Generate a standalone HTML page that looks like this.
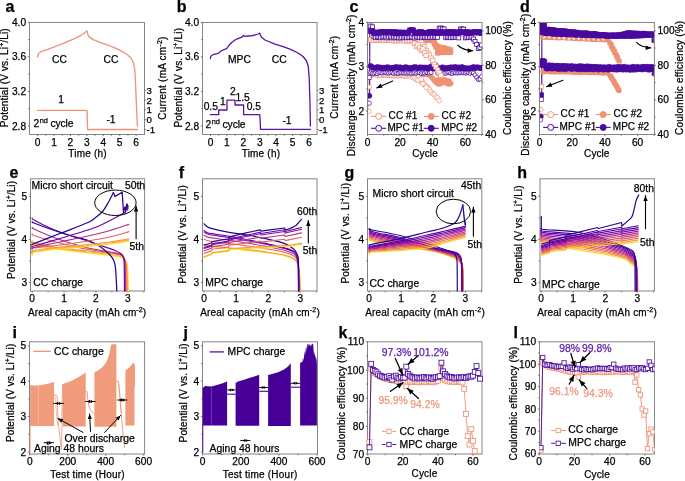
<!DOCTYPE html>
<html><head><meta charset="utf-8"><style>
html,body{margin:0;padding:0;background:#fff;width:685px;height:481px;overflow:hidden}
svg{display:block;will-change:transform}
text{font-family:"Liberation Sans", sans-serif;stroke:currentColor;stroke-width:0.25px;paint-order:stroke}
</style></head><body>
<svg width="685" height="481" viewBox="0 0 685 481">
<rect x="29.5" y="22.5" width="115" height="112" fill="none" stroke="#848484" stroke-width="1"/>
<line x1="27.9" y1="22.3" x2="29.5" y2="22.3" stroke="#555" stroke-width="0.8"/>
<text x="26.1" y="25.8" font-size="10.2" text-anchor="end" font-weight="normal" fill="#000" color="#000">4.0</text>
<line x1="27.9" y1="56.8" x2="29.5" y2="56.8" stroke="#555" stroke-width="0.8"/>
<text x="26.1" y="60.3" font-size="10.2" text-anchor="end" font-weight="normal" fill="#000" color="#000">3.6</text>
<line x1="27.9" y1="91.4" x2="29.5" y2="91.4" stroke="#555" stroke-width="0.8"/>
<text x="26.1" y="94.9" font-size="10.2" text-anchor="end" font-weight="normal" fill="#000" color="#000">3.2</text>
<line x1="27.9" y1="126" x2="29.5" y2="126" stroke="#555" stroke-width="0.8"/>
<text x="26.1" y="129.5" font-size="10.2" text-anchor="end" font-weight="normal" fill="#000" color="#000">2.8</text>
<line x1="28.22" y1="39.55" x2="29.5" y2="39.55" stroke="#555" stroke-width="0.8"/>
<line x1="28.22" y1="74.1" x2="29.5" y2="74.1" stroke="#555" stroke-width="0.8"/>
<line x1="28.22" y1="108.7" x2="29.5" y2="108.7" stroke="#555" stroke-width="0.8"/>
<line x1="37.6" y1="134.5" x2="37.6" y2="136.1" stroke="#555" stroke-width="0.8"/>
<text x="37.6" y="145.6" font-size="10.2" text-anchor="middle" font-weight="normal" fill="#000" color="#000">0</text>
<line x1="54.02" y1="134.5" x2="54.02" y2="136.1" stroke="#555" stroke-width="0.8"/>
<text x="54.02" y="145.6" font-size="10.2" text-anchor="middle" font-weight="normal" fill="#000" color="#000">1</text>
<line x1="70.44" y1="134.5" x2="70.44" y2="136.1" stroke="#555" stroke-width="0.8"/>
<text x="70.44" y="145.6" font-size="10.2" text-anchor="middle" font-weight="normal" fill="#000" color="#000">2</text>
<line x1="86.86" y1="134.5" x2="86.86" y2="136.1" stroke="#555" stroke-width="0.8"/>
<text x="86.86" y="145.6" font-size="10.2" text-anchor="middle" font-weight="normal" fill="#000" color="#000">3</text>
<line x1="103.28" y1="134.5" x2="103.28" y2="136.1" stroke="#555" stroke-width="0.8"/>
<text x="103.28" y="145.6" font-size="10.2" text-anchor="middle" font-weight="normal" fill="#000" color="#000">4</text>
<line x1="119.7" y1="134.5" x2="119.7" y2="136.1" stroke="#555" stroke-width="0.8"/>
<text x="119.7" y="145.6" font-size="10.2" text-anchor="middle" font-weight="normal" fill="#000" color="#000">5</text>
<line x1="136.12" y1="134.5" x2="136.12" y2="136.1" stroke="#555" stroke-width="0.8"/>
<text x="136.12" y="145.6" font-size="10.2" text-anchor="middle" font-weight="normal" fill="#000" color="#000">6</text>
<line x1="45.81" y1="134.5" x2="45.81" y2="135.78" stroke="#555" stroke-width="0.8"/>
<line x1="62.23" y1="134.5" x2="62.23" y2="135.78" stroke="#555" stroke-width="0.8"/>
<line x1="78.65" y1="134.5" x2="78.65" y2="135.78" stroke="#555" stroke-width="0.8"/>
<line x1="95.07" y1="134.5" x2="95.07" y2="135.78" stroke="#555" stroke-width="0.8"/>
<line x1="111.49" y1="134.5" x2="111.49" y2="135.78" stroke="#555" stroke-width="0.8"/>
<line x1="127.91" y1="134.5" x2="127.91" y2="135.78" stroke="#555" stroke-width="0.8"/>
<line x1="144.5" y1="90.3" x2="146.1" y2="90.3" stroke="#555" stroke-width="0.8"/>
<text x="146.6" y="93.8" font-size="9.7" text-anchor="start" font-weight="normal" fill="#000" color="#000">3</text>
<line x1="144.5" y1="100.1" x2="146.1" y2="100.1" stroke="#555" stroke-width="0.8"/>
<text x="146.6" y="103.6" font-size="9.7" text-anchor="start" font-weight="normal" fill="#000" color="#000">2</text>
<line x1="144.5" y1="109.9" x2="146.1" y2="109.9" stroke="#555" stroke-width="0.8"/>
<text x="146.6" y="113.4" font-size="9.7" text-anchor="start" font-weight="normal" fill="#000" color="#000">1</text>
<line x1="144.5" y1="119.7" x2="146.1" y2="119.7" stroke="#555" stroke-width="0.8"/>
<text x="146.6" y="123.2" font-size="9.7" text-anchor="start" font-weight="normal" fill="#000" color="#000">0</text>
<line x1="144.5" y1="129.5" x2="146.1" y2="129.5" stroke="#555" stroke-width="0.8"/>
<text x="146.6" y="133" font-size="9.7" text-anchor="start" font-weight="normal" fill="#000" color="#000">-1</text>
<text x="87.45" y="156.6" font-size="10" text-anchor="middle" font-weight="normal" fill="#000" color="#000" textLength="38.3" lengthAdjust="spacing">Time (h)</text>
<rect x="202.5" y="22.5" width="114.5" height="112" fill="none" stroke="#848484" stroke-width="1"/>
<line x1="200.9" y1="22.3" x2="202.5" y2="22.3" stroke="#555" stroke-width="0.8"/>
<text x="199.1" y="25.8" font-size="10.2" text-anchor="end" font-weight="normal" fill="#000" color="#000">4.0</text>
<line x1="200.9" y1="56.8" x2="202.5" y2="56.8" stroke="#555" stroke-width="0.8"/>
<text x="199.1" y="60.3" font-size="10.2" text-anchor="end" font-weight="normal" fill="#000" color="#000">3.6</text>
<line x1="200.9" y1="91.4" x2="202.5" y2="91.4" stroke="#555" stroke-width="0.8"/>
<text x="199.1" y="94.9" font-size="10.2" text-anchor="end" font-weight="normal" fill="#000" color="#000">3.2</text>
<line x1="200.9" y1="126" x2="202.5" y2="126" stroke="#555" stroke-width="0.8"/>
<text x="199.1" y="129.5" font-size="10.2" text-anchor="end" font-weight="normal" fill="#000" color="#000">2.8</text>
<line x1="201.22" y1="39.55" x2="202.5" y2="39.55" stroke="#555" stroke-width="0.8"/>
<line x1="201.22" y1="74.1" x2="202.5" y2="74.1" stroke="#555" stroke-width="0.8"/>
<line x1="201.22" y1="108.7" x2="202.5" y2="108.7" stroke="#555" stroke-width="0.8"/>
<line x1="210.5" y1="134.5" x2="210.5" y2="136.1" stroke="#555" stroke-width="0.8"/>
<text x="210.5" y="145.6" font-size="10.2" text-anchor="middle" font-weight="normal" fill="#000" color="#000">0</text>
<line x1="226.92" y1="134.5" x2="226.92" y2="136.1" stroke="#555" stroke-width="0.8"/>
<text x="226.92" y="145.6" font-size="10.2" text-anchor="middle" font-weight="normal" fill="#000" color="#000">1</text>
<line x1="243.34" y1="134.5" x2="243.34" y2="136.1" stroke="#555" stroke-width="0.8"/>
<text x="243.34" y="145.6" font-size="10.2" text-anchor="middle" font-weight="normal" fill="#000" color="#000">2</text>
<line x1="259.76" y1="134.5" x2="259.76" y2="136.1" stroke="#555" stroke-width="0.8"/>
<text x="259.76" y="145.6" font-size="10.2" text-anchor="middle" font-weight="normal" fill="#000" color="#000">3</text>
<line x1="276.18" y1="134.5" x2="276.18" y2="136.1" stroke="#555" stroke-width="0.8"/>
<text x="276.18" y="145.6" font-size="10.2" text-anchor="middle" font-weight="normal" fill="#000" color="#000">4</text>
<line x1="292.6" y1="134.5" x2="292.6" y2="136.1" stroke="#555" stroke-width="0.8"/>
<text x="292.6" y="145.6" font-size="10.2" text-anchor="middle" font-weight="normal" fill="#000" color="#000">5</text>
<line x1="309.02" y1="134.5" x2="309.02" y2="136.1" stroke="#555" stroke-width="0.8"/>
<text x="309.02" y="145.6" font-size="10.2" text-anchor="middle" font-weight="normal" fill="#000" color="#000">6</text>
<line x1="218.71" y1="134.5" x2="218.71" y2="135.78" stroke="#555" stroke-width="0.8"/>
<line x1="235.13" y1="134.5" x2="235.13" y2="135.78" stroke="#555" stroke-width="0.8"/>
<line x1="251.55" y1="134.5" x2="251.55" y2="135.78" stroke="#555" stroke-width="0.8"/>
<line x1="267.97" y1="134.5" x2="267.97" y2="135.78" stroke="#555" stroke-width="0.8"/>
<line x1="284.39" y1="134.5" x2="284.39" y2="135.78" stroke="#555" stroke-width="0.8"/>
<line x1="300.81" y1="134.5" x2="300.81" y2="135.78" stroke="#555" stroke-width="0.8"/>
<line x1="317" y1="90.3" x2="318.6" y2="90.3" stroke="#555" stroke-width="0.8"/>
<text x="319.1" y="93.8" font-size="9.7" text-anchor="start" font-weight="normal" fill="#000" color="#000">3</text>
<line x1="317" y1="100.1" x2="318.6" y2="100.1" stroke="#555" stroke-width="0.8"/>
<text x="319.1" y="103.6" font-size="9.7" text-anchor="start" font-weight="normal" fill="#000" color="#000">2</text>
<line x1="317" y1="109.9" x2="318.6" y2="109.9" stroke="#555" stroke-width="0.8"/>
<text x="319.1" y="113.4" font-size="9.7" text-anchor="start" font-weight="normal" fill="#000" color="#000">1</text>
<line x1="317" y1="119.7" x2="318.6" y2="119.7" stroke="#555" stroke-width="0.8"/>
<text x="319.1" y="123.2" font-size="9.7" text-anchor="start" font-weight="normal" fill="#000" color="#000">0</text>
<line x1="317" y1="129.5" x2="318.6" y2="129.5" stroke="#555" stroke-width="0.8"/>
<text x="319.1" y="133" font-size="9.7" text-anchor="start" font-weight="normal" fill="#000" color="#000">-1</text>
<text x="260.85" y="156.6" font-size="10" text-anchor="middle" font-weight="normal" fill="#000" color="#000" textLength="38.3" lengthAdjust="spacing">Time (h)</text>
<text x="8.4" y="77.8" font-size="10" text-anchor="middle" font-weight="normal" fill="#000" color="#000" transform="rotate(-90 8.4 77.8)" textLength="99" lengthAdjust="spacing">Potential (V vs. Li<tspan font-size="7" dy="-4">+</tspan><tspan dy="4">/Li)</tspan></text>
<text x="165.6" y="78.2" font-size="10" text-anchor="middle" font-weight="normal" fill="#000" color="#000" transform="rotate(-90 165.6 78.2)" textLength="83.2" lengthAdjust="spacing">Current (mA cm<tspan font-size="7" dy="-4">-2</tspan><tspan dy="4">)</tspan></text>
<text x="182.3" y="77.8" font-size="10" text-anchor="middle" font-weight="normal" fill="#000" color="#000" transform="rotate(-90 182.3 77.8)" textLength="99.6" lengthAdjust="spacing">Potential (V vs. Li<tspan font-size="7" dy="-4">+</tspan><tspan dy="4">/Li)</tspan></text>
<text x="338" y="77.25" font-size="10" text-anchor="middle" font-weight="normal" fill="#000" color="#000" transform="rotate(-90 338 77.25)" textLength="82.9" lengthAdjust="spacing">Current (mA cm<tspan font-size="7" dy="-4">-2</tspan><tspan dy="4">)</tspan></text>
<text x="5.4" y="11.6" font-size="16" text-anchor="start" font-weight="bold" fill="#000" color="#000">a</text>
<text x="176.8" y="11.6" font-size="16" text-anchor="start" font-weight="bold" fill="#000" color="#000">b</text>
<rect x="367.5" y="22.5" width="114.5" height="112" fill="none" stroke="#848484" stroke-width="1"/>
<line x1="365.9" y1="22.3" x2="367.5" y2="22.3" stroke="#555" stroke-width="0.8"/>
<text x="364.1" y="25.8" font-size="10.2" text-anchor="end" font-weight="normal" fill="#000" color="#000">4</text>
<line x1="365.9" y1="66.6" x2="367.5" y2="66.6" stroke="#555" stroke-width="0.8"/>
<text x="364.1" y="70.1" font-size="10.2" text-anchor="end" font-weight="normal" fill="#000" color="#000">3</text>
<line x1="365.9" y1="111" x2="367.5" y2="111" stroke="#555" stroke-width="0.8"/>
<text x="364.1" y="114.5" font-size="10.2" text-anchor="end" font-weight="normal" fill="#000" color="#000">2</text>
<line x1="366.22" y1="44.45" x2="367.5" y2="44.45" stroke="#555" stroke-width="0.8"/>
<line x1="366.22" y1="88.8" x2="367.5" y2="88.8" stroke="#555" stroke-width="0.8"/>
<line x1="482" y1="30.8" x2="483.6" y2="30.8" stroke="#555" stroke-width="0.8"/>
<text x="485.2" y="34.3" font-size="10.2" text-anchor="start" font-weight="normal" fill="#000" color="#000">100</text>
<line x1="482" y1="65.3" x2="483.6" y2="65.3" stroke="#555" stroke-width="0.8"/>
<text x="485.2" y="68.8" font-size="10.2" text-anchor="start" font-weight="normal" fill="#000" color="#000">80</text>
<line x1="482" y1="99.8" x2="483.6" y2="99.8" stroke="#555" stroke-width="0.8"/>
<text x="485.2" y="103.3" font-size="10.2" text-anchor="start" font-weight="normal" fill="#000" color="#000">60</text>
<line x1="482" y1="134.3" x2="483.6" y2="134.3" stroke="#555" stroke-width="0.8"/>
<text x="485.2" y="137.8" font-size="10.2" text-anchor="start" font-weight="normal" fill="#000" color="#000">40</text>
<line x1="482" y1="48.05" x2="483.28" y2="48.05" stroke="#555" stroke-width="0.8"/>
<line x1="482" y1="82.55" x2="483.28" y2="82.55" stroke="#555" stroke-width="0.8"/>
<line x1="482" y1="117.05" x2="483.28" y2="117.05" stroke="#555" stroke-width="0.8"/>
<line x1="367.5" y1="134.5" x2="367.5" y2="136.1" stroke="#555" stroke-width="0.8"/>
<text x="367.5" y="145.6" font-size="10.2" text-anchor="middle" font-weight="normal" fill="#000" color="#000">0</text>
<line x1="400.1" y1="134.5" x2="400.1" y2="136.1" stroke="#555" stroke-width="0.8"/>
<text x="400.1" y="145.6" font-size="10.2" text-anchor="middle" font-weight="normal" fill="#000" color="#000">20</text>
<line x1="432.7" y1="134.5" x2="432.7" y2="136.1" stroke="#555" stroke-width="0.8"/>
<text x="432.7" y="145.6" font-size="10.2" text-anchor="middle" font-weight="normal" fill="#000" color="#000">40</text>
<line x1="465.3" y1="134.5" x2="465.3" y2="136.1" stroke="#555" stroke-width="0.8"/>
<text x="465.3" y="145.6" font-size="10.2" text-anchor="middle" font-weight="normal" fill="#000" color="#000">60</text>
<line x1="383.8" y1="134.5" x2="383.8" y2="135.78" stroke="#555" stroke-width="0.8"/>
<line x1="416.4" y1="134.5" x2="416.4" y2="135.78" stroke="#555" stroke-width="0.8"/>
<line x1="449" y1="134.5" x2="449" y2="135.78" stroke="#555" stroke-width="0.8"/>
<line x1="481.6" y1="134.5" x2="481.6" y2="135.78" stroke="#555" stroke-width="0.8"/>
<rect x="539.5" y="22.5" width="114.9" height="112" fill="none" stroke="#848484" stroke-width="1"/>
<line x1="537.9" y1="22.3" x2="539.5" y2="22.3" stroke="#555" stroke-width="0.8"/>
<text x="536.1" y="25.8" font-size="10.2" text-anchor="end" font-weight="normal" fill="#000" color="#000">4</text>
<line x1="537.9" y1="66.6" x2="539.5" y2="66.6" stroke="#555" stroke-width="0.8"/>
<text x="536.1" y="70.1" font-size="10.2" text-anchor="end" font-weight="normal" fill="#000" color="#000">3</text>
<line x1="537.9" y1="111" x2="539.5" y2="111" stroke="#555" stroke-width="0.8"/>
<text x="536.1" y="114.5" font-size="10.2" text-anchor="end" font-weight="normal" fill="#000" color="#000">2</text>
<line x1="538.22" y1="44.45" x2="539.5" y2="44.45" stroke="#555" stroke-width="0.8"/>
<line x1="538.22" y1="88.8" x2="539.5" y2="88.8" stroke="#555" stroke-width="0.8"/>
<line x1="654.4" y1="30.8" x2="656" y2="30.8" stroke="#555" stroke-width="0.8"/>
<text x="657.6" y="34.3" font-size="10.2" text-anchor="start" font-weight="normal" fill="#000" color="#000">100</text>
<line x1="654.4" y1="65.3" x2="656" y2="65.3" stroke="#555" stroke-width="0.8"/>
<text x="657.6" y="68.8" font-size="10.2" text-anchor="start" font-weight="normal" fill="#000" color="#000">80</text>
<line x1="654.4" y1="99.8" x2="656" y2="99.8" stroke="#555" stroke-width="0.8"/>
<text x="657.6" y="103.3" font-size="10.2" text-anchor="start" font-weight="normal" fill="#000" color="#000">60</text>
<line x1="654.4" y1="134.3" x2="656" y2="134.3" stroke="#555" stroke-width="0.8"/>
<text x="657.6" y="137.8" font-size="10.2" text-anchor="start" font-weight="normal" fill="#000" color="#000">40</text>
<line x1="654.4" y1="48.05" x2="655.68" y2="48.05" stroke="#555" stroke-width="0.8"/>
<line x1="654.4" y1="82.55" x2="655.68" y2="82.55" stroke="#555" stroke-width="0.8"/>
<line x1="654.4" y1="117.05" x2="655.68" y2="117.05" stroke="#555" stroke-width="0.8"/>
<line x1="539.5" y1="134.5" x2="539.5" y2="136.1" stroke="#555" stroke-width="0.8"/>
<text x="539.5" y="145.6" font-size="10.2" text-anchor="middle" font-weight="normal" fill="#000" color="#000">0</text>
<line x1="572.2" y1="134.5" x2="572.2" y2="136.1" stroke="#555" stroke-width="0.8"/>
<text x="572.2" y="145.6" font-size="10.2" text-anchor="middle" font-weight="normal" fill="#000" color="#000">20</text>
<line x1="604.9" y1="134.5" x2="604.9" y2="136.1" stroke="#555" stroke-width="0.8"/>
<text x="604.9" y="145.6" font-size="10.2" text-anchor="middle" font-weight="normal" fill="#000" color="#000">40</text>
<line x1="637.6" y1="134.5" x2="637.6" y2="136.1" stroke="#555" stroke-width="0.8"/>
<text x="637.6" y="145.6" font-size="10.2" text-anchor="middle" font-weight="normal" fill="#000" color="#000">60</text>
<line x1="555.85" y1="134.5" x2="555.85" y2="135.78" stroke="#555" stroke-width="0.8"/>
<line x1="588.55" y1="134.5" x2="588.55" y2="135.78" stroke="#555" stroke-width="0.8"/>
<line x1="621.25" y1="134.5" x2="621.25" y2="135.78" stroke="#555" stroke-width="0.8"/>
<line x1="653.95" y1="134.5" x2="653.95" y2="135.78" stroke="#555" stroke-width="0.8"/>
<text x="425" y="157.4" font-size="10" text-anchor="middle" font-weight="normal" fill="#000" color="#000" textLength="25.6" lengthAdjust="spacing">Cycle</text>
<text x="596.7" y="157.4" font-size="10" text-anchor="middle" font-weight="normal" fill="#000" color="#000" textLength="25.2" lengthAdjust="spacing">Cycle</text>
<text x="355.3" y="85.4" font-size="10" text-anchor="middle" font-weight="normal" fill="#000" color="#000" transform="rotate(-90 355.3 85.4)" textLength="141.6" lengthAdjust="spacing">Discharge capacity (mAh cm<tspan font-size="7" dy="-4">-2</tspan><tspan dy="4">)</tspan></text>
<text x="511.1" y="78.05" font-size="10" text-anchor="middle" font-weight="normal" fill="#000" color="#000" transform="rotate(-90 511.1 78.05)" textLength="113.7" lengthAdjust="spacing">Coulombic efficiency (%)</text>
<text x="528.6" y="84.7" font-size="10" text-anchor="middle" font-weight="normal" fill="#000" color="#000" transform="rotate(-90 528.6 84.7)" textLength="142" lengthAdjust="spacing">Discharge capacity (mAh cm<tspan font-size="7" dy="-4">-2</tspan><tspan dy="4">)</tspan></text>
<text x="682.8" y="77.85" font-size="10" text-anchor="middle" font-weight="normal" fill="#000" color="#000" transform="rotate(-90 682.8 77.85)" textLength="114.1" lengthAdjust="spacing">Coulombic efficiency (%)</text>
<text x="349.5" y="11.6" font-size="16" text-anchor="start" font-weight="bold" fill="#000" color="#000">c</text>
<text x="520" y="11.6" font-size="16" text-anchor="start" font-weight="bold" fill="#000" color="#000">d</text>
<rect x="30.5" y="178.8" width="114.1" height="112.2" fill="none" stroke="#848484" stroke-width="1"/>
<line x1="28.9" y1="196.3" x2="30.5" y2="196.3" stroke="#555" stroke-width="0.8"/>
<text x="27.1" y="199.8" font-size="10.2" text-anchor="end" font-weight="normal" fill="#000" color="#000">5</text>
<line x1="28.9" y1="239.4" x2="30.5" y2="239.4" stroke="#555" stroke-width="0.8"/>
<text x="27.1" y="242.9" font-size="10.2" text-anchor="end" font-weight="normal" fill="#000" color="#000">4</text>
<line x1="28.9" y1="282.4" x2="30.5" y2="282.4" stroke="#555" stroke-width="0.8"/>
<text x="27.1" y="285.9" font-size="10.2" text-anchor="end" font-weight="normal" fill="#000" color="#000">3</text>
<line x1="29.22" y1="217.85" x2="30.5" y2="217.85" stroke="#555" stroke-width="0.8"/>
<line x1="29.22" y1="260.9" x2="30.5" y2="260.9" stroke="#555" stroke-width="0.8"/>
<line x1="32.2" y1="291" x2="32.2" y2="292.6" stroke="#555" stroke-width="0.8"/>
<text x="32.2" y="302.3" font-size="10.2" text-anchor="middle" font-weight="normal" fill="#000" color="#000">0</text>
<line x1="64.05" y1="291" x2="64.05" y2="292.6" stroke="#555" stroke-width="0.8"/>
<text x="64.05" y="302.3" font-size="10.2" text-anchor="middle" font-weight="normal" fill="#000" color="#000">1</text>
<line x1="95.9" y1="291" x2="95.9" y2="292.6" stroke="#555" stroke-width="0.8"/>
<text x="95.9" y="302.3" font-size="10.2" text-anchor="middle" font-weight="normal" fill="#000" color="#000">2</text>
<line x1="127.75" y1="291" x2="127.75" y2="292.6" stroke="#555" stroke-width="0.8"/>
<text x="127.75" y="302.3" font-size="10.2" text-anchor="middle" font-weight="normal" fill="#000" color="#000">3</text>
<line x1="48.12" y1="291" x2="48.12" y2="292.28" stroke="#555" stroke-width="0.8"/>
<line x1="79.98" y1="291" x2="79.98" y2="292.28" stroke="#555" stroke-width="0.8"/>
<line x1="111.83" y1="291" x2="111.83" y2="292.28" stroke="#555" stroke-width="0.8"/>
<line x1="143.68" y1="291" x2="143.68" y2="292.28" stroke="#555" stroke-width="0.8"/>
<rect x="202.5" y="178.8" width="114.5" height="112.2" fill="none" stroke="#848484" stroke-width="1"/>
<line x1="200.9" y1="196.3" x2="202.5" y2="196.3" stroke="#555" stroke-width="0.8"/>
<text x="199.1" y="199.8" font-size="10.2" text-anchor="end" font-weight="normal" fill="#000" color="#000">5</text>
<line x1="200.9" y1="239.4" x2="202.5" y2="239.4" stroke="#555" stroke-width="0.8"/>
<text x="199.1" y="242.9" font-size="10.2" text-anchor="end" font-weight="normal" fill="#000" color="#000">4</text>
<line x1="200.9" y1="282.4" x2="202.5" y2="282.4" stroke="#555" stroke-width="0.8"/>
<text x="199.1" y="285.9" font-size="10.2" text-anchor="end" font-weight="normal" fill="#000" color="#000">3</text>
<line x1="201.22" y1="217.85" x2="202.5" y2="217.85" stroke="#555" stroke-width="0.8"/>
<line x1="201.22" y1="260.9" x2="202.5" y2="260.9" stroke="#555" stroke-width="0.8"/>
<line x1="204" y1="291" x2="204" y2="292.6" stroke="#555" stroke-width="0.8"/>
<text x="204" y="302.3" font-size="10.2" text-anchor="middle" font-weight="normal" fill="#000" color="#000">0</text>
<line x1="236.15" y1="291" x2="236.15" y2="292.6" stroke="#555" stroke-width="0.8"/>
<text x="236.15" y="302.3" font-size="10.2" text-anchor="middle" font-weight="normal" fill="#000" color="#000">1</text>
<line x1="268.3" y1="291" x2="268.3" y2="292.6" stroke="#555" stroke-width="0.8"/>
<text x="268.3" y="302.3" font-size="10.2" text-anchor="middle" font-weight="normal" fill="#000" color="#000">2</text>
<line x1="300.45" y1="291" x2="300.45" y2="292.6" stroke="#555" stroke-width="0.8"/>
<text x="300.45" y="302.3" font-size="10.2" text-anchor="middle" font-weight="normal" fill="#000" color="#000">3</text>
<line x1="220.07" y1="291" x2="220.07" y2="292.28" stroke="#555" stroke-width="0.8"/>
<line x1="252.22" y1="291" x2="252.22" y2="292.28" stroke="#555" stroke-width="0.8"/>
<line x1="284.38" y1="291" x2="284.38" y2="292.28" stroke="#555" stroke-width="0.8"/>
<line x1="316.52" y1="291" x2="316.52" y2="292.28" stroke="#555" stroke-width="0.8"/>
<rect x="367.5" y="178.8" width="114.3" height="112.2" fill="none" stroke="#848484" stroke-width="1"/>
<line x1="365.9" y1="196.3" x2="367.5" y2="196.3" stroke="#555" stroke-width="0.8"/>
<text x="364.1" y="199.8" font-size="10.2" text-anchor="end" font-weight="normal" fill="#000" color="#000">5</text>
<line x1="365.9" y1="239.4" x2="367.5" y2="239.4" stroke="#555" stroke-width="0.8"/>
<text x="364.1" y="242.9" font-size="10.2" text-anchor="end" font-weight="normal" fill="#000" color="#000">4</text>
<line x1="365.9" y1="282.4" x2="367.5" y2="282.4" stroke="#555" stroke-width="0.8"/>
<text x="364.1" y="285.9" font-size="10.2" text-anchor="end" font-weight="normal" fill="#000" color="#000">3</text>
<line x1="366.22" y1="217.85" x2="367.5" y2="217.85" stroke="#555" stroke-width="0.8"/>
<line x1="366.22" y1="260.9" x2="367.5" y2="260.9" stroke="#555" stroke-width="0.8"/>
<line x1="369" y1="291" x2="369" y2="292.6" stroke="#555" stroke-width="0.8"/>
<text x="369" y="302.3" font-size="10.2" text-anchor="middle" font-weight="normal" fill="#000" color="#000">0</text>
<line x1="401.15" y1="291" x2="401.15" y2="292.6" stroke="#555" stroke-width="0.8"/>
<text x="401.15" y="302.3" font-size="10.2" text-anchor="middle" font-weight="normal" fill="#000" color="#000">1</text>
<line x1="433.3" y1="291" x2="433.3" y2="292.6" stroke="#555" stroke-width="0.8"/>
<text x="433.3" y="302.3" font-size="10.2" text-anchor="middle" font-weight="normal" fill="#000" color="#000">2</text>
<line x1="465.45" y1="291" x2="465.45" y2="292.6" stroke="#555" stroke-width="0.8"/>
<text x="465.45" y="302.3" font-size="10.2" text-anchor="middle" font-weight="normal" fill="#000" color="#000">3</text>
<line x1="385.07" y1="291" x2="385.07" y2="292.28" stroke="#555" stroke-width="0.8"/>
<line x1="417.23" y1="291" x2="417.23" y2="292.28" stroke="#555" stroke-width="0.8"/>
<line x1="449.38" y1="291" x2="449.38" y2="292.28" stroke="#555" stroke-width="0.8"/>
<line x1="481.52" y1="291" x2="481.52" y2="292.28" stroke="#555" stroke-width="0.8"/>
<rect x="540" y="178.8" width="114.4" height="112.2" fill="none" stroke="#848484" stroke-width="1"/>
<line x1="538.4" y1="196.3" x2="540" y2="196.3" stroke="#555" stroke-width="0.8"/>
<text x="536.6" y="199.8" font-size="10.2" text-anchor="end" font-weight="normal" fill="#000" color="#000">5</text>
<line x1="538.4" y1="239.4" x2="540" y2="239.4" stroke="#555" stroke-width="0.8"/>
<text x="536.6" y="242.9" font-size="10.2" text-anchor="end" font-weight="normal" fill="#000" color="#000">4</text>
<line x1="538.4" y1="282.4" x2="540" y2="282.4" stroke="#555" stroke-width="0.8"/>
<text x="536.6" y="285.9" font-size="10.2" text-anchor="end" font-weight="normal" fill="#000" color="#000">3</text>
<line x1="538.72" y1="217.85" x2="540" y2="217.85" stroke="#555" stroke-width="0.8"/>
<line x1="538.72" y1="260.9" x2="540" y2="260.9" stroke="#555" stroke-width="0.8"/>
<line x1="541" y1="291" x2="541" y2="292.6" stroke="#555" stroke-width="0.8"/>
<text x="541" y="302.3" font-size="10.2" text-anchor="middle" font-weight="normal" fill="#000" color="#000">0</text>
<line x1="573.15" y1="291" x2="573.15" y2="292.6" stroke="#555" stroke-width="0.8"/>
<text x="573.15" y="302.3" font-size="10.2" text-anchor="middle" font-weight="normal" fill="#000" color="#000">1</text>
<line x1="605.3" y1="291" x2="605.3" y2="292.6" stroke="#555" stroke-width="0.8"/>
<text x="605.3" y="302.3" font-size="10.2" text-anchor="middle" font-weight="normal" fill="#000" color="#000">2</text>
<line x1="637.45" y1="291" x2="637.45" y2="292.6" stroke="#555" stroke-width="0.8"/>
<text x="637.45" y="302.3" font-size="10.2" text-anchor="middle" font-weight="normal" fill="#000" color="#000">3</text>
<line x1="557.08" y1="291" x2="557.08" y2="292.28" stroke="#555" stroke-width="0.8"/>
<line x1="589.23" y1="291" x2="589.23" y2="292.28" stroke="#555" stroke-width="0.8"/>
<line x1="621.38" y1="291" x2="621.38" y2="292.28" stroke="#555" stroke-width="0.8"/>
<line x1="653.52" y1="291" x2="653.52" y2="292.28" stroke="#555" stroke-width="0.8"/>
<text x="87.1" y="316.3" font-size="10" text-anchor="middle" font-weight="normal" fill="#000" color="#000" textLength="118.2" lengthAdjust="spacing">Areal capacity (mAh cm<tspan font-size="7" dy="-4">-2</tspan><tspan dy="4">)</tspan></text>
<text x="260" y="315.6" font-size="10" text-anchor="middle" font-weight="normal" fill="#000" color="#000" textLength="119.6" lengthAdjust="spacing">Areal capacity (mAh cm<tspan font-size="7" dy="-4">-2</tspan><tspan dy="4">)</tspan></text>
<text x="425" y="315.6" font-size="10" text-anchor="middle" font-weight="normal" fill="#000" color="#000" textLength="119.6" lengthAdjust="spacing">Areal capacity (mAh cm<tspan font-size="7" dy="-4">-2</tspan><tspan dy="4">)</tspan></text>
<text x="597" y="316.3" font-size="10" text-anchor="middle" font-weight="normal" fill="#000" color="#000" textLength="119.6" lengthAdjust="spacing">Areal capacity (mAh cm<tspan font-size="7" dy="-4">-2</tspan><tspan dy="4">)</tspan></text>
<text x="15" y="229.95" font-size="10" text-anchor="middle" font-weight="normal" fill="#000" color="#000" transform="rotate(-90 15 229.95)" textLength="97.9" lengthAdjust="spacing">Potential (V vs. Li<tspan font-size="7" dy="-4">+</tspan><tspan dy="4">/Li)</tspan></text>
<text x="186" y="234.4" font-size="10" text-anchor="middle" font-weight="normal" fill="#000" color="#000" transform="rotate(-90 186 234.4)" textLength="98.4" lengthAdjust="spacing">Potential (V vs. Li<tspan font-size="7" dy="-4">+</tspan><tspan dy="4">/Li)</tspan></text>
<text x="348.6" y="233.25" font-size="10" text-anchor="middle" font-weight="normal" fill="#000" color="#000" transform="rotate(-90 348.6 233.25)" textLength="100.7" lengthAdjust="spacing">Potential (V vs. Li<tspan font-size="7" dy="-4">+</tspan><tspan dy="4">/Li)</tspan></text>
<text x="521.6" y="234.65" font-size="10" text-anchor="middle" font-weight="normal" fill="#000" color="#000" transform="rotate(-90 521.6 234.65)" textLength="98.3" lengthAdjust="spacing">Potential (V vs. Li<tspan font-size="7" dy="-4">+</tspan><tspan dy="4">/Li)</tspan></text>
<text x="9.5" y="177.8" font-size="16" text-anchor="start" font-weight="bold" fill="#000" color="#000">e</text>
<text x="178.8" y="177.8" font-size="16" text-anchor="start" font-weight="bold" fill="#000" color="#000">f</text>
<text x="344.4" y="177.8" font-size="16" text-anchor="start" font-weight="bold" fill="#000" color="#000">g</text>
<text x="517.3" y="177.6" font-size="16" text-anchor="start" font-weight="bold" fill="#000" color="#000">h</text>
<rect x="29.5" y="341.8" width="115.1" height="112.2" fill="none" stroke="#848484" stroke-width="1"/>
<line x1="27.9" y1="345.8" x2="29.5" y2="345.8" stroke="#555" stroke-width="0.8"/>
<text x="26.1" y="349.3" font-size="10.2" text-anchor="end" font-weight="normal" fill="#000" color="#000">5</text>
<line x1="27.9" y1="381.2" x2="29.5" y2="381.2" stroke="#555" stroke-width="0.8"/>
<text x="26.1" y="384.7" font-size="10.2" text-anchor="end" font-weight="normal" fill="#000" color="#000">4</text>
<line x1="27.9" y1="416.6" x2="29.5" y2="416.6" stroke="#555" stroke-width="0.8"/>
<text x="26.1" y="420.1" font-size="10.2" text-anchor="end" font-weight="normal" fill="#000" color="#000">3</text>
<line x1="27.9" y1="452" x2="29.5" y2="452" stroke="#555" stroke-width="0.8"/>
<text x="26.1" y="455.5" font-size="10.2" text-anchor="end" font-weight="normal" fill="#000" color="#000">2</text>
<line x1="28.22" y1="363.5" x2="29.5" y2="363.5" stroke="#555" stroke-width="0.8"/>
<line x1="28.22" y1="398.9" x2="29.5" y2="398.9" stroke="#555" stroke-width="0.8"/>
<line x1="28.22" y1="434.3" x2="29.5" y2="434.3" stroke="#555" stroke-width="0.8"/>
<line x1="29.8" y1="454" x2="29.8" y2="455.6" stroke="#555" stroke-width="0.8"/>
<text x="29.8" y="465.3" font-size="10.2" text-anchor="middle" font-weight="normal" fill="#000" color="#000">0</text>
<line x1="67.74" y1="454" x2="67.74" y2="455.6" stroke="#555" stroke-width="0.8"/>
<text x="67.74" y="465.3" font-size="10.2" text-anchor="middle" font-weight="normal" fill="#000" color="#000">200</text>
<line x1="105.68" y1="454" x2="105.68" y2="455.6" stroke="#555" stroke-width="0.8"/>
<text x="105.68" y="465.3" font-size="10.2" text-anchor="middle" font-weight="normal" fill="#000" color="#000">400</text>
<line x1="143.62" y1="454" x2="143.62" y2="455.6" stroke="#555" stroke-width="0.8"/>
<text x="143.62" y="465.3" font-size="10.2" text-anchor="middle" font-weight="normal" fill="#000" color="#000">600</text>
<line x1="48.77" y1="454" x2="48.77" y2="455.28" stroke="#555" stroke-width="0.8"/>
<line x1="86.71" y1="454" x2="86.71" y2="455.28" stroke="#555" stroke-width="0.8"/>
<line x1="124.65" y1="454" x2="124.65" y2="455.28" stroke="#555" stroke-width="0.8"/>
<rect x="202.5" y="341.8" width="115" height="112.2" fill="none" stroke="#848484" stroke-width="1"/>
<line x1="200.9" y1="345.8" x2="202.5" y2="345.8" stroke="#555" stroke-width="0.8"/>
<text x="199.1" y="349.3" font-size="10.2" text-anchor="end" font-weight="normal" fill="#000" color="#000">5</text>
<line x1="200.9" y1="381.2" x2="202.5" y2="381.2" stroke="#555" stroke-width="0.8"/>
<text x="199.1" y="384.7" font-size="10.2" text-anchor="end" font-weight="normal" fill="#000" color="#000">4</text>
<line x1="200.9" y1="416.6" x2="202.5" y2="416.6" stroke="#555" stroke-width="0.8"/>
<text x="199.1" y="420.1" font-size="10.2" text-anchor="end" font-weight="normal" fill="#000" color="#000">3</text>
<line x1="200.9" y1="452" x2="202.5" y2="452" stroke="#555" stroke-width="0.8"/>
<text x="199.1" y="455.5" font-size="10.2" text-anchor="end" font-weight="normal" fill="#000" color="#000">2</text>
<line x1="201.22" y1="363.5" x2="202.5" y2="363.5" stroke="#555" stroke-width="0.8"/>
<line x1="201.22" y1="398.9" x2="202.5" y2="398.9" stroke="#555" stroke-width="0.8"/>
<line x1="201.22" y1="434.3" x2="202.5" y2="434.3" stroke="#555" stroke-width="0.8"/>
<line x1="202.7" y1="454" x2="202.7" y2="455.6" stroke="#555" stroke-width="0.8"/>
<text x="202.7" y="465.3" font-size="10.2" text-anchor="middle" font-weight="normal" fill="#000" color="#000">0</text>
<line x1="240.8" y1="454" x2="240.8" y2="455.6" stroke="#555" stroke-width="0.8"/>
<text x="240.8" y="465.3" font-size="10.2" text-anchor="middle" font-weight="normal" fill="#000" color="#000">200</text>
<line x1="278.9" y1="454" x2="278.9" y2="455.6" stroke="#555" stroke-width="0.8"/>
<text x="278.9" y="465.3" font-size="10.2" text-anchor="middle" font-weight="normal" fill="#000" color="#000">400</text>
<line x1="317" y1="454" x2="317" y2="455.6" stroke="#555" stroke-width="0.8"/>
<text x="317" y="465.3" font-size="10.2" text-anchor="middle" font-weight="normal" fill="#000" color="#000">600</text>
<line x1="221.75" y1="454" x2="221.75" y2="455.28" stroke="#555" stroke-width="0.8"/>
<line x1="259.85" y1="454" x2="259.85" y2="455.28" stroke="#555" stroke-width="0.8"/>
<line x1="297.95" y1="454" x2="297.95" y2="455.28" stroke="#555" stroke-width="0.8"/>
<text x="87.4" y="477.6" font-size="10" text-anchor="middle" font-weight="normal" fill="#000" color="#000" textLength="74.4" lengthAdjust="spacing">Test time (Hour)</text>
<text x="260" y="477.9" font-size="10" text-anchor="middle" font-weight="normal" fill="#000" color="#000" textLength="74.6" lengthAdjust="spacing">Test time (Hour)</text>
<text x="14" y="392.85" font-size="10" text-anchor="middle" font-weight="normal" fill="#000" color="#000" transform="rotate(-90 14 392.85)" textLength="98.3" lengthAdjust="spacing">Potential (V vs. Li<tspan font-size="7" dy="-4">+</tspan><tspan dy="4">/Li)</tspan></text>
<text x="187" y="392.85" font-size="10" text-anchor="middle" font-weight="normal" fill="#000" color="#000" transform="rotate(-90 187 392.85)" textLength="99.1" lengthAdjust="spacing">Potential (V vs. Li<tspan font-size="7" dy="-4">+</tspan><tspan dy="4">/Li)</tspan></text>
<text x="12.5" y="337.5" font-size="16" text-anchor="start" font-weight="bold" fill="#000" color="#000">i</text>
<text x="183.5" y="337.5" font-size="16" text-anchor="start" font-weight="bold" fill="#000" color="#000">j</text>
<rect x="367.5" y="341.8" width="114.5" height="112.2" fill="none" stroke="#848484" stroke-width="1"/>
<line x1="365.9" y1="341.8" x2="367.5" y2="341.8" stroke="#555" stroke-width="0.8"/>
<text x="364.1" y="345.3" font-size="10.2" text-anchor="end" font-weight="normal" fill="#000" color="#000">110</text>
<line x1="365.9" y1="370" x2="367.5" y2="370" stroke="#555" stroke-width="0.8"/>
<text x="364.1" y="373.5" font-size="10.2" text-anchor="end" font-weight="normal" fill="#000" color="#000">100</text>
<line x1="365.9" y1="398.1" x2="367.5" y2="398.1" stroke="#555" stroke-width="0.8"/>
<text x="364.1" y="401.6" font-size="10.2" text-anchor="end" font-weight="normal" fill="#000" color="#000">90</text>
<line x1="365.9" y1="426.2" x2="367.5" y2="426.2" stroke="#555" stroke-width="0.8"/>
<text x="364.1" y="429.7" font-size="10.2" text-anchor="end" font-weight="normal" fill="#000" color="#000">80</text>
<line x1="365.9" y1="454" x2="367.5" y2="454" stroke="#555" stroke-width="0.8"/>
<text x="364.1" y="457.5" font-size="10.2" text-anchor="end" font-weight="normal" fill="#000" color="#000">70</text>
<line x1="366.22" y1="355.9" x2="367.5" y2="355.9" stroke="#555" stroke-width="0.8"/>
<line x1="366.22" y1="384.05" x2="367.5" y2="384.05" stroke="#555" stroke-width="0.8"/>
<line x1="366.22" y1="412.15" x2="367.5" y2="412.15" stroke="#555" stroke-width="0.8"/>
<line x1="366.22" y1="440.1" x2="367.5" y2="440.1" stroke="#555" stroke-width="0.8"/>
<line x1="367.7" y1="454" x2="367.7" y2="455.6" stroke="#555" stroke-width="0.8"/>
<text x="367.7" y="465.3" font-size="10.2" text-anchor="middle" font-weight="normal" fill="#000" color="#000">0</text>
<line x1="402.8" y1="454" x2="402.8" y2="455.6" stroke="#555" stroke-width="0.8"/>
<text x="402.8" y="465.3" font-size="10.2" text-anchor="middle" font-weight="normal" fill="#000" color="#000">20</text>
<line x1="437.9" y1="454" x2="437.9" y2="455.6" stroke="#555" stroke-width="0.8"/>
<text x="437.9" y="465.3" font-size="10.2" text-anchor="middle" font-weight="normal" fill="#000" color="#000">40</text>
<line x1="473" y1="454" x2="473" y2="455.6" stroke="#555" stroke-width="0.8"/>
<text x="473" y="465.3" font-size="10.2" text-anchor="middle" font-weight="normal" fill="#000" color="#000">60</text>
<line x1="385.25" y1="454" x2="385.25" y2="455.28" stroke="#555" stroke-width="0.8"/>
<line x1="420.35" y1="454" x2="420.35" y2="455.28" stroke="#555" stroke-width="0.8"/>
<line x1="455.45" y1="454" x2="455.45" y2="455.28" stroke="#555" stroke-width="0.8"/>
<rect x="539.5" y="341.8" width="115" height="112.2" fill="none" stroke="#848484" stroke-width="1"/>
<line x1="537.9" y1="341.8" x2="539.5" y2="341.8" stroke="#555" stroke-width="0.8"/>
<text x="536.1" y="345.3" font-size="10.2" text-anchor="end" font-weight="normal" fill="#000" color="#000">110</text>
<line x1="537.9" y1="364.2" x2="539.5" y2="364.2" stroke="#555" stroke-width="0.8"/>
<text x="536.1" y="367.7" font-size="10.2" text-anchor="end" font-weight="normal" fill="#000" color="#000">100</text>
<line x1="537.9" y1="386.6" x2="539.5" y2="386.6" stroke="#555" stroke-width="0.8"/>
<text x="536.1" y="390.1" font-size="10.2" text-anchor="end" font-weight="normal" fill="#000" color="#000">90</text>
<line x1="537.9" y1="409" x2="539.5" y2="409" stroke="#555" stroke-width="0.8"/>
<text x="536.1" y="412.5" font-size="10.2" text-anchor="end" font-weight="normal" fill="#000" color="#000">80</text>
<line x1="537.9" y1="431.3" x2="539.5" y2="431.3" stroke="#555" stroke-width="0.8"/>
<text x="536.1" y="434.8" font-size="10.2" text-anchor="end" font-weight="normal" fill="#000" color="#000">70</text>
<line x1="537.9" y1="453.6" x2="539.5" y2="453.6" stroke="#555" stroke-width="0.8"/>
<text x="536.1" y="457.1" font-size="10.2" text-anchor="end" font-weight="normal" fill="#000" color="#000">60</text>
<line x1="538.22" y1="353" x2="539.5" y2="353" stroke="#555" stroke-width="0.8"/>
<line x1="538.22" y1="375.4" x2="539.5" y2="375.4" stroke="#555" stroke-width="0.8"/>
<line x1="538.22" y1="397.8" x2="539.5" y2="397.8" stroke="#555" stroke-width="0.8"/>
<line x1="538.22" y1="420.15" x2="539.5" y2="420.15" stroke="#555" stroke-width="0.8"/>
<line x1="538.22" y1="442.45" x2="539.5" y2="442.45" stroke="#555" stroke-width="0.8"/>
<line x1="539.2" y1="454" x2="539.2" y2="455.6" stroke="#555" stroke-width="0.8"/>
<text x="539.2" y="465.3" font-size="10.2" text-anchor="middle" font-weight="normal" fill="#000" color="#000">0</text>
<line x1="574.44" y1="454" x2="574.44" y2="455.6" stroke="#555" stroke-width="0.8"/>
<text x="574.44" y="465.3" font-size="10.2" text-anchor="middle" font-weight="normal" fill="#000" color="#000">20</text>
<line x1="609.68" y1="454" x2="609.68" y2="455.6" stroke="#555" stroke-width="0.8"/>
<text x="609.68" y="465.3" font-size="10.2" text-anchor="middle" font-weight="normal" fill="#000" color="#000">40</text>
<line x1="644.92" y1="454" x2="644.92" y2="455.6" stroke="#555" stroke-width="0.8"/>
<text x="644.92" y="465.3" font-size="10.2" text-anchor="middle" font-weight="normal" fill="#000" color="#000">60</text>
<line x1="556.82" y1="454" x2="556.82" y2="455.28" stroke="#555" stroke-width="0.8"/>
<line x1="592.06" y1="454" x2="592.06" y2="455.28" stroke="#555" stroke-width="0.8"/>
<line x1="627.3" y1="454" x2="627.3" y2="455.28" stroke="#555" stroke-width="0.8"/>
<text x="424.4" y="476.6" font-size="10" text-anchor="middle" font-weight="normal" fill="#000" color="#000" textLength="25.8" lengthAdjust="spacing">Cycle</text>
<text x="596.95" y="477.9" font-size="10" text-anchor="middle" font-weight="normal" fill="#000" color="#000" textLength="25.5" lengthAdjust="spacing">Cycle</text>
<text x="344.5" y="403.75" font-size="10" text-anchor="middle" font-weight="normal" fill="#000" color="#000" transform="rotate(-90 344.5 403.75)" textLength="113.5" lengthAdjust="spacing">Coulombic efficiency (%)</text>
<text x="517.4" y="403.55" font-size="10" text-anchor="middle" font-weight="normal" fill="#000" color="#000" transform="rotate(-90 517.4 403.55)" textLength="113.9" lengthAdjust="spacing">Coulombic efficiency (%)</text>
<text x="338.5" y="337.5" font-size="16" text-anchor="start" font-weight="bold" fill="#000" color="#000">k</text>
<text x="513.5" y="337.5" font-size="16" text-anchor="start" font-weight="bold" fill="#000" color="#000">l</text>
<polyline points="37.5,56.9 38,54.8 38.9,53 40.5,51.8 43,50.9 47,49.6 55,46.6 65,42.6 75,38.3 81,35.3 84.5,33 86.6,30.9 87.4,32 87.8,34.5 89,36.6 93.3,39.6 100,42.4 108,45.2 116.7,48.6 123,51.8 127.5,54.8 131.2,58.5 133.6,63.5 134.8,70 135.4,80 136.2,100 137,118 137.4,126" fill="none" stroke="#ee9274" stroke-width="1.3" stroke-linejoin="round" stroke-linecap="round"/>
<polyline points="37.5,110.3 87,110.3 87.3,121 87.6,129.5 137.6,129.5" fill="none" stroke="#ee9274" stroke-width="1.3" stroke-linejoin="round" stroke-linecap="round"/>
<text x="59.5" y="63" font-size="10.3" text-anchor="middle" font-weight="normal" fill="#000" color="#000">CC</text>
<text x="111" y="63" font-size="10.3" text-anchor="middle" font-weight="normal" fill="#000" color="#000">CC</text>
<text x="61" y="103" font-size="10.3" text-anchor="middle" font-weight="normal" fill="#000" color="#000">1</text>
<text x="111" y="123" font-size="10.3" text-anchor="middle" font-weight="normal" fill="#000" color="#000">-1</text>
<text x="33.5" y="127.2" font-size="10.3" text-anchor="start" font-weight="normal" fill="#000" color="#000" textLength="40" lengthAdjust="spacing">2<tspan font-size="7.4" dx="0.6" dy="-4.3">nd</tspan><tspan dy="4.3"> cycle</tspan></text>
<polyline points="210.3,58.6 210.8,56.4 212.2,55 215,54.2 218.3,53.3 219.5,52.3 221,51 224,49.6 226.7,48.6 227.8,47.2 229,45.3 232,42.3 235,40 238,38.6 241.7,37.2 243.4,35.5 244.6,36.3 248,36 251.7,35.8 255,35 258,34 259.8,33.2 260.5,35 261.5,37.3 265,40 275,44.2 283,46.6 290,49.2 298,53 303,56.5 306.3,60.5 308.2,66 309.2,78 309.9,100 310.4,126" fill="none" stroke="#5a12a8" stroke-width="1.3" stroke-linejoin="round" stroke-linecap="round"/>
<polyline points="210.3,114.7 218.7,114.7 218.7,110 227,110 227,100.2 235,100.2 235,105 243.6,105 243.6,114.7 259.8,114.7 260.2,121 260.5,129.3 310.5,129.3" fill="none" stroke="#5a12a8" stroke-width="1.3" stroke-linejoin="round" stroke-linecap="round"/>
<text x="239.4" y="63" font-size="10.3" text-anchor="middle" font-weight="normal" fill="#000" color="#000">MPC</text>
<text x="279.2" y="63" font-size="10.3" text-anchor="middle" font-weight="normal" fill="#000" color="#000">CC</text>
<text x="232.9" y="95.3" font-size="10.3" text-anchor="middle" font-weight="normal" fill="#000" color="#000">2</text>
<text x="242.7" y="100.8" font-size="10.3" text-anchor="middle" font-weight="normal" fill="#000" color="#000">1.5</text>
<text x="222.8" y="105" font-size="10.3" text-anchor="middle" font-weight="normal" fill="#000" color="#000">1</text>
<text x="210.8" y="110.3" font-size="10.3" text-anchor="middle" font-weight="normal" fill="#000" color="#000">0.5</text>
<text x="253.8" y="110.3" font-size="10.3" text-anchor="middle" font-weight="normal" fill="#000" color="#000">0.5</text>
<text x="287" y="124.2" font-size="10.3" text-anchor="middle" font-weight="normal" fill="#000" color="#000">-1</text>
<text x="205.6" y="128.3" font-size="10.3" text-anchor="start" font-weight="normal" fill="#000" color="#000" textLength="40" lengthAdjust="spacing">2<tspan font-size="7.4" dx="0.6" dy="-4.3">nd</tspan><tspan dy="4.3"> cycle</tspan></text>
<clipPath id="cc"><rect x="368" y="23" width="113.9" height="111"/></clipPath><g clip-path="url(#cc)">
<line x1="368.4" y1="62" x2="368.3" y2="112" stroke="#ee9273" stroke-width="0.6"/>
<line x1="369.8" y1="30" x2="369.6" y2="96" stroke="#4a0a9e" stroke-width="1.1"/>
<circle cx="370.76" cy="74.04" r="2.3" fill="#ee9273" stroke="#ee9273" stroke-width="0.7"/>
<circle cx="372.39" cy="74.34" r="2.3" fill="#ee9273" stroke="#ee9273" stroke-width="0.7"/>
<circle cx="374.02" cy="74.17" r="2.3" fill="#ee9273" stroke="#ee9273" stroke-width="0.7"/>
<circle cx="375.65" cy="74.4" r="2.3" fill="#ee9273" stroke="#ee9273" stroke-width="0.7"/>
<circle cx="377.28" cy="74.43" r="2.3" fill="#ee9273" stroke="#ee9273" stroke-width="0.7"/>
<circle cx="378.91" cy="73.87" r="2.3" fill="#ee9273" stroke="#ee9273" stroke-width="0.7"/>
<circle cx="380.54" cy="73.81" r="2.3" fill="#ee9273" stroke="#ee9273" stroke-width="0.7"/>
<circle cx="382.17" cy="74.64" r="2.3" fill="#ee9273" stroke="#ee9273" stroke-width="0.7"/>
<circle cx="383.8" cy="74.06" r="2.3" fill="#ee9273" stroke="#ee9273" stroke-width="0.7"/>
<circle cx="385.43" cy="74.03" r="2.3" fill="#ee9273" stroke="#ee9273" stroke-width="0.7"/>
<circle cx="387.06" cy="74.8" r="2.3" fill="#ee9273" stroke="#ee9273" stroke-width="0.7"/>
<circle cx="388.69" cy="74.27" r="2.3" fill="#ee9273" stroke="#ee9273" stroke-width="0.7"/>
<circle cx="390.32" cy="74.64" r="2.3" fill="#ee9273" stroke="#ee9273" stroke-width="0.7"/>
<circle cx="391.95" cy="74.28" r="2.3" fill="#ee9273" stroke="#ee9273" stroke-width="0.7"/>
<circle cx="393.58" cy="74.44" r="2.3" fill="#ee9273" stroke="#ee9273" stroke-width="0.7"/>
<circle cx="395.21" cy="73.95" r="2.3" fill="#ee9273" stroke="#ee9273" stroke-width="0.7"/>
<circle cx="396.84" cy="74.43" r="2.3" fill="#ee9273" stroke="#ee9273" stroke-width="0.7"/>
<circle cx="398.47" cy="74.67" r="2.3" fill="#ee9273" stroke="#ee9273" stroke-width="0.7"/>
<circle cx="400.1" cy="74.32" r="2.3" fill="#ee9273" stroke="#ee9273" stroke-width="0.7"/>
<circle cx="401.73" cy="74.54" r="2.3" fill="#ee9273" stroke="#ee9273" stroke-width="0.7"/>
<circle cx="403.36" cy="74.47" r="2.3" fill="#ee9273" stroke="#ee9273" stroke-width="0.7"/>
<circle cx="404.99" cy="73.86" r="2.3" fill="#ee9273" stroke="#ee9273" stroke-width="0.7"/>
<circle cx="406.62" cy="74.56" r="2.3" fill="#ee9273" stroke="#ee9273" stroke-width="0.7"/>
<circle cx="408.25" cy="74.39" r="2.3" fill="#ee9273" stroke="#ee9273" stroke-width="0.7"/>
<circle cx="409.88" cy="74.1" r="2.3" fill="#ee9273" stroke="#ee9273" stroke-width="0.7"/>
<circle cx="411.51" cy="73.83" r="2.3" fill="#ee9273" stroke="#ee9273" stroke-width="0.7"/>
<circle cx="413.14" cy="74.67" r="2.3" fill="#ee9273" stroke="#ee9273" stroke-width="0.7"/>
<circle cx="414.77" cy="74.27" r="2.3" fill="#ee9273" stroke="#ee9273" stroke-width="0.7"/>
<circle cx="416.4" cy="74.52" r="2.3" fill="#ee9273" stroke="#ee9273" stroke-width="0.7"/>
<circle cx="418.03" cy="74.68" r="2.3" fill="#ee9273" stroke="#ee9273" stroke-width="0.7"/>
<circle cx="419.66" cy="74.51" r="2.3" fill="#ee9273" stroke="#ee9273" stroke-width="0.7"/>
<circle cx="421.29" cy="74.72" r="2.3" fill="#ee9273" stroke="#ee9273" stroke-width="0.7"/>
<circle cx="422.92" cy="74.19" r="2.3" fill="#ee9273" stroke="#ee9273" stroke-width="0.7"/>
<circle cx="424.55" cy="74.6" r="2.3" fill="#ee9273" stroke="#ee9273" stroke-width="0.7"/>
<circle cx="426.18" cy="74.24" r="2.3" fill="#ee9273" stroke="#ee9273" stroke-width="0.7"/>
<circle cx="427.81" cy="74.74" r="2.3" fill="#ee9273" stroke="#ee9273" stroke-width="0.7"/>
<circle cx="429.44" cy="75" r="2.5" fill="#ee9273" stroke="#ee9273" stroke-width="0.7"/>
<circle cx="431.07" cy="76.5" r="2.5" fill="#ee9273" stroke="#ee9273" stroke-width="0.7"/>
<circle cx="432.7" cy="78.5" r="2.5" fill="#ee9273" stroke="#ee9273" stroke-width="0.7"/>
<circle cx="434.33" cy="80.5" r="2.5" fill="#ee9273" stroke="#ee9273" stroke-width="0.7"/>
<circle cx="435.96" cy="82" r="2.5" fill="#ee9273" stroke="#ee9273" stroke-width="0.7"/>
<circle cx="437.59" cy="83.5" r="2.5" fill="#ee9273" stroke="#ee9273" stroke-width="0.7"/>
<circle cx="437.59" cy="80" r="2.5" fill="#ee9273" stroke="#ee9273" stroke-width="0.7"/>
<circle cx="439.22" cy="84" r="2.5" fill="#ee9273" stroke="#ee9273" stroke-width="0.7"/>
<circle cx="439.22" cy="80.5" r="2.5" fill="#ee9273" stroke="#ee9273" stroke-width="0.7"/>
<circle cx="440.85" cy="83.5" r="2.5" fill="#ee9273" stroke="#ee9273" stroke-width="0.7"/>
<circle cx="440.85" cy="80" r="2.5" fill="#ee9273" stroke="#ee9273" stroke-width="0.7"/>
<circle cx="442.48" cy="82.5" r="2.5" fill="#ee9273" stroke="#ee9273" stroke-width="0.7"/>
<circle cx="442.48" cy="79.5" r="2.5" fill="#ee9273" stroke="#ee9273" stroke-width="0.7"/>
<circle cx="444.11" cy="82" r="2.5" fill="#ee9273" stroke="#ee9273" stroke-width="0.7"/>
<circle cx="444.11" cy="80" r="2.5" fill="#ee9273" stroke="#ee9273" stroke-width="0.7"/>
<circle cx="445.74" cy="82.5" r="2.5" fill="#ee9273" stroke="#ee9273" stroke-width="0.7"/>
<circle cx="445.74" cy="80.5" r="2.5" fill="#ee9273" stroke="#ee9273" stroke-width="0.7"/>
<circle cx="447.37" cy="83.5" r="2.5" fill="#ee9273" stroke="#ee9273" stroke-width="0.7"/>
<circle cx="447.37" cy="81" r="2.5" fill="#ee9273" stroke="#ee9273" stroke-width="0.7"/>
<circle cx="449" cy="84" r="2.5" fill="#ee9273" stroke="#ee9273" stroke-width="0.7"/>
<circle cx="450.63" cy="83.5" r="2.5" fill="#ee9273" stroke="#ee9273" stroke-width="0.7"/>
<circle cx="449" cy="81" r="2.5" fill="#ee9273" stroke="#ee9273" stroke-width="0.7"/>
<circle cx="370.76" cy="75.24" r="2.4" fill="#fff" stroke="#ee9273" stroke-width="0.7"/>
<circle cx="372.39" cy="74.49" r="2.4" fill="#fff" stroke="#ee9273" stroke-width="0.7"/>
<circle cx="374.02" cy="74.56" r="2.4" fill="#fff" stroke="#ee9273" stroke-width="0.7"/>
<circle cx="375.65" cy="74.67" r="2.4" fill="#fff" stroke="#ee9273" stroke-width="0.7"/>
<circle cx="377.28" cy="75.45" r="2.4" fill="#fff" stroke="#ee9273" stroke-width="0.7"/>
<circle cx="378.91" cy="74.95" r="2.4" fill="#fff" stroke="#ee9273" stroke-width="0.7"/>
<circle cx="380.54" cy="75.17" r="2.4" fill="#fff" stroke="#ee9273" stroke-width="0.7"/>
<circle cx="382.17" cy="74.87" r="2.4" fill="#fff" stroke="#ee9273" stroke-width="0.7"/>
<circle cx="383.8" cy="75.11" r="2.4" fill="#fff" stroke="#ee9273" stroke-width="0.7"/>
<circle cx="385.43" cy="75.02" r="2.4" fill="#fff" stroke="#ee9273" stroke-width="0.7"/>
<circle cx="387.06" cy="75.01" r="2.4" fill="#fff" stroke="#ee9273" stroke-width="0.7"/>
<circle cx="388.69" cy="75.28" r="2.4" fill="#fff" stroke="#ee9273" stroke-width="0.7"/>
<circle cx="390.32" cy="75.3" r="2.4" fill="#fff" stroke="#ee9273" stroke-width="0.7"/>
<circle cx="391.95" cy="75.65" r="2.4" fill="#fff" stroke="#ee9273" stroke-width="0.7"/>
<circle cx="393.58" cy="75.46" r="2.4" fill="#fff" stroke="#ee9273" stroke-width="0.7"/>
<circle cx="395.21" cy="75.74" r="2.4" fill="#fff" stroke="#ee9273" stroke-width="0.7"/>
<circle cx="396.84" cy="75.7" r="2.4" fill="#fff" stroke="#ee9273" stroke-width="0.7"/>
<circle cx="398.47" cy="75.86" r="2.4" fill="#fff" stroke="#ee9273" stroke-width="0.7"/>
<circle cx="400.1" cy="75.57" r="2.4" fill="#fff" stroke="#ee9273" stroke-width="0.7"/>
<circle cx="401.73" cy="75.09" r="2.4" fill="#fff" stroke="#ee9273" stroke-width="0.7"/>
<circle cx="403.36" cy="75.82" r="2.4" fill="#fff" stroke="#ee9273" stroke-width="0.7"/>
<circle cx="404.99" cy="75.95" r="2.4" fill="#fff" stroke="#ee9273" stroke-width="0.7"/>
<circle cx="406.62" cy="75.92" r="2.4" fill="#fff" stroke="#ee9273" stroke-width="0.7"/>
<circle cx="408.25" cy="75.62" r="2.4" fill="#fff" stroke="#ee9273" stroke-width="0.7"/>
<circle cx="409.88" cy="75.79" r="2.4" fill="#fff" stroke="#ee9273" stroke-width="0.7"/>
<circle cx="411.51" cy="75.32" r="2.4" fill="#fff" stroke="#ee9273" stroke-width="0.7"/>
<circle cx="413.14" cy="75.97" r="2.4" fill="#fff" stroke="#ee9273" stroke-width="0.7"/>
<circle cx="414.77" cy="75.74" r="2.4" fill="#fff" stroke="#ee9273" stroke-width="0.7"/>
<circle cx="416.4" cy="75.48" r="2.4" fill="#fff" stroke="#ee9273" stroke-width="0.7"/>
<circle cx="418.03" cy="76.94" r="2.4" fill="#fff" stroke="#ee9273" stroke-width="0.7"/>
<circle cx="419.66" cy="79.8" r="2.4" fill="#fff" stroke="#ee9273" stroke-width="0.7"/>
<circle cx="421.29" cy="81.74" r="2.4" fill="#fff" stroke="#ee9273" stroke-width="0.7"/>
<circle cx="422.92" cy="82.22" r="2.4" fill="#fff" stroke="#ee9273" stroke-width="0.7"/>
<circle cx="424.55" cy="84.97" r="2.4" fill="#fff" stroke="#ee9273" stroke-width="0.7"/>
<circle cx="426.18" cy="86.17" r="2.4" fill="#fff" stroke="#ee9273" stroke-width="0.7"/>
<circle cx="427.81" cy="87.56" r="2.4" fill="#fff" stroke="#ee9273" stroke-width="0.7"/>
<circle cx="429.44" cy="89.51" r="2.4" fill="#fff" stroke="#ee9273" stroke-width="0.7"/>
<circle cx="431.07" cy="91.93" r="2.4" fill="#fff" stroke="#ee9273" stroke-width="0.7"/>
<circle cx="432.7" cy="93.82" r="2.4" fill="#fff" stroke="#ee9273" stroke-width="0.7"/>
<circle cx="434.33" cy="94.41" r="2.4" fill="#fff" stroke="#ee9273" stroke-width="0.7"/>
<circle cx="435.96" cy="96.96" r="2.4" fill="#fff" stroke="#ee9273" stroke-width="0.7"/>
<circle cx="437.59" cy="97.91" r="2.4" fill="#fff" stroke="#ee9273" stroke-width="0.7"/>
<circle cx="439.22" cy="100.61" r="2.4" fill="#fff" stroke="#ee9273" stroke-width="0.7"/>
<circle cx="413.14" cy="77.5" r="2.4" fill="#fff" stroke="#ee9273" stroke-width="0.7"/>
<circle cx="414.77" cy="78.3" r="2.4" fill="#fff" stroke="#ee9273" stroke-width="0.7"/>
<circle cx="416.4" cy="79.8" r="2.4" fill="#fff" stroke="#ee9273" stroke-width="0.7"/>
<circle cx="418.03" cy="80.1" r="2.4" fill="#fff" stroke="#ee9273" stroke-width="0.7"/>
<circle cx="421.29" cy="79.2" r="2.4" fill="#fff" stroke="#ee9273" stroke-width="0.7"/>
<circle cx="422.92" cy="83.7" r="2.4" fill="#fff" stroke="#ee9273" stroke-width="0.7"/>
<circle cx="426.18" cy="87.3" r="2.4" fill="#fff" stroke="#ee9273" stroke-width="0.7"/>
<circle cx="370.76" cy="72.7" r="2.1" fill="#fff" stroke="#4a0a9e" stroke-width="0.8"/>
<circle cx="372.39" cy="73.36" r="2.1" fill="#fff" stroke="#4a0a9e" stroke-width="0.8"/>
<circle cx="374.02" cy="73.48" r="2.1" fill="#fff" stroke="#4a0a9e" stroke-width="0.8"/>
<circle cx="375.65" cy="72.91" r="2.1" fill="#fff" stroke="#4a0a9e" stroke-width="0.8"/>
<circle cx="377.28" cy="73.5" r="2.1" fill="#fff" stroke="#4a0a9e" stroke-width="0.8"/>
<circle cx="378.91" cy="72.67" r="2.1" fill="#fff" stroke="#4a0a9e" stroke-width="0.8"/>
<circle cx="380.54" cy="72.39" r="2.1" fill="#fff" stroke="#4a0a9e" stroke-width="0.8"/>
<circle cx="382.17" cy="73.02" r="2.1" fill="#fff" stroke="#4a0a9e" stroke-width="0.8"/>
<circle cx="383.8" cy="72.34" r="2.1" fill="#fff" stroke="#4a0a9e" stroke-width="0.8"/>
<circle cx="385.43" cy="72.54" r="2.1" fill="#fff" stroke="#4a0a9e" stroke-width="0.8"/>
<circle cx="387.06" cy="72.79" r="2.1" fill="#fff" stroke="#4a0a9e" stroke-width="0.8"/>
<circle cx="388.69" cy="73.03" r="2.1" fill="#fff" stroke="#4a0a9e" stroke-width="0.8"/>
<circle cx="390.32" cy="72.49" r="2.1" fill="#fff" stroke="#4a0a9e" stroke-width="0.8"/>
<circle cx="391.95" cy="72.35" r="2.1" fill="#fff" stroke="#4a0a9e" stroke-width="0.8"/>
<circle cx="393.58" cy="73.34" r="2.1" fill="#fff" stroke="#4a0a9e" stroke-width="0.8"/>
<circle cx="395.21" cy="72.68" r="2.1" fill="#fff" stroke="#4a0a9e" stroke-width="0.8"/>
<circle cx="396.84" cy="73.45" r="2.1" fill="#fff" stroke="#4a0a9e" stroke-width="0.8"/>
<circle cx="398.47" cy="73.38" r="2.1" fill="#fff" stroke="#4a0a9e" stroke-width="0.8"/>
<circle cx="400.1" cy="72.75" r="2.1" fill="#fff" stroke="#4a0a9e" stroke-width="0.8"/>
<circle cx="401.73" cy="72.85" r="2.1" fill="#fff" stroke="#4a0a9e" stroke-width="0.8"/>
<circle cx="403.36" cy="72.92" r="2.1" fill="#fff" stroke="#4a0a9e" stroke-width="0.8"/>
<circle cx="404.99" cy="73.07" r="2.1" fill="#fff" stroke="#4a0a9e" stroke-width="0.8"/>
<circle cx="406.62" cy="73.01" r="2.1" fill="#fff" stroke="#4a0a9e" stroke-width="0.8"/>
<circle cx="408.25" cy="72.97" r="2.1" fill="#fff" stroke="#4a0a9e" stroke-width="0.8"/>
<circle cx="409.88" cy="73.04" r="2.1" fill="#fff" stroke="#4a0a9e" stroke-width="0.8"/>
<circle cx="411.51" cy="73.43" r="2.1" fill="#fff" stroke="#4a0a9e" stroke-width="0.8"/>
<circle cx="413.14" cy="72.91" r="2.1" fill="#fff" stroke="#4a0a9e" stroke-width="0.8"/>
<circle cx="414.77" cy="72.82" r="2.1" fill="#fff" stroke="#4a0a9e" stroke-width="0.8"/>
<circle cx="416.4" cy="73.16" r="2.1" fill="#fff" stroke="#4a0a9e" stroke-width="0.8"/>
<circle cx="418.03" cy="72.59" r="2.1" fill="#fff" stroke="#4a0a9e" stroke-width="0.8"/>
<circle cx="419.66" cy="72.66" r="2.1" fill="#fff" stroke="#4a0a9e" stroke-width="0.8"/>
<circle cx="421.29" cy="73.47" r="2.1" fill="#fff" stroke="#4a0a9e" stroke-width="0.8"/>
<circle cx="422.92" cy="72.93" r="2.1" fill="#fff" stroke="#4a0a9e" stroke-width="0.8"/>
<circle cx="424.55" cy="72.96" r="2.1" fill="#fff" stroke="#4a0a9e" stroke-width="0.8"/>
<circle cx="426.18" cy="72.31" r="2.1" fill="#fff" stroke="#4a0a9e" stroke-width="0.8"/>
<circle cx="427.81" cy="72.8" r="2.1" fill="#fff" stroke="#4a0a9e" stroke-width="0.8"/>
<circle cx="429.44" cy="73" r="2.1" fill="#fff" stroke="#4a0a9e" stroke-width="0.8"/>
<circle cx="431.07" cy="72.32" r="2.1" fill="#fff" stroke="#4a0a9e" stroke-width="0.8"/>
<circle cx="432.7" cy="64.5" r="2.1" fill="#fff" stroke="#4a0a9e" stroke-width="0.8"/>
<circle cx="434.33" cy="64.2" r="2.1" fill="#fff" stroke="#4a0a9e" stroke-width="0.8"/>
<circle cx="435.96" cy="64.8" r="2.1" fill="#fff" stroke="#4a0a9e" stroke-width="0.8"/>
<circle cx="437.59" cy="73.05" r="2.1" fill="#fff" stroke="#4a0a9e" stroke-width="0.8"/>
<circle cx="439.22" cy="72.86" r="2.1" fill="#fff" stroke="#4a0a9e" stroke-width="0.8"/>
<circle cx="440.85" cy="73.12" r="2.1" fill="#fff" stroke="#4a0a9e" stroke-width="0.8"/>
<circle cx="442.48" cy="72.72" r="2.1" fill="#fff" stroke="#4a0a9e" stroke-width="0.8"/>
<circle cx="444.11" cy="73.15" r="2.1" fill="#fff" stroke="#4a0a9e" stroke-width="0.8"/>
<circle cx="445.74" cy="73.19" r="2.1" fill="#fff" stroke="#4a0a9e" stroke-width="0.8"/>
<circle cx="447.37" cy="72.33" r="2.1" fill="#fff" stroke="#4a0a9e" stroke-width="0.8"/>
<circle cx="449" cy="72.37" r="2.1" fill="#fff" stroke="#4a0a9e" stroke-width="0.8"/>
<circle cx="450.63" cy="73.11" r="2.1" fill="#fff" stroke="#4a0a9e" stroke-width="0.8"/>
<circle cx="452.26" cy="73.46" r="2.1" fill="#fff" stroke="#4a0a9e" stroke-width="0.8"/>
<circle cx="453.89" cy="72.6" r="2.1" fill="#fff" stroke="#4a0a9e" stroke-width="0.8"/>
<circle cx="455.52" cy="72.85" r="2.1" fill="#fff" stroke="#4a0a9e" stroke-width="0.8"/>
<circle cx="457.15" cy="73.01" r="2.1" fill="#fff" stroke="#4a0a9e" stroke-width="0.8"/>
<circle cx="458.78" cy="72.68" r="2.1" fill="#fff" stroke="#4a0a9e" stroke-width="0.8"/>
<circle cx="460.41" cy="72.74" r="2.1" fill="#fff" stroke="#4a0a9e" stroke-width="0.8"/>
<circle cx="462.04" cy="72.68" r="2.1" fill="#fff" stroke="#4a0a9e" stroke-width="0.8"/>
<circle cx="463.67" cy="72.74" r="2.1" fill="#fff" stroke="#4a0a9e" stroke-width="0.8"/>
<circle cx="465.3" cy="73.01" r="2.1" fill="#fff" stroke="#4a0a9e" stroke-width="0.8"/>
<circle cx="466.93" cy="72.66" r="2.1" fill="#fff" stroke="#4a0a9e" stroke-width="0.8"/>
<circle cx="468.56" cy="72.75" r="2.1" fill="#fff" stroke="#4a0a9e" stroke-width="0.8"/>
<circle cx="470.19" cy="73.23" r="2.1" fill="#fff" stroke="#4a0a9e" stroke-width="0.8"/>
<circle cx="471.82" cy="72.33" r="2.1" fill="#fff" stroke="#4a0a9e" stroke-width="0.8"/>
<circle cx="473.45" cy="72.98" r="2.1" fill="#fff" stroke="#4a0a9e" stroke-width="0.8"/>
<circle cx="475.08" cy="75" r="2.1" fill="#fff" stroke="#4a0a9e" stroke-width="0.8"/>
<circle cx="476.71" cy="77.5" r="2.1" fill="#fff" stroke="#4a0a9e" stroke-width="0.8"/>
<circle cx="478.34" cy="79.5" r="2.1" fill="#fff" stroke="#4a0a9e" stroke-width="0.8"/>
<circle cx="479.97" cy="79" r="2.1" fill="#fff" stroke="#4a0a9e" stroke-width="0.8"/>
<circle cx="481.6" cy="76.5" r="2.1" fill="#fff" stroke="#4a0a9e" stroke-width="0.8"/>
<circle cx="370.76" cy="66" r="2.6" fill="#4a0a9e" stroke="#4a0a9e" stroke-width="0.7"/>
<circle cx="372.39" cy="67.3" r="2.6" fill="#4a0a9e" stroke="#4a0a9e" stroke-width="0.7"/>
<circle cx="374.02" cy="67.7" r="2.6" fill="#4a0a9e" stroke="#4a0a9e" stroke-width="0.7"/>
<circle cx="375.65" cy="68.12" r="2.6" fill="#4a0a9e" stroke="#4a0a9e" stroke-width="0.7"/>
<circle cx="377.28" cy="67.16" r="2.6" fill="#4a0a9e" stroke="#4a0a9e" stroke-width="0.7"/>
<circle cx="378.91" cy="67.52" r="2.6" fill="#4a0a9e" stroke="#4a0a9e" stroke-width="0.7"/>
<circle cx="380.54" cy="67.53" r="2.6" fill="#4a0a9e" stroke="#4a0a9e" stroke-width="0.7"/>
<circle cx="382.17" cy="68.33" r="2.6" fill="#4a0a9e" stroke="#4a0a9e" stroke-width="0.7"/>
<circle cx="383.8" cy="67.7" r="2.6" fill="#4a0a9e" stroke="#4a0a9e" stroke-width="0.7"/>
<circle cx="385.43" cy="68.37" r="2.6" fill="#4a0a9e" stroke="#4a0a9e" stroke-width="0.7"/>
<circle cx="387.06" cy="67.27" r="2.6" fill="#4a0a9e" stroke="#4a0a9e" stroke-width="0.7"/>
<circle cx="388.69" cy="67.54" r="2.6" fill="#4a0a9e" stroke="#4a0a9e" stroke-width="0.7"/>
<circle cx="390.32" cy="68.04" r="2.6" fill="#4a0a9e" stroke="#4a0a9e" stroke-width="0.7"/>
<circle cx="391.95" cy="68.42" r="2.6" fill="#4a0a9e" stroke="#4a0a9e" stroke-width="0.7"/>
<circle cx="393.58" cy="67.72" r="2.6" fill="#4a0a9e" stroke="#4a0a9e" stroke-width="0.7"/>
<circle cx="395.21" cy="67.36" r="2.6" fill="#4a0a9e" stroke="#4a0a9e" stroke-width="0.7"/>
<circle cx="396.84" cy="67.19" r="2.6" fill="#4a0a9e" stroke="#4a0a9e" stroke-width="0.7"/>
<circle cx="398.47" cy="67.85" r="2.6" fill="#4a0a9e" stroke="#4a0a9e" stroke-width="0.7"/>
<circle cx="400.1" cy="67.31" r="2.6" fill="#4a0a9e" stroke="#4a0a9e" stroke-width="0.7"/>
<circle cx="401.73" cy="68.29" r="2.6" fill="#4a0a9e" stroke="#4a0a9e" stroke-width="0.7"/>
<circle cx="403.36" cy="68.34" r="2.6" fill="#4a0a9e" stroke="#4a0a9e" stroke-width="0.7"/>
<circle cx="404.99" cy="67.29" r="2.6" fill="#4a0a9e" stroke="#4a0a9e" stroke-width="0.7"/>
<circle cx="406.62" cy="67.45" r="2.6" fill="#4a0a9e" stroke="#4a0a9e" stroke-width="0.7"/>
<circle cx="408.25" cy="68.29" r="2.6" fill="#4a0a9e" stroke="#4a0a9e" stroke-width="0.7"/>
<circle cx="409.88" cy="68.03" r="2.6" fill="#4a0a9e" stroke="#4a0a9e" stroke-width="0.7"/>
<circle cx="411.51" cy="68.29" r="2.6" fill="#4a0a9e" stroke="#4a0a9e" stroke-width="0.7"/>
<circle cx="413.14" cy="67.55" r="2.6" fill="#4a0a9e" stroke="#4a0a9e" stroke-width="0.7"/>
<circle cx="414.77" cy="67.21" r="2.6" fill="#4a0a9e" stroke="#4a0a9e" stroke-width="0.7"/>
<circle cx="416.4" cy="67.47" r="2.6" fill="#4a0a9e" stroke="#4a0a9e" stroke-width="0.7"/>
<circle cx="418.03" cy="68.27" r="2.6" fill="#4a0a9e" stroke="#4a0a9e" stroke-width="0.7"/>
<circle cx="419.66" cy="67.43" r="2.6" fill="#4a0a9e" stroke="#4a0a9e" stroke-width="0.7"/>
<circle cx="421.29" cy="67.55" r="2.6" fill="#4a0a9e" stroke="#4a0a9e" stroke-width="0.7"/>
<circle cx="422.92" cy="67.67" r="2.6" fill="#4a0a9e" stroke="#4a0a9e" stroke-width="0.7"/>
<circle cx="424.55" cy="67.67" r="2.6" fill="#4a0a9e" stroke="#4a0a9e" stroke-width="0.7"/>
<circle cx="426.18" cy="67.66" r="2.6" fill="#4a0a9e" stroke="#4a0a9e" stroke-width="0.7"/>
<circle cx="427.81" cy="68.47" r="2.6" fill="#4a0a9e" stroke="#4a0a9e" stroke-width="0.7"/>
<circle cx="429.44" cy="67.25" r="2.6" fill="#4a0a9e" stroke="#4a0a9e" stroke-width="0.7"/>
<circle cx="431.07" cy="67.01" r="2.6" fill="#4a0a9e" stroke="#4a0a9e" stroke-width="0.7"/>
<circle cx="432.7" cy="68.51" r="2.6" fill="#4a0a9e" stroke="#4a0a9e" stroke-width="0.7"/>
<circle cx="434.33" cy="68.41" r="2.6" fill="#4a0a9e" stroke="#4a0a9e" stroke-width="0.7"/>
<circle cx="435.96" cy="68.58" r="2.6" fill="#4a0a9e" stroke="#4a0a9e" stroke-width="0.7"/>
<circle cx="437.59" cy="67.69" r="2.6" fill="#4a0a9e" stroke="#4a0a9e" stroke-width="0.7"/>
<circle cx="439.22" cy="68.52" r="2.6" fill="#4a0a9e" stroke="#4a0a9e" stroke-width="0.7"/>
<circle cx="440.85" cy="68.48" r="2.6" fill="#4a0a9e" stroke="#4a0a9e" stroke-width="0.7"/>
<circle cx="442.48" cy="67.36" r="2.6" fill="#4a0a9e" stroke="#4a0a9e" stroke-width="0.7"/>
<circle cx="444.11" cy="68.19" r="2.6" fill="#4a0a9e" stroke="#4a0a9e" stroke-width="0.7"/>
<circle cx="445.74" cy="68.34" r="2.6" fill="#4a0a9e" stroke="#4a0a9e" stroke-width="0.7"/>
<circle cx="447.37" cy="68.06" r="2.6" fill="#4a0a9e" stroke="#4a0a9e" stroke-width="0.7"/>
<circle cx="449" cy="67.83" r="2.6" fill="#4a0a9e" stroke="#4a0a9e" stroke-width="0.7"/>
<circle cx="450.63" cy="67.46" r="2.6" fill="#4a0a9e" stroke="#4a0a9e" stroke-width="0.7"/>
<circle cx="452.26" cy="67.55" r="2.6" fill="#4a0a9e" stroke="#4a0a9e" stroke-width="0.7"/>
<circle cx="453.89" cy="67.36" r="2.6" fill="#4a0a9e" stroke="#4a0a9e" stroke-width="0.7"/>
<circle cx="455.52" cy="67.11" r="2.6" fill="#4a0a9e" stroke="#4a0a9e" stroke-width="0.7"/>
<circle cx="457.15" cy="67.94" r="2.6" fill="#4a0a9e" stroke="#4a0a9e" stroke-width="0.7"/>
<circle cx="458.78" cy="67.46" r="2.6" fill="#4a0a9e" stroke="#4a0a9e" stroke-width="0.7"/>
<circle cx="460.41" cy="68.3" r="2.6" fill="#4a0a9e" stroke="#4a0a9e" stroke-width="0.7"/>
<circle cx="462.04" cy="67.07" r="2.6" fill="#4a0a9e" stroke="#4a0a9e" stroke-width="0.7"/>
<circle cx="463.67" cy="68.45" r="2.6" fill="#4a0a9e" stroke="#4a0a9e" stroke-width="0.7"/>
<circle cx="465.3" cy="68.11" r="2.6" fill="#4a0a9e" stroke="#4a0a9e" stroke-width="0.7"/>
<circle cx="466.93" cy="68.48" r="2.6" fill="#4a0a9e" stroke="#4a0a9e" stroke-width="0.7"/>
<circle cx="468.56" cy="68.43" r="2.6" fill="#4a0a9e" stroke="#4a0a9e" stroke-width="0.7"/>
<circle cx="470.19" cy="68.44" r="2.6" fill="#4a0a9e" stroke="#4a0a9e" stroke-width="0.7"/>
<circle cx="471.82" cy="67.92" r="2.6" fill="#4a0a9e" stroke="#4a0a9e" stroke-width="0.7"/>
<circle cx="473.45" cy="67.02" r="2.6" fill="#4a0a9e" stroke="#4a0a9e" stroke-width="0.7"/>
<circle cx="475.08" cy="68.19" r="2.6" fill="#4a0a9e" stroke="#4a0a9e" stroke-width="0.7"/>
<circle cx="476.71" cy="67.27" r="2.6" fill="#4a0a9e" stroke="#4a0a9e" stroke-width="0.7"/>
<circle cx="478.34" cy="67.48" r="2.6" fill="#4a0a9e" stroke="#4a0a9e" stroke-width="0.7"/>
<circle cx="479.97" cy="68.06" r="2.6" fill="#4a0a9e" stroke="#4a0a9e" stroke-width="0.7"/>
<circle cx="481.6" cy="67.84" r="2.6" fill="#4a0a9e" stroke="#4a0a9e" stroke-width="0.7"/>
<rect x="368.76" y="37.57" width="4" height="4" fill="#ee9273" stroke="#ee9273" stroke-width="0.7"/>
<rect x="370.39" y="38.13" width="4" height="4" fill="#ee9273" stroke="#ee9273" stroke-width="0.7"/>
<rect x="372.02" y="37.83" width="4" height="4" fill="#ee9273" stroke="#ee9273" stroke-width="0.7"/>
<rect x="373.65" y="37.59" width="4" height="4" fill="#ee9273" stroke="#ee9273" stroke-width="0.7"/>
<rect x="375.28" y="37.53" width="4" height="4" fill="#ee9273" stroke="#ee9273" stroke-width="0.7"/>
<rect x="376.91" y="38.17" width="4" height="4" fill="#ee9273" stroke="#ee9273" stroke-width="0.7"/>
<rect x="378.54" y="37.82" width="4" height="4" fill="#ee9273" stroke="#ee9273" stroke-width="0.7"/>
<rect x="380.17" y="38.15" width="4" height="4" fill="#ee9273" stroke="#ee9273" stroke-width="0.7"/>
<rect x="381.8" y="37.75" width="4" height="4" fill="#ee9273" stroke="#ee9273" stroke-width="0.7"/>
<rect x="383.43" y="37.63" width="4" height="4" fill="#ee9273" stroke="#ee9273" stroke-width="0.7"/>
<rect x="385.06" y="37.99" width="4" height="4" fill="#ee9273" stroke="#ee9273" stroke-width="0.7"/>
<rect x="386.69" y="38.31" width="4" height="4" fill="#ee9273" stroke="#ee9273" stroke-width="0.7"/>
<rect x="388.32" y="37.69" width="4" height="4" fill="#ee9273" stroke="#ee9273" stroke-width="0.7"/>
<rect x="389.95" y="38.34" width="4" height="4" fill="#ee9273" stroke="#ee9273" stroke-width="0.7"/>
<rect x="391.58" y="38.5" width="4" height="4" fill="#ee9273" stroke="#ee9273" stroke-width="0.7"/>
<rect x="393.21" y="38.42" width="4" height="4" fill="#ee9273" stroke="#ee9273" stroke-width="0.7"/>
<rect x="394.84" y="38.46" width="4" height="4" fill="#ee9273" stroke="#ee9273" stroke-width="0.7"/>
<rect x="396.47" y="37.68" width="4" height="4" fill="#ee9273" stroke="#ee9273" stroke-width="0.7"/>
<rect x="398.1" y="38.33" width="4" height="4" fill="#ee9273" stroke="#ee9273" stroke-width="0.7"/>
<rect x="399.73" y="38.59" width="4" height="4" fill="#ee9273" stroke="#ee9273" stroke-width="0.7"/>
<rect x="401.36" y="37.81" width="4" height="4" fill="#ee9273" stroke="#ee9273" stroke-width="0.7"/>
<rect x="402.99" y="38.06" width="4" height="4" fill="#ee9273" stroke="#ee9273" stroke-width="0.7"/>
<rect x="404.62" y="38.09" width="4" height="4" fill="#ee9273" stroke="#ee9273" stroke-width="0.7"/>
<rect x="406.25" y="38.38" width="4" height="4" fill="#ee9273" stroke="#ee9273" stroke-width="0.7"/>
<rect x="407.88" y="38.3" width="4" height="4" fill="#ee9273" stroke="#ee9273" stroke-width="0.7"/>
<rect x="409.51" y="38.38" width="4" height="4" fill="#ee9273" stroke="#ee9273" stroke-width="0.7"/>
<rect x="411.14" y="38.72" width="4" height="4" fill="#ee9273" stroke="#ee9273" stroke-width="0.7"/>
<rect x="412.77" y="37.97" width="4" height="4" fill="#ee9273" stroke="#ee9273" stroke-width="0.7"/>
<rect x="414.4" y="38.05" width="4" height="4" fill="#ee9273" stroke="#ee9273" stroke-width="0.7"/>
<rect x="416.03" y="38.16" width="4" height="4" fill="#ee9273" stroke="#ee9273" stroke-width="0.7"/>
<rect x="417.66" y="38.18" width="4" height="4" fill="#ee9273" stroke="#ee9273" stroke-width="0.7"/>
<rect x="419.29" y="38.16" width="4" height="4" fill="#ee9273" stroke="#ee9273" stroke-width="0.7"/>
<rect x="420.92" y="39.09" width="4" height="4" fill="#ee9273" stroke="#ee9273" stroke-width="0.7"/>
<rect x="422.55" y="39" width="4" height="4" fill="#ee9273" stroke="#ee9273" stroke-width="0.7"/>
<rect x="424.18" y="38.27" width="4" height="4" fill="#ee9273" stroke="#ee9273" stroke-width="0.7"/>
<rect x="425.81" y="38.71" width="4" height="4" fill="#ee9273" stroke="#ee9273" stroke-width="0.7"/>
<rect x="427.44" y="38.56" width="4" height="4" fill="#ee9273" stroke="#ee9273" stroke-width="0.7"/>
<rect x="429.07" y="38.58" width="4" height="4" fill="#ee9273" stroke="#ee9273" stroke-width="0.7"/>
<rect x="430.5" y="38.8" width="4.4" height="4.4" fill="#ee9273" stroke="#ee9273" stroke-width="0.7"/>
<rect x="432.13" y="39.8" width="4.4" height="4.4" fill="#ee9273" stroke="#ee9273" stroke-width="0.7"/>
<rect x="432.13" y="41.8" width="4.4" height="4.4" fill="#ee9273" stroke="#ee9273" stroke-width="0.7"/>
<rect x="433.76" y="42.8" width="4.4" height="4.4" fill="#ee9273" stroke="#ee9273" stroke-width="0.7"/>
<rect x="433.76" y="44.8" width="4.4" height="4.4" fill="#ee9273" stroke="#ee9273" stroke-width="0.7"/>
<rect x="435.39" y="44.3" width="4.4" height="4.4" fill="#ee9273" stroke="#ee9273" stroke-width="0.7"/>
<rect x="435.39" y="48.3" width="4.4" height="4.4" fill="#ee9273" stroke="#ee9273" stroke-width="0.7"/>
<rect x="435.39" y="50.8" width="4.4" height="4.4" fill="#ee9273" stroke="#ee9273" stroke-width="0.7"/>
<rect x="437.02" y="44.8" width="4.4" height="4.4" fill="#ee9273" stroke="#ee9273" stroke-width="0.7"/>
<rect x="437.02" y="50.3" width="4.4" height="4.4" fill="#ee9273" stroke="#ee9273" stroke-width="0.7"/>
<rect x="438.65" y="45.8" width="4.4" height="4.4" fill="#ee9273" stroke="#ee9273" stroke-width="0.7"/>
<rect x="438.65" y="50.3" width="4.4" height="4.4" fill="#ee9273" stroke="#ee9273" stroke-width="0.7"/>
<rect x="440.28" y="45.3" width="4.4" height="4.4" fill="#ee9273" stroke="#ee9273" stroke-width="0.7"/>
<rect x="440.28" y="50.3" width="4.4" height="4.4" fill="#ee9273" stroke="#ee9273" stroke-width="0.7"/>
<rect x="441.91" y="45.8" width="4.4" height="4.4" fill="#ee9273" stroke="#ee9273" stroke-width="0.7"/>
<rect x="441.91" y="49.3" width="4.4" height="4.4" fill="#ee9273" stroke="#ee9273" stroke-width="0.7"/>
<rect x="443.54" y="46.3" width="4.4" height="4.4" fill="#ee9273" stroke="#ee9273" stroke-width="0.7"/>
<rect x="443.54" y="49.8" width="4.4" height="4.4" fill="#ee9273" stroke="#ee9273" stroke-width="0.7"/>
<rect x="445.17" y="46.8" width="4.4" height="4.4" fill="#ee9273" stroke="#ee9273" stroke-width="0.7"/>
<rect x="445.17" y="50.3" width="4.4" height="4.4" fill="#ee9273" stroke="#ee9273" stroke-width="0.7"/>
<rect x="446.8" y="47.3" width="4.4" height="4.4" fill="#ee9273" stroke="#ee9273" stroke-width="0.7"/>
<rect x="446.8" y="49.8" width="4.4" height="4.4" fill="#ee9273" stroke="#ee9273" stroke-width="0.7"/>
<rect x="448.43" y="47.8" width="4.4" height="4.4" fill="#ee9273" stroke="#ee9273" stroke-width="0.7"/>
<rect x="448.43" y="50.3" width="4.4" height="4.4" fill="#ee9273" stroke="#ee9273" stroke-width="0.7"/>
<rect x="368.51" y="37.53" width="4.5" height="4.5" fill="#fff" stroke="#ee9273" stroke-width="0.7"/>
<rect x="370.14" y="37.92" width="4.5" height="4.5" fill="#fff" stroke="#ee9273" stroke-width="0.7"/>
<rect x="371.77" y="37.87" width="4.5" height="4.5" fill="#fff" stroke="#ee9273" stroke-width="0.7"/>
<rect x="373.4" y="37.63" width="4.5" height="4.5" fill="#fff" stroke="#ee9273" stroke-width="0.7"/>
<rect x="375.03" y="37.46" width="4.5" height="4.5" fill="#fff" stroke="#ee9273" stroke-width="0.7"/>
<rect x="376.66" y="37.65" width="4.5" height="4.5" fill="#fff" stroke="#ee9273" stroke-width="0.7"/>
<rect x="378.29" y="37.44" width="4.5" height="4.5" fill="#fff" stroke="#ee9273" stroke-width="0.7"/>
<rect x="379.92" y="37.99" width="4.5" height="4.5" fill="#fff" stroke="#ee9273" stroke-width="0.7"/>
<rect x="381.55" y="38.21" width="4.5" height="4.5" fill="#fff" stroke="#ee9273" stroke-width="0.7"/>
<rect x="383.18" y="37.84" width="4.5" height="4.5" fill="#fff" stroke="#ee9273" stroke-width="0.7"/>
<rect x="384.81" y="37.51" width="4.5" height="4.5" fill="#fff" stroke="#ee9273" stroke-width="0.7"/>
<rect x="386.44" y="37.65" width="4.5" height="4.5" fill="#fff" stroke="#ee9273" stroke-width="0.7"/>
<rect x="388.07" y="37.92" width="4.5" height="4.5" fill="#fff" stroke="#ee9273" stroke-width="0.7"/>
<rect x="389.7" y="38.23" width="4.5" height="4.5" fill="#fff" stroke="#ee9273" stroke-width="0.7"/>
<rect x="391.33" y="38.47" width="4.5" height="4.5" fill="#fff" stroke="#ee9273" stroke-width="0.7"/>
<rect x="392.96" y="38.02" width="4.5" height="4.5" fill="#fff" stroke="#ee9273" stroke-width="0.7"/>
<rect x="394.59" y="38.55" width="4.5" height="4.5" fill="#fff" stroke="#ee9273" stroke-width="0.7"/>
<rect x="396.22" y="38.37" width="4.5" height="4.5" fill="#fff" stroke="#ee9273" stroke-width="0.7"/>
<rect x="397.85" y="38.17" width="4.5" height="4.5" fill="#fff" stroke="#ee9273" stroke-width="0.7"/>
<rect x="399.48" y="38.13" width="4.5" height="4.5" fill="#fff" stroke="#ee9273" stroke-width="0.7"/>
<rect x="401.11" y="38.31" width="4.5" height="4.5" fill="#fff" stroke="#ee9273" stroke-width="0.7"/>
<rect x="402.74" y="38.58" width="4.5" height="4.5" fill="#fff" stroke="#ee9273" stroke-width="0.7"/>
<rect x="404.37" y="38.27" width="4.5" height="4.5" fill="#fff" stroke="#ee9273" stroke-width="0.7"/>
<rect x="406" y="38.63" width="4.5" height="4.5" fill="#fff" stroke="#ee9273" stroke-width="0.7"/>
<rect x="407.63" y="38.38" width="4.5" height="4.5" fill="#fff" stroke="#ee9273" stroke-width="0.7"/>
<rect x="409.26" y="38.15" width="4.5" height="4.5" fill="#fff" stroke="#ee9273" stroke-width="0.7"/>
<rect x="410.89" y="38.53" width="4.5" height="4.5" fill="#fff" stroke="#ee9273" stroke-width="0.7"/>
<rect x="412.52" y="38.75" width="4.5" height="4.5" fill="#fff" stroke="#ee9273" stroke-width="0.7"/>
<rect x="414.15" y="38.04" width="4.5" height="4.5" fill="#fff" stroke="#ee9273" stroke-width="0.7"/>
<rect x="415.78" y="38.49" width="4.5" height="4.5" fill="#fff" stroke="#ee9273" stroke-width="0.7"/>
<rect x="417.41" y="38.52" width="4.5" height="4.5" fill="#fff" stroke="#ee9273" stroke-width="0.7"/>
<rect x="419.04" y="39.1" width="4.5" height="4.5" fill="#fff" stroke="#ee9273" stroke-width="0.7"/>
<rect x="420.67" y="42.75" width="4.5" height="4.5" fill="#fff" stroke="#ee9273" stroke-width="0.7"/>
<rect x="422.3" y="44.65" width="4.5" height="4.5" fill="#fff" stroke="#ee9273" stroke-width="0.7"/>
<rect x="423.93" y="48.29" width="4.5" height="4.5" fill="#fff" stroke="#ee9273" stroke-width="0.7"/>
<rect x="425.56" y="50.92" width="4.5" height="4.5" fill="#fff" stroke="#ee9273" stroke-width="0.7"/>
<rect x="427.19" y="52.87" width="4.5" height="4.5" fill="#fff" stroke="#ee9273" stroke-width="0.7"/>
<rect x="428.82" y="55.99" width="4.5" height="4.5" fill="#fff" stroke="#ee9273" stroke-width="0.7"/>
<rect x="430.45" y="58.25" width="4.5" height="4.5" fill="#fff" stroke="#ee9273" stroke-width="0.7"/>
<rect x="432.08" y="62.15" width="4.5" height="4.5" fill="#fff" stroke="#ee9273" stroke-width="0.7"/>
<rect x="433.71" y="64.71" width="4.5" height="4.5" fill="#fff" stroke="#ee9273" stroke-width="0.7"/>
<rect x="435.34" y="67.87" width="4.5" height="4.5" fill="#fff" stroke="#ee9273" stroke-width="0.7"/>
<rect x="436.97" y="70.52" width="4.5" height="4.5" fill="#fff" stroke="#ee9273" stroke-width="0.7"/>
<rect x="438.6" y="73.12" width="4.5" height="4.5" fill="#fff" stroke="#ee9273" stroke-width="0.7"/>
<rect x="412.52" y="41.25" width="4.5" height="4.5" fill="#fff" stroke="#ee9273" stroke-width="0.7"/>
<rect x="414.15" y="44.25" width="4.5" height="4.5" fill="#fff" stroke="#ee9273" stroke-width="0.7"/>
<rect x="415.78" y="42.75" width="4.5" height="4.5" fill="#fff" stroke="#ee9273" stroke-width="0.7"/>
<rect x="417.41" y="45.75" width="4.5" height="4.5" fill="#fff" stroke="#ee9273" stroke-width="0.7"/>
<rect x="419.04" y="48.25" width="4.5" height="4.5" fill="#fff" stroke="#ee9273" stroke-width="0.7"/>
<rect x="420.67" y="46.75" width="4.5" height="4.5" fill="#fff" stroke="#ee9273" stroke-width="0.7"/>
<rect x="422.3" y="50.75" width="4.5" height="4.5" fill="#fff" stroke="#ee9273" stroke-width="0.7"/>
<rect x="423.93" y="53.25" width="4.5" height="4.5" fill="#fff" stroke="#ee9273" stroke-width="0.7"/>
<rect x="368.76" y="24" width="4" height="4" fill="#fff" stroke="#4a0a9e" stroke-width="0.8"/>
<rect x="370.39" y="24.8" width="4" height="4" fill="#fff" stroke="#4a0a9e" stroke-width="0.8"/>
<rect x="372.02" y="34.92" width="4" height="4" fill="#fff" stroke="#4a0a9e" stroke-width="0.8"/>
<rect x="373.65" y="35.51" width="4" height="4" fill="#fff" stroke="#4a0a9e" stroke-width="0.8"/>
<rect x="375.28" y="34.81" width="4" height="4" fill="#fff" stroke="#4a0a9e" stroke-width="0.8"/>
<rect x="376.91" y="34.97" width="4" height="4" fill="#fff" stroke="#4a0a9e" stroke-width="0.8"/>
<rect x="378.54" y="35.73" width="4" height="4" fill="#fff" stroke="#4a0a9e" stroke-width="0.8"/>
<rect x="380.17" y="34.85" width="4" height="4" fill="#fff" stroke="#4a0a9e" stroke-width="0.8"/>
<rect x="381.8" y="34.91" width="4" height="4" fill="#fff" stroke="#4a0a9e" stroke-width="0.8"/>
<rect x="383.43" y="34.92" width="4" height="4" fill="#fff" stroke="#4a0a9e" stroke-width="0.8"/>
<rect x="385.06" y="35.86" width="4" height="4" fill="#fff" stroke="#4a0a9e" stroke-width="0.8"/>
<rect x="386.69" y="35.01" width="4" height="4" fill="#fff" stroke="#4a0a9e" stroke-width="0.8"/>
<rect x="388.32" y="34.83" width="4" height="4" fill="#fff" stroke="#4a0a9e" stroke-width="0.8"/>
<rect x="389.95" y="35.81" width="4" height="4" fill="#fff" stroke="#4a0a9e" stroke-width="0.8"/>
<rect x="391.58" y="34.95" width="4" height="4" fill="#fff" stroke="#4a0a9e" stroke-width="0.8"/>
<rect x="393.21" y="35.81" width="4" height="4" fill="#fff" stroke="#4a0a9e" stroke-width="0.8"/>
<rect x="394.84" y="35.61" width="4" height="4" fill="#fff" stroke="#4a0a9e" stroke-width="0.8"/>
<rect x="396.47" y="35.8" width="4" height="4" fill="#fff" stroke="#4a0a9e" stroke-width="0.8"/>
<rect x="398.1" y="35.94" width="4" height="4" fill="#fff" stroke="#4a0a9e" stroke-width="0.8"/>
<rect x="399.73" y="35.49" width="4" height="4" fill="#fff" stroke="#4a0a9e" stroke-width="0.8"/>
<rect x="401.36" y="35.76" width="4" height="4" fill="#fff" stroke="#4a0a9e" stroke-width="0.8"/>
<rect x="402.99" y="34.84" width="4" height="4" fill="#fff" stroke="#4a0a9e" stroke-width="0.8"/>
<rect x="404.62" y="35.72" width="4" height="4" fill="#fff" stroke="#4a0a9e" stroke-width="0.8"/>
<rect x="406.25" y="35.41" width="4" height="4" fill="#fff" stroke="#4a0a9e" stroke-width="0.8"/>
<rect x="407.88" y="35.66" width="4" height="4" fill="#fff" stroke="#4a0a9e" stroke-width="0.8"/>
<rect x="409.51" y="34.93" width="4" height="4" fill="#fff" stroke="#4a0a9e" stroke-width="0.8"/>
<rect x="411.14" y="35.7" width="4" height="4" fill="#fff" stroke="#4a0a9e" stroke-width="0.8"/>
<rect x="412.77" y="35.92" width="4" height="4" fill="#fff" stroke="#4a0a9e" stroke-width="0.8"/>
<rect x="414.4" y="34.87" width="4" height="4" fill="#fff" stroke="#4a0a9e" stroke-width="0.8"/>
<rect x="416.03" y="35.19" width="4" height="4" fill="#fff" stroke="#4a0a9e" stroke-width="0.8"/>
<rect x="417.66" y="35.48" width="4" height="4" fill="#fff" stroke="#4a0a9e" stroke-width="0.8"/>
<rect x="419.29" y="35.79" width="4" height="4" fill="#fff" stroke="#4a0a9e" stroke-width="0.8"/>
<rect x="420.92" y="35.09" width="4" height="4" fill="#fff" stroke="#4a0a9e" stroke-width="0.8"/>
<rect x="422.55" y="35.02" width="4" height="4" fill="#fff" stroke="#4a0a9e" stroke-width="0.8"/>
<rect x="424.18" y="35.1" width="4" height="4" fill="#fff" stroke="#4a0a9e" stroke-width="0.8"/>
<rect x="425.81" y="35.54" width="4" height="4" fill="#fff" stroke="#4a0a9e" stroke-width="0.8"/>
<rect x="427.44" y="35.7" width="4" height="4" fill="#fff" stroke="#4a0a9e" stroke-width="0.8"/>
<rect x="429.07" y="35.27" width="4" height="4" fill="#fff" stroke="#4a0a9e" stroke-width="0.8"/>
<rect x="430.7" y="35.24" width="4" height="4" fill="#fff" stroke="#4a0a9e" stroke-width="0.8"/>
<rect x="432.33" y="35.28" width="4" height="4" fill="#fff" stroke="#4a0a9e" stroke-width="0.8"/>
<rect x="433.96" y="35.22" width="4" height="4" fill="#fff" stroke="#4a0a9e" stroke-width="0.8"/>
<rect x="435.59" y="35.3" width="4" height="4" fill="#fff" stroke="#4a0a9e" stroke-width="0.8"/>
<rect x="437.22" y="26.2" width="4" height="4" fill="#fff" stroke="#4a0a9e" stroke-width="0.8"/>
<rect x="438.85" y="26" width="4" height="4" fill="#fff" stroke="#4a0a9e" stroke-width="0.8"/>
<rect x="440.48" y="26.6" width="4" height="4" fill="#fff" stroke="#4a0a9e" stroke-width="0.8"/>
<rect x="442.11" y="27" width="4" height="4" fill="#fff" stroke="#4a0a9e" stroke-width="0.8"/>
<rect x="443.74" y="35.7" width="4" height="4" fill="#fff" stroke="#4a0a9e" stroke-width="0.8"/>
<rect x="445.37" y="34.99" width="4" height="4" fill="#fff" stroke="#4a0a9e" stroke-width="0.8"/>
<rect x="447" y="35.63" width="4" height="4" fill="#fff" stroke="#4a0a9e" stroke-width="0.8"/>
<rect x="448.63" y="35.71" width="4" height="4" fill="#fff" stroke="#4a0a9e" stroke-width="0.8"/>
<rect x="450.26" y="35.61" width="4" height="4" fill="#fff" stroke="#4a0a9e" stroke-width="0.8"/>
<rect x="451.89" y="35.42" width="4" height="4" fill="#fff" stroke="#4a0a9e" stroke-width="0.8"/>
<rect x="453.52" y="35.38" width="4" height="4" fill="#fff" stroke="#4a0a9e" stroke-width="0.8"/>
<rect x="455.15" y="35.57" width="4" height="4" fill="#fff" stroke="#4a0a9e" stroke-width="0.8"/>
<rect x="456.78" y="35.88" width="4" height="4" fill="#fff" stroke="#4a0a9e" stroke-width="0.8"/>
<rect x="458.41" y="27" width="4" height="4" fill="#fff" stroke="#4a0a9e" stroke-width="0.8"/>
<rect x="460.04" y="26.8" width="4" height="4" fill="#fff" stroke="#4a0a9e" stroke-width="0.8"/>
<rect x="461.67" y="27.2" width="4" height="4" fill="#fff" stroke="#4a0a9e" stroke-width="0.8"/>
<rect x="463.3" y="35.9" width="4" height="4" fill="#fff" stroke="#4a0a9e" stroke-width="0.8"/>
<rect x="464.93" y="35.42" width="4" height="4" fill="#fff" stroke="#4a0a9e" stroke-width="0.8"/>
<rect x="466.56" y="35.33" width="4" height="4" fill="#fff" stroke="#4a0a9e" stroke-width="0.8"/>
<rect x="468.19" y="35.66" width="4" height="4" fill="#fff" stroke="#4a0a9e" stroke-width="0.8"/>
<rect x="469.82" y="35.02" width="4" height="4" fill="#fff" stroke="#4a0a9e" stroke-width="0.8"/>
<rect x="471.45" y="37" width="4" height="4" fill="#fff" stroke="#4a0a9e" stroke-width="0.8"/>
<rect x="473.08" y="39.5" width="4" height="4" fill="#fff" stroke="#4a0a9e" stroke-width="0.8"/>
<rect x="474.71" y="42.5" width="4" height="4" fill="#fff" stroke="#4a0a9e" stroke-width="0.8"/>
<rect x="476.34" y="46.5" width="4" height="4" fill="#fff" stroke="#4a0a9e" stroke-width="0.8"/>
<rect x="477.97" y="45.5" width="4" height="4" fill="#fff" stroke="#4a0a9e" stroke-width="0.8"/>
<rect x="479.6" y="43" width="4" height="4" fill="#fff" stroke="#4a0a9e" stroke-width="0.8"/>
<rect x="368.36" y="28.6" width="4.8" height="4.8" fill="#4a0a9e" stroke="#4a0a9e" stroke-width="0.7"/>
<rect x="369.99" y="28.6" width="4.8" height="4.8" fill="#4a0a9e" stroke="#4a0a9e" stroke-width="0.7"/>
<rect x="371.62" y="30.43" width="4.8" height="4.8" fill="#4a0a9e" stroke="#4a0a9e" stroke-width="0.7"/>
<rect x="373.25" y="29.96" width="4.8" height="4.8" fill="#4a0a9e" stroke="#4a0a9e" stroke-width="0.7"/>
<rect x="374.88" y="30.67" width="4.8" height="4.8" fill="#4a0a9e" stroke="#4a0a9e" stroke-width="0.7"/>
<rect x="376.51" y="30.24" width="4.8" height="4.8" fill="#4a0a9e" stroke="#4a0a9e" stroke-width="0.7"/>
<rect x="378.14" y="29.73" width="4.8" height="4.8" fill="#4a0a9e" stroke="#4a0a9e" stroke-width="0.7"/>
<rect x="379.77" y="29.65" width="4.8" height="4.8" fill="#4a0a9e" stroke="#4a0a9e" stroke-width="0.7"/>
<rect x="381.4" y="29.34" width="4.8" height="4.8" fill="#4a0a9e" stroke="#4a0a9e" stroke-width="0.7"/>
<rect x="383.03" y="30.07" width="4.8" height="4.8" fill="#4a0a9e" stroke="#4a0a9e" stroke-width="0.7"/>
<rect x="384.66" y="29.91" width="4.8" height="4.8" fill="#4a0a9e" stroke="#4a0a9e" stroke-width="0.7"/>
<rect x="386.29" y="29.58" width="4.8" height="4.8" fill="#4a0a9e" stroke="#4a0a9e" stroke-width="0.7"/>
<rect x="387.92" y="29.88" width="4.8" height="4.8" fill="#4a0a9e" stroke="#4a0a9e" stroke-width="0.7"/>
<rect x="389.55" y="29.82" width="4.8" height="4.8" fill="#4a0a9e" stroke="#4a0a9e" stroke-width="0.7"/>
<rect x="391.18" y="30.54" width="4.8" height="4.8" fill="#4a0a9e" stroke="#4a0a9e" stroke-width="0.7"/>
<rect x="392.81" y="29.53" width="4.8" height="4.8" fill="#4a0a9e" stroke="#4a0a9e" stroke-width="0.7"/>
<rect x="394.44" y="30.89" width="4.8" height="4.8" fill="#4a0a9e" stroke="#4a0a9e" stroke-width="0.7"/>
<rect x="396.07" y="30.07" width="4.8" height="4.8" fill="#4a0a9e" stroke="#4a0a9e" stroke-width="0.7"/>
<rect x="397.7" y="30.26" width="4.8" height="4.8" fill="#4a0a9e" stroke="#4a0a9e" stroke-width="0.7"/>
<rect x="399.33" y="30.05" width="4.8" height="4.8" fill="#4a0a9e" stroke="#4a0a9e" stroke-width="0.7"/>
<rect x="400.96" y="30.64" width="4.8" height="4.8" fill="#4a0a9e" stroke="#4a0a9e" stroke-width="0.7"/>
<rect x="402.59" y="30.61" width="4.8" height="4.8" fill="#4a0a9e" stroke="#4a0a9e" stroke-width="0.7"/>
<rect x="404.22" y="30.19" width="4.8" height="4.8" fill="#4a0a9e" stroke="#4a0a9e" stroke-width="0.7"/>
<rect x="405.85" y="30.07" width="4.8" height="4.8" fill="#4a0a9e" stroke="#4a0a9e" stroke-width="0.7"/>
<rect x="407.48" y="28.1" width="4.8" height="4.8" fill="#4a0a9e" stroke="#4a0a9e" stroke-width="0.7"/>
<rect x="409.11" y="27.4" width="4.8" height="4.8" fill="#4a0a9e" stroke="#4a0a9e" stroke-width="0.7"/>
<rect x="410.74" y="27.9" width="4.8" height="4.8" fill="#4a0a9e" stroke="#4a0a9e" stroke-width="0.7"/>
<rect x="412.37" y="30.47" width="4.8" height="4.8" fill="#4a0a9e" stroke="#4a0a9e" stroke-width="0.7"/>
<rect x="414" y="30.84" width="4.8" height="4.8" fill="#4a0a9e" stroke="#4a0a9e" stroke-width="0.7"/>
<rect x="415.63" y="30.05" width="4.8" height="4.8" fill="#4a0a9e" stroke="#4a0a9e" stroke-width="0.7"/>
<rect x="417.26" y="29.67" width="4.8" height="4.8" fill="#4a0a9e" stroke="#4a0a9e" stroke-width="0.7"/>
<rect x="418.89" y="29.68" width="4.8" height="4.8" fill="#4a0a9e" stroke="#4a0a9e" stroke-width="0.7"/>
<rect x="420.52" y="30.45" width="4.8" height="4.8" fill="#4a0a9e" stroke="#4a0a9e" stroke-width="0.7"/>
<rect x="422.15" y="30.38" width="4.8" height="4.8" fill="#4a0a9e" stroke="#4a0a9e" stroke-width="0.7"/>
<rect x="423.78" y="30.83" width="4.8" height="4.8" fill="#4a0a9e" stroke="#4a0a9e" stroke-width="0.7"/>
<rect x="425.41" y="30.67" width="4.8" height="4.8" fill="#4a0a9e" stroke="#4a0a9e" stroke-width="0.7"/>
<rect x="427.04" y="29.69" width="4.8" height="4.8" fill="#4a0a9e" stroke="#4a0a9e" stroke-width="0.7"/>
<rect x="428.67" y="29.6" width="4.8" height="4.8" fill="#4a0a9e" stroke="#4a0a9e" stroke-width="0.7"/>
<rect x="430.3" y="29.71" width="4.8" height="4.8" fill="#4a0a9e" stroke="#4a0a9e" stroke-width="0.7"/>
<rect x="431.93" y="29.6" width="4.8" height="4.8" fill="#4a0a9e" stroke="#4a0a9e" stroke-width="0.7"/>
<rect x="433.56" y="30.43" width="4.8" height="4.8" fill="#4a0a9e" stroke="#4a0a9e" stroke-width="0.7"/>
<rect x="435.19" y="30.67" width="4.8" height="4.8" fill="#4a0a9e" stroke="#4a0a9e" stroke-width="0.7"/>
<rect x="436.82" y="30.74" width="4.8" height="4.8" fill="#4a0a9e" stroke="#4a0a9e" stroke-width="0.7"/>
<rect x="438.45" y="29.71" width="4.8" height="4.8" fill="#4a0a9e" stroke="#4a0a9e" stroke-width="0.7"/>
<rect x="440.08" y="30.68" width="4.8" height="4.8" fill="#4a0a9e" stroke="#4a0a9e" stroke-width="0.7"/>
<rect x="441.71" y="29.8" width="4.8" height="4.8" fill="#4a0a9e" stroke="#4a0a9e" stroke-width="0.7"/>
<rect x="443.34" y="29.98" width="4.8" height="4.8" fill="#4a0a9e" stroke="#4a0a9e" stroke-width="0.7"/>
<rect x="444.97" y="30.47" width="4.8" height="4.8" fill="#4a0a9e" stroke="#4a0a9e" stroke-width="0.7"/>
<rect x="446.6" y="29.44" width="4.8" height="4.8" fill="#4a0a9e" stroke="#4a0a9e" stroke-width="0.7"/>
<rect x="448.23" y="29.45" width="4.8" height="4.8" fill="#4a0a9e" stroke="#4a0a9e" stroke-width="0.7"/>
<rect x="449.86" y="30.63" width="4.8" height="4.8" fill="#4a0a9e" stroke="#4a0a9e" stroke-width="0.7"/>
<rect x="451.49" y="29.77" width="4.8" height="4.8" fill="#4a0a9e" stroke="#4a0a9e" stroke-width="0.7"/>
<rect x="453.12" y="29.87" width="4.8" height="4.8" fill="#4a0a9e" stroke="#4a0a9e" stroke-width="0.7"/>
<rect x="454.75" y="30.23" width="4.8" height="4.8" fill="#4a0a9e" stroke="#4a0a9e" stroke-width="0.7"/>
<rect x="456.38" y="30.38" width="4.8" height="4.8" fill="#4a0a9e" stroke="#4a0a9e" stroke-width="0.7"/>
<rect x="458.01" y="29.31" width="4.8" height="4.8" fill="#4a0a9e" stroke="#4a0a9e" stroke-width="0.7"/>
<rect x="459.64" y="29.84" width="4.8" height="4.8" fill="#4a0a9e" stroke="#4a0a9e" stroke-width="0.7"/>
<rect x="461.27" y="30" width="4.8" height="4.8" fill="#4a0a9e" stroke="#4a0a9e" stroke-width="0.7"/>
<rect x="462.9" y="30.08" width="4.8" height="4.8" fill="#4a0a9e" stroke="#4a0a9e" stroke-width="0.7"/>
<rect x="464.53" y="29.64" width="4.8" height="4.8" fill="#4a0a9e" stroke="#4a0a9e" stroke-width="0.7"/>
<rect x="466.16" y="30.24" width="4.8" height="4.8" fill="#4a0a9e" stroke="#4a0a9e" stroke-width="0.7"/>
<rect x="467.79" y="30.83" width="4.8" height="4.8" fill="#4a0a9e" stroke="#4a0a9e" stroke-width="0.7"/>
<rect x="469.42" y="29.93" width="4.8" height="4.8" fill="#4a0a9e" stroke="#4a0a9e" stroke-width="0.7"/>
<rect x="471.05" y="30.17" width="4.8" height="4.8" fill="#4a0a9e" stroke="#4a0a9e" stroke-width="0.7"/>
<rect x="472.68" y="29.49" width="4.8" height="4.8" fill="#4a0a9e" stroke="#4a0a9e" stroke-width="0.7"/>
<rect x="474.31" y="29.74" width="4.8" height="4.8" fill="#4a0a9e" stroke="#4a0a9e" stroke-width="0.7"/>
<rect x="475.94" y="30.36" width="4.8" height="4.8" fill="#4a0a9e" stroke="#4a0a9e" stroke-width="0.7"/>
<rect x="477.57" y="29.48" width="4.8" height="4.8" fill="#4a0a9e" stroke="#4a0a9e" stroke-width="0.7"/>
<rect x="479.2" y="30.72" width="4.8" height="4.8" fill="#4a0a9e" stroke="#4a0a9e" stroke-width="0.7"/>
<rect x="367.2" y="75.6" width="4" height="4" fill="#fff" stroke="#4a0a9e" stroke-width="0.7"/>
<rect x="367.2" y="85" width="4" height="4" fill="#fff" stroke="#ee9273" stroke-width="0.7"/>
<circle cx="369.3" cy="95.8" r="2.5" fill="#4a0a9e" stroke="#4a0a9e" stroke-width="0.7"/>
<circle cx="369.3" cy="103.2" r="2.1" fill="#fff" stroke="#4a0a9e" stroke-width="0.7"/>
<circle cx="369.3" cy="111.4" r="2.1" fill="#fff" stroke="#ee9273" stroke-width="0.7"/>
</g>
<path d="M457.5,45 Q463,50.5 473.2,50.8" fill="none" stroke="#000" stroke-width="1.1"/>
<polygon points="473.2,50.8 467.63,52.94 467.77,48.34" fill="#000"/>
<polyline points="392.7,81 376.6,87.9" fill="none" stroke="#000" stroke-width="1.1" stroke-linejoin="round" stroke-linecap="round"/>
<polygon points="376.6,87.9 380.75,83.62 382.56,87.85" fill="#000"/>
<line x1="371.2" y1="116.4" x2="386.2" y2="116.4" stroke="#ee9273" stroke-width="1.1"/>
<circle cx="378.7" cy="116.4" r="3" fill="#fff" stroke="#ee9273" stroke-width="1.0"/>
<line x1="423.7" y1="116.4" x2="438.7" y2="116.4" stroke="#ee9273" stroke-width="1.1"/>
<circle cx="431.2" cy="116.4" r="3" fill="#ee9273" stroke="#ee9273" stroke-width="1.0"/>
<line x1="371.2" y1="128.3" x2="386.2" y2="128.3" stroke="#4a0a9e" stroke-width="1.1"/>
<circle cx="378.7" cy="128.3" r="3" fill="#fff" stroke="#4a0a9e" stroke-width="1.0"/>
<line x1="423.7" y1="128.3" x2="438.7" y2="128.3" stroke="#4a0a9e" stroke-width="1.1"/>
<circle cx="431.2" cy="128.3" r="3" fill="#4a0a9e" stroke="#4a0a9e" stroke-width="1.0"/>
<text x="388.6" y="118.7" font-size="10" text-anchor="start" font-weight="normal" fill="#000" color="#000" textLength="28.6" lengthAdjust="spacing">CC #1</text>
<text x="441.5" y="118.7" font-size="10" text-anchor="start" font-weight="normal" fill="#000" color="#000" textLength="29.5" lengthAdjust="spacing">CC #2</text>
<text x="387.4" y="130.9" font-size="10" text-anchor="start" font-weight="normal" fill="#000" color="#000" textLength="36.3" lengthAdjust="spacing">MPC #1</text>
<text x="441.2" y="130.9" font-size="10" text-anchor="start" font-weight="normal" fill="#000" color="#000" textLength="35.9" lengthAdjust="spacing">MPC #2</text>
<clipPath id="cd"><rect x="540" y="23" width="113.8" height="111"/></clipPath><g clip-path="url(#cd)">
<line x1="541.9" y1="23" x2="541.7" y2="100" stroke="#4a0a9e" stroke-width="1.1"/>
<rect x="540.77" y="35.02" width="4" height="4" fill="#ee9273" stroke="#ee9273" stroke-width="0.7"/>
<rect x="542.4" y="35.14" width="4" height="4" fill="#ee9273" stroke="#ee9273" stroke-width="0.7"/>
<rect x="544.04" y="35.25" width="4" height="4" fill="#ee9273" stroke="#ee9273" stroke-width="0.7"/>
<rect x="545.67" y="35.47" width="4" height="4" fill="#ee9273" stroke="#ee9273" stroke-width="0.7"/>
<rect x="547.31" y="35.35" width="4" height="4" fill="#ee9273" stroke="#ee9273" stroke-width="0.7"/>
<rect x="548.95" y="35.61" width="4" height="4" fill="#ee9273" stroke="#ee9273" stroke-width="0.7"/>
<rect x="550.58" y="34.8" width="4" height="4" fill="#ee9273" stroke="#ee9273" stroke-width="0.7"/>
<rect x="552.22" y="35.31" width="4" height="4" fill="#ee9273" stroke="#ee9273" stroke-width="0.7"/>
<rect x="553.85" y="35.87" width="4" height="4" fill="#ee9273" stroke="#ee9273" stroke-width="0.7"/>
<rect x="555.49" y="35.66" width="4" height="4" fill="#ee9273" stroke="#ee9273" stroke-width="0.7"/>
<rect x="557.12" y="35.99" width="4" height="4" fill="#ee9273" stroke="#ee9273" stroke-width="0.7"/>
<rect x="558.75" y="35.28" width="4" height="4" fill="#ee9273" stroke="#ee9273" stroke-width="0.7"/>
<rect x="560.39" y="35.71" width="4" height="4" fill="#ee9273" stroke="#ee9273" stroke-width="0.7"/>
<rect x="562.02" y="35.57" width="4" height="4" fill="#ee9273" stroke="#ee9273" stroke-width="0.7"/>
<rect x="563.66" y="35.95" width="4" height="4" fill="#ee9273" stroke="#ee9273" stroke-width="0.7"/>
<rect x="565.29" y="36.06" width="4" height="4" fill="#ee9273" stroke="#ee9273" stroke-width="0.7"/>
<rect x="566.93" y="35.58" width="4" height="4" fill="#ee9273" stroke="#ee9273" stroke-width="0.7"/>
<rect x="568.57" y="35.86" width="4" height="4" fill="#ee9273" stroke="#ee9273" stroke-width="0.7"/>
<rect x="570.2" y="36" width="4" height="4" fill="#ee9273" stroke="#ee9273" stroke-width="0.7"/>
<rect x="571.84" y="36.72" width="4" height="4" fill="#ee9273" stroke="#ee9273" stroke-width="0.7"/>
<rect x="573.47" y="36.65" width="4" height="4" fill="#ee9273" stroke="#ee9273" stroke-width="0.7"/>
<rect x="575.11" y="36.12" width="4" height="4" fill="#ee9273" stroke="#ee9273" stroke-width="0.7"/>
<rect x="576.74" y="36.84" width="4" height="4" fill="#ee9273" stroke="#ee9273" stroke-width="0.7"/>
<rect x="578.38" y="36.25" width="4" height="4" fill="#ee9273" stroke="#ee9273" stroke-width="0.7"/>
<rect x="580.01" y="36.78" width="4" height="4" fill="#ee9273" stroke="#ee9273" stroke-width="0.7"/>
<rect x="581.64" y="36.35" width="4" height="4" fill="#ee9273" stroke="#ee9273" stroke-width="0.7"/>
<rect x="583.28" y="36.28" width="4" height="4" fill="#ee9273" stroke="#ee9273" stroke-width="0.7"/>
<rect x="584.91" y="37.2" width="4" height="4" fill="#ee9273" stroke="#ee9273" stroke-width="0.7"/>
<rect x="586.55" y="36.59" width="4" height="4" fill="#ee9273" stroke="#ee9273" stroke-width="0.7"/>
<rect x="588.18" y="36.65" width="4" height="4" fill="#ee9273" stroke="#ee9273" stroke-width="0.7"/>
<rect x="589.82" y="37.48" width="4" height="4" fill="#ee9273" stroke="#ee9273" stroke-width="0.7"/>
<rect x="591.46" y="37.42" width="4" height="4" fill="#ee9273" stroke="#ee9273" stroke-width="0.7"/>
<rect x="593.09" y="36.89" width="4" height="4" fill="#ee9273" stroke="#ee9273" stroke-width="0.7"/>
<rect x="594.73" y="37.62" width="4" height="4" fill="#ee9273" stroke="#ee9273" stroke-width="0.7"/>
<rect x="596.36" y="37.25" width="4" height="4" fill="#ee9273" stroke="#ee9273" stroke-width="0.7"/>
<rect x="598" y="37.44" width="4" height="4" fill="#ee9273" stroke="#ee9273" stroke-width="0.7"/>
<rect x="599.63" y="37.03" width="4" height="4" fill="#ee9273" stroke="#ee9273" stroke-width="0.7"/>
<rect x="601.26" y="37.82" width="4" height="4" fill="#ee9273" stroke="#ee9273" stroke-width="0.7"/>
<rect x="602.9" y="37.62" width="4" height="4" fill="#ee9273" stroke="#ee9273" stroke-width="0.7"/>
<rect x="604.53" y="37.95" width="4" height="4" fill="#ee9273" stroke="#ee9273" stroke-width="0.7"/>
<rect x="606.17" y="37.93" width="4" height="4" fill="#ee9273" stroke="#ee9273" stroke-width="0.7"/>
<rect x="607.81" y="40.95" width="4" height="4" fill="#ee9273" stroke="#ee9273" stroke-width="0.7"/>
<rect x="609.11" y="42.55" width="4" height="4" fill="#ee9273" stroke="#ee9273" stroke-width="0.7"/>
<rect x="609.44" y="44.31" width="4" height="4" fill="#ee9273" stroke="#ee9273" stroke-width="0.7"/>
<rect x="610.74" y="45.91" width="4" height="4" fill="#ee9273" stroke="#ee9273" stroke-width="0.7"/>
<rect x="611.08" y="47.42" width="4" height="4" fill="#ee9273" stroke="#ee9273" stroke-width="0.7"/>
<rect x="612.38" y="49.02" width="4" height="4" fill="#ee9273" stroke="#ee9273" stroke-width="0.7"/>
<rect x="612.71" y="50.7" width="4" height="4" fill="#ee9273" stroke="#ee9273" stroke-width="0.7"/>
<rect x="614.01" y="52.3" width="4" height="4" fill="#ee9273" stroke="#ee9273" stroke-width="0.7"/>
<rect x="614.35" y="53.92" width="4" height="4" fill="#ee9273" stroke="#ee9273" stroke-width="0.7"/>
<rect x="615.64" y="55.52" width="4" height="4" fill="#ee9273" stroke="#ee9273" stroke-width="0.7"/>
<rect x="615.98" y="57.45" width="4" height="4" fill="#ee9273" stroke="#ee9273" stroke-width="0.7"/>
<rect x="617.28" y="59.05" width="4" height="4" fill="#ee9273" stroke="#ee9273" stroke-width="0.7"/>
<rect x="543.2" y="36.16" width="2.4" height="2.4" fill="#fff" stroke="#ee9273" stroke-width="0.6"/>
<rect x="548.11" y="36.01" width="2.4" height="2.4" fill="#fff" stroke="#ee9273" stroke-width="0.6"/>
<rect x="553.01" y="36.65" width="2.4" height="2.4" fill="#fff" stroke="#ee9273" stroke-width="0.6"/>
<rect x="557.92" y="36.69" width="2.4" height="2.4" fill="#fff" stroke="#ee9273" stroke-width="0.6"/>
<rect x="562.82" y="36.91" width="2.4" height="2.4" fill="#fff" stroke="#ee9273" stroke-width="0.6"/>
<rect x="567.73" y="37.45" width="2.4" height="2.4" fill="#fff" stroke="#ee9273" stroke-width="0.6"/>
<rect x="572.63" y="37.49" width="2.4" height="2.4" fill="#fff" stroke="#ee9273" stroke-width="0.6"/>
<rect x="577.54" y="37.63" width="2.4" height="2.4" fill="#fff" stroke="#ee9273" stroke-width="0.6"/>
<rect x="582.44" y="37.91" width="2.4" height="2.4" fill="#fff" stroke="#ee9273" stroke-width="0.6"/>
<rect x="587.35" y="38.21" width="2.4" height="2.4" fill="#fff" stroke="#ee9273" stroke-width="0.6"/>
<rect x="592.25" y="37.98" width="2.4" height="2.4" fill="#fff" stroke="#ee9273" stroke-width="0.6"/>
<rect x="597.16" y="38.7" width="2.4" height="2.4" fill="#fff" stroke="#ee9273" stroke-width="0.6"/>
<rect x="602.06" y="38.29" width="2.4" height="2.4" fill="#fff" stroke="#ee9273" stroke-width="0.6"/>
<rect x="538.88" y="22.75" width="4.5" height="4.5" fill="#4a0a9e" stroke="#4a0a9e" stroke-width="0.7"/>
<rect x="538.88" y="26.75" width="4.5" height="4.5" fill="#4a0a9e" stroke="#4a0a9e" stroke-width="0.7"/>
<rect x="538.88" y="30.25" width="4.5" height="4.5" fill="#4a0a9e" stroke="#4a0a9e" stroke-width="0.7"/>
<rect x="540.52" y="22.75" width="4.5" height="4.5" fill="#4a0a9e" stroke="#4a0a9e" stroke-width="0.7"/>
<rect x="540.52" y="26.75" width="4.5" height="4.5" fill="#4a0a9e" stroke="#4a0a9e" stroke-width="0.7"/>
<rect x="540.52" y="30.25" width="4.5" height="4.5" fill="#4a0a9e" stroke="#4a0a9e" stroke-width="0.7"/>
<rect x="542.15" y="22.75" width="4.5" height="4.5" fill="#4a0a9e" stroke="#4a0a9e" stroke-width="0.7"/>
<rect x="542.15" y="26.75" width="4.5" height="4.5" fill="#4a0a9e" stroke="#4a0a9e" stroke-width="0.7"/>
<rect x="542.15" y="30.25" width="4.5" height="4.5" fill="#4a0a9e" stroke="#4a0a9e" stroke-width="0.7"/>
<rect x="543.79" y="27.61" width="4.5" height="4.5" fill="#4a0a9e" stroke="#4a0a9e" stroke-width="0.7"/>
<rect x="543.79" y="31.15" width="4.5" height="4.5" fill="#4a0a9e" stroke="#4a0a9e" stroke-width="0.7"/>
<rect x="545.42" y="27.04" width="4.5" height="4.5" fill="#4a0a9e" stroke="#4a0a9e" stroke-width="0.7"/>
<rect x="545.42" y="31.17" width="4.5" height="4.5" fill="#4a0a9e" stroke="#4a0a9e" stroke-width="0.7"/>
<rect x="547.06" y="27.56" width="4.5" height="4.5" fill="#4a0a9e" stroke="#4a0a9e" stroke-width="0.7"/>
<rect x="547.06" y="31.04" width="4.5" height="4.5" fill="#4a0a9e" stroke="#4a0a9e" stroke-width="0.7"/>
<rect x="548.7" y="27.37" width="4.5" height="4.5" fill="#4a0a9e" stroke="#4a0a9e" stroke-width="0.7"/>
<rect x="548.7" y="30.59" width="4.5" height="4.5" fill="#4a0a9e" stroke="#4a0a9e" stroke-width="0.7"/>
<rect x="550.33" y="27.71" width="4.5" height="4.5" fill="#4a0a9e" stroke="#4a0a9e" stroke-width="0.7"/>
<rect x="550.33" y="31.57" width="4.5" height="4.5" fill="#4a0a9e" stroke="#4a0a9e" stroke-width="0.7"/>
<rect x="551.97" y="27.89" width="4.5" height="4.5" fill="#4a0a9e" stroke="#4a0a9e" stroke-width="0.7"/>
<rect x="551.97" y="31.45" width="4.5" height="4.5" fill="#4a0a9e" stroke="#4a0a9e" stroke-width="0.7"/>
<rect x="553.6" y="28.8" width="4.5" height="4.5" fill="#4a0a9e" stroke="#4a0a9e" stroke-width="0.7"/>
<rect x="553.6" y="31.72" width="4.5" height="4.5" fill="#4a0a9e" stroke="#4a0a9e" stroke-width="0.7"/>
<rect x="555.24" y="28.38" width="4.5" height="4.5" fill="#4a0a9e" stroke="#4a0a9e" stroke-width="0.7"/>
<rect x="555.24" y="31.21" width="4.5" height="4.5" fill="#4a0a9e" stroke="#4a0a9e" stroke-width="0.7"/>
<rect x="556.87" y="28.73" width="4.5" height="4.5" fill="#4a0a9e" stroke="#4a0a9e" stroke-width="0.7"/>
<rect x="556.87" y="31.71" width="4.5" height="4.5" fill="#4a0a9e" stroke="#4a0a9e" stroke-width="0.7"/>
<rect x="558.5" y="28.48" width="4.5" height="4.5" fill="#4a0a9e" stroke="#4a0a9e" stroke-width="0.7"/>
<rect x="558.5" y="31.76" width="4.5" height="4.5" fill="#4a0a9e" stroke="#4a0a9e" stroke-width="0.7"/>
<rect x="560.14" y="29.34" width="4.5" height="4.5" fill="#4a0a9e" stroke="#4a0a9e" stroke-width="0.7"/>
<rect x="560.14" y="31.95" width="4.5" height="4.5" fill="#4a0a9e" stroke="#4a0a9e" stroke-width="0.7"/>
<rect x="561.77" y="28.74" width="4.5" height="4.5" fill="#4a0a9e" stroke="#4a0a9e" stroke-width="0.7"/>
<rect x="561.77" y="32.12" width="4.5" height="4.5" fill="#4a0a9e" stroke="#4a0a9e" stroke-width="0.7"/>
<rect x="563.41" y="28.97" width="4.5" height="4.5" fill="#4a0a9e" stroke="#4a0a9e" stroke-width="0.7"/>
<rect x="563.41" y="31.59" width="4.5" height="4.5" fill="#4a0a9e" stroke="#4a0a9e" stroke-width="0.7"/>
<rect x="565.04" y="29.65" width="4.5" height="4.5" fill="#4a0a9e" stroke="#4a0a9e" stroke-width="0.7"/>
<rect x="565.04" y="32.25" width="4.5" height="4.5" fill="#4a0a9e" stroke="#4a0a9e" stroke-width="0.7"/>
<rect x="566.68" y="29.55" width="4.5" height="4.5" fill="#4a0a9e" stroke="#4a0a9e" stroke-width="0.7"/>
<rect x="566.68" y="32.34" width="4.5" height="4.5" fill="#4a0a9e" stroke="#4a0a9e" stroke-width="0.7"/>
<rect x="568.32" y="29.92" width="4.5" height="4.5" fill="#4a0a9e" stroke="#4a0a9e" stroke-width="0.7"/>
<rect x="568.32" y="31.8" width="4.5" height="4.5" fill="#4a0a9e" stroke="#4a0a9e" stroke-width="0.7"/>
<rect x="569.95" y="29.86" width="4.5" height="4.5" fill="#4a0a9e" stroke="#4a0a9e" stroke-width="0.7"/>
<rect x="569.95" y="31.75" width="4.5" height="4.5" fill="#4a0a9e" stroke="#4a0a9e" stroke-width="0.7"/>
<rect x="571.59" y="29.79" width="4.5" height="4.5" fill="#4a0a9e" stroke="#4a0a9e" stroke-width="0.7"/>
<rect x="571.59" y="31.8" width="4.5" height="4.5" fill="#4a0a9e" stroke="#4a0a9e" stroke-width="0.7"/>
<rect x="573.22" y="30.57" width="4.5" height="4.5" fill="#4a0a9e" stroke="#4a0a9e" stroke-width="0.7"/>
<rect x="573.22" y="32.73" width="4.5" height="4.5" fill="#4a0a9e" stroke="#4a0a9e" stroke-width="0.7"/>
<rect x="574.86" y="30.21" width="4.5" height="4.5" fill="#4a0a9e" stroke="#4a0a9e" stroke-width="0.7"/>
<rect x="574.86" y="31.86" width="4.5" height="4.5" fill="#4a0a9e" stroke="#4a0a9e" stroke-width="0.7"/>
<rect x="576.49" y="31.21" width="4.5" height="4.5" fill="#4a0a9e" stroke="#4a0a9e" stroke-width="0.7"/>
<rect x="576.49" y="32.42" width="4.5" height="4.5" fill="#4a0a9e" stroke="#4a0a9e" stroke-width="0.7"/>
<rect x="578.12" y="30.79" width="4.5" height="4.5" fill="#4a0a9e" stroke="#4a0a9e" stroke-width="0.7"/>
<rect x="578.12" y="32.2" width="4.5" height="4.5" fill="#4a0a9e" stroke="#4a0a9e" stroke-width="0.7"/>
<rect x="579.76" y="31.11" width="4.5" height="4.5" fill="#4a0a9e" stroke="#4a0a9e" stroke-width="0.7"/>
<rect x="579.76" y="32.84" width="4.5" height="4.5" fill="#4a0a9e" stroke="#4a0a9e" stroke-width="0.7"/>
<rect x="581.39" y="31.11" width="4.5" height="4.5" fill="#4a0a9e" stroke="#4a0a9e" stroke-width="0.7"/>
<rect x="581.39" y="32.49" width="4.5" height="4.5" fill="#4a0a9e" stroke="#4a0a9e" stroke-width="0.7"/>
<rect x="583.03" y="30.85" width="4.5" height="4.5" fill="#4a0a9e" stroke="#4a0a9e" stroke-width="0.7"/>
<rect x="583.03" y="33.04" width="4.5" height="4.5" fill="#4a0a9e" stroke="#4a0a9e" stroke-width="0.7"/>
<rect x="584.66" y="30.96" width="4.5" height="4.5" fill="#4a0a9e" stroke="#4a0a9e" stroke-width="0.7"/>
<rect x="584.66" y="32.67" width="4.5" height="4.5" fill="#4a0a9e" stroke="#4a0a9e" stroke-width="0.7"/>
<rect x="586.3" y="31.9" width="4.5" height="4.5" fill="#4a0a9e" stroke="#4a0a9e" stroke-width="0.7"/>
<rect x="586.3" y="32.37" width="4.5" height="4.5" fill="#4a0a9e" stroke="#4a0a9e" stroke-width="0.7"/>
<rect x="587.93" y="31.93" width="4.5" height="4.5" fill="#4a0a9e" stroke="#4a0a9e" stroke-width="0.7"/>
<rect x="587.93" y="33.24" width="4.5" height="4.5" fill="#4a0a9e" stroke="#4a0a9e" stroke-width="0.7"/>
<rect x="589.57" y="31.97" width="4.5" height="4.5" fill="#4a0a9e" stroke="#4a0a9e" stroke-width="0.7"/>
<rect x="589.57" y="33.13" width="4.5" height="4.5" fill="#4a0a9e" stroke="#4a0a9e" stroke-width="0.7"/>
<rect x="591.21" y="31.58" width="4.5" height="4.5" fill="#4a0a9e" stroke="#4a0a9e" stroke-width="0.7"/>
<rect x="591.21" y="32.83" width="4.5" height="4.5" fill="#4a0a9e" stroke="#4a0a9e" stroke-width="0.7"/>
<rect x="592.84" y="31.76" width="4.5" height="4.5" fill="#4a0a9e" stroke="#4a0a9e" stroke-width="0.7"/>
<rect x="592.84" y="33.3" width="4.5" height="4.5" fill="#4a0a9e" stroke="#4a0a9e" stroke-width="0.7"/>
<rect x="594.48" y="32.04" width="4.5" height="4.5" fill="#4a0a9e" stroke="#4a0a9e" stroke-width="0.7"/>
<rect x="594.48" y="32.96" width="4.5" height="4.5" fill="#4a0a9e" stroke="#4a0a9e" stroke-width="0.7"/>
<rect x="596.11" y="32.88" width="4.5" height="4.5" fill="#4a0a9e" stroke="#4a0a9e" stroke-width="0.7"/>
<rect x="596.11" y="33.41" width="4.5" height="4.5" fill="#4a0a9e" stroke="#4a0a9e" stroke-width="0.7"/>
<rect x="597.75" y="32.99" width="4.5" height="4.5" fill="#4a0a9e" stroke="#4a0a9e" stroke-width="0.7"/>
<rect x="597.75" y="33.07" width="4.5" height="4.5" fill="#4a0a9e" stroke="#4a0a9e" stroke-width="0.7"/>
<rect x="599.38" y="32.64" width="4.5" height="4.5" fill="#4a0a9e" stroke="#4a0a9e" stroke-width="0.7"/>
<rect x="599.38" y="33.4" width="4.5" height="4.5" fill="#4a0a9e" stroke="#4a0a9e" stroke-width="0.7"/>
<rect x="601.01" y="32.77" width="4.5" height="4.5" fill="#4a0a9e" stroke="#4a0a9e" stroke-width="0.7"/>
<rect x="601.01" y="33.02" width="4.5" height="4.5" fill="#4a0a9e" stroke="#4a0a9e" stroke-width="0.7"/>
<rect x="602.65" y="32.83" width="4.5" height="4.5" fill="#4a0a9e" stroke="#4a0a9e" stroke-width="0.7"/>
<rect x="602.65" y="32.93" width="4.5" height="4.5" fill="#4a0a9e" stroke="#4a0a9e" stroke-width="0.7"/>
<rect x="604.28" y="32.94" width="4.5" height="4.5" fill="#4a0a9e" stroke="#4a0a9e" stroke-width="0.7"/>
<rect x="604.28" y="33.82" width="4.5" height="4.5" fill="#4a0a9e" stroke="#4a0a9e" stroke-width="0.7"/>
<rect x="605.92" y="33.66" width="4.5" height="4.5" fill="#4a0a9e" stroke="#4a0a9e" stroke-width="0.7"/>
<rect x="605.92" y="33.52" width="4.5" height="4.5" fill="#4a0a9e" stroke="#4a0a9e" stroke-width="0.7"/>
<rect x="607.56" y="33.33" width="4.5" height="4.5" fill="#4a0a9e" stroke="#4a0a9e" stroke-width="0.7"/>
<rect x="607.56" y="33.28" width="4.5" height="4.5" fill="#4a0a9e" stroke="#4a0a9e" stroke-width="0.7"/>
<rect x="609.19" y="32.84" width="4.5" height="4.5" fill="#4a0a9e" stroke="#4a0a9e" stroke-width="0.7"/>
<rect x="609.19" y="33.22" width="4.5" height="4.5" fill="#4a0a9e" stroke="#4a0a9e" stroke-width="0.7"/>
<rect x="610.83" y="33.42" width="4.5" height="4.5" fill="#4a0a9e" stroke="#4a0a9e" stroke-width="0.7"/>
<rect x="610.83" y="33.82" width="4.5" height="4.5" fill="#4a0a9e" stroke="#4a0a9e" stroke-width="0.7"/>
<rect x="612.46" y="32.88" width="4.5" height="4.5" fill="#4a0a9e" stroke="#4a0a9e" stroke-width="0.7"/>
<rect x="612.46" y="33.74" width="4.5" height="4.5" fill="#4a0a9e" stroke="#4a0a9e" stroke-width="0.7"/>
<rect x="614.1" y="33.18" width="4.5" height="4.5" fill="#4a0a9e" stroke="#4a0a9e" stroke-width="0.7"/>
<rect x="614.1" y="33.64" width="4.5" height="4.5" fill="#4a0a9e" stroke="#4a0a9e" stroke-width="0.7"/>
<rect x="615.73" y="32.96" width="4.5" height="4.5" fill="#4a0a9e" stroke="#4a0a9e" stroke-width="0.7"/>
<rect x="615.73" y="33.71" width="4.5" height="4.5" fill="#4a0a9e" stroke="#4a0a9e" stroke-width="0.7"/>
<rect x="617.37" y="32.54" width="4.5" height="4.5" fill="#4a0a9e" stroke="#4a0a9e" stroke-width="0.7"/>
<rect x="617.37" y="33.65" width="4.5" height="4.5" fill="#4a0a9e" stroke="#4a0a9e" stroke-width="0.7"/>
<rect x="619" y="32.22" width="4.5" height="4.5" fill="#4a0a9e" stroke="#4a0a9e" stroke-width="0.7"/>
<rect x="619" y="33.44" width="4.5" height="4.5" fill="#4a0a9e" stroke="#4a0a9e" stroke-width="0.7"/>
<rect x="620.63" y="32.43" width="4.5" height="4.5" fill="#4a0a9e" stroke="#4a0a9e" stroke-width="0.7"/>
<rect x="620.63" y="33.64" width="4.5" height="4.5" fill="#4a0a9e" stroke="#4a0a9e" stroke-width="0.7"/>
<rect x="622.27" y="31.68" width="4.5" height="4.5" fill="#4a0a9e" stroke="#4a0a9e" stroke-width="0.7"/>
<rect x="622.27" y="33.9" width="4.5" height="4.5" fill="#4a0a9e" stroke="#4a0a9e" stroke-width="0.7"/>
<rect x="623.9" y="31.75" width="4.5" height="4.5" fill="#4a0a9e" stroke="#4a0a9e" stroke-width="0.7"/>
<rect x="623.9" y="33.53" width="4.5" height="4.5" fill="#4a0a9e" stroke="#4a0a9e" stroke-width="0.7"/>
<rect x="625.54" y="30.84" width="4.5" height="4.5" fill="#4a0a9e" stroke="#4a0a9e" stroke-width="0.7"/>
<rect x="625.54" y="33.5" width="4.5" height="4.5" fill="#4a0a9e" stroke="#4a0a9e" stroke-width="0.7"/>
<rect x="627.17" y="30.8" width="4.5" height="4.5" fill="#4a0a9e" stroke="#4a0a9e" stroke-width="0.7"/>
<rect x="627.17" y="33.62" width="4.5" height="4.5" fill="#4a0a9e" stroke="#4a0a9e" stroke-width="0.7"/>
<rect x="628.81" y="30.96" width="4.5" height="4.5" fill="#4a0a9e" stroke="#4a0a9e" stroke-width="0.7"/>
<rect x="628.81" y="33.72" width="4.5" height="4.5" fill="#4a0a9e" stroke="#4a0a9e" stroke-width="0.7"/>
<rect x="630.45" y="31.21" width="4.5" height="4.5" fill="#4a0a9e" stroke="#4a0a9e" stroke-width="0.7"/>
<rect x="630.45" y="33.64" width="4.5" height="4.5" fill="#4a0a9e" stroke="#4a0a9e" stroke-width="0.7"/>
<rect x="632.08" y="30.97" width="4.5" height="4.5" fill="#4a0a9e" stroke="#4a0a9e" stroke-width="0.7"/>
<rect x="632.08" y="33.42" width="4.5" height="4.5" fill="#4a0a9e" stroke="#4a0a9e" stroke-width="0.7"/>
<rect x="633.72" y="31.43" width="4.5" height="4.5" fill="#4a0a9e" stroke="#4a0a9e" stroke-width="0.7"/>
<rect x="633.72" y="33.54" width="4.5" height="4.5" fill="#4a0a9e" stroke="#4a0a9e" stroke-width="0.7"/>
<rect x="635.35" y="31.1" width="4.5" height="4.5" fill="#4a0a9e" stroke="#4a0a9e" stroke-width="0.7"/>
<rect x="635.35" y="33.49" width="4.5" height="4.5" fill="#4a0a9e" stroke="#4a0a9e" stroke-width="0.7"/>
<rect x="636.99" y="31.69" width="4.5" height="4.5" fill="#4a0a9e" stroke="#4a0a9e" stroke-width="0.7"/>
<rect x="636.99" y="33.27" width="4.5" height="4.5" fill="#4a0a9e" stroke="#4a0a9e" stroke-width="0.7"/>
<rect x="638.62" y="31.86" width="4.5" height="4.5" fill="#4a0a9e" stroke="#4a0a9e" stroke-width="0.7"/>
<rect x="638.62" y="33.47" width="4.5" height="4.5" fill="#4a0a9e" stroke="#4a0a9e" stroke-width="0.7"/>
<rect x="640.25" y="31.47" width="4.5" height="4.5" fill="#4a0a9e" stroke="#4a0a9e" stroke-width="0.7"/>
<rect x="640.25" y="32.98" width="4.5" height="4.5" fill="#4a0a9e" stroke="#4a0a9e" stroke-width="0.7"/>
<rect x="641.89" y="31.18" width="4.5" height="4.5" fill="#4a0a9e" stroke="#4a0a9e" stroke-width="0.7"/>
<rect x="641.89" y="33.22" width="4.5" height="4.5" fill="#4a0a9e" stroke="#4a0a9e" stroke-width="0.7"/>
<rect x="643.52" y="32.02" width="4.5" height="4.5" fill="#4a0a9e" stroke="#4a0a9e" stroke-width="0.7"/>
<rect x="643.52" y="32.8" width="4.5" height="4.5" fill="#4a0a9e" stroke="#4a0a9e" stroke-width="0.7"/>
<rect x="645.16" y="31.84" width="4.5" height="4.5" fill="#4a0a9e" stroke="#4a0a9e" stroke-width="0.7"/>
<rect x="645.16" y="32.97" width="4.5" height="4.5" fill="#4a0a9e" stroke="#4a0a9e" stroke-width="0.7"/>
<rect x="646.79" y="31.94" width="4.5" height="4.5" fill="#4a0a9e" stroke="#4a0a9e" stroke-width="0.7"/>
<rect x="646.79" y="32.36" width="4.5" height="4.5" fill="#4a0a9e" stroke="#4a0a9e" stroke-width="0.7"/>
<rect x="648.43" y="32.03" width="4.5" height="4.5" fill="#4a0a9e" stroke="#4a0a9e" stroke-width="0.7"/>
<rect x="648.43" y="32.73" width="4.5" height="4.5" fill="#4a0a9e" stroke="#4a0a9e" stroke-width="0.7"/>
<rect x="650.07" y="31.92" width="4.5" height="4.5" fill="#4a0a9e" stroke="#4a0a9e" stroke-width="0.7"/>
<rect x="650.07" y="32.57" width="4.5" height="4.5" fill="#4a0a9e" stroke="#4a0a9e" stroke-width="0.7"/>
<rect x="651.7" y="31.87" width="4.5" height="4.5" fill="#4a0a9e" stroke="#4a0a9e" stroke-width="0.7"/>
<rect x="651.7" y="32.92" width="4.5" height="4.5" fill="#4a0a9e" stroke="#4a0a9e" stroke-width="0.7"/>
<rect x="651.95" y="38.5" width="4" height="4" fill="#4a0a9e" stroke="#4a0a9e" stroke-width="0.7"/>
<circle cx="542.77" cy="71.77" r="2.3" fill="#ee9273" stroke="#ee9273" stroke-width="0.7"/>
<circle cx="544.4" cy="71.87" r="2.3" fill="#ee9273" stroke="#ee9273" stroke-width="0.7"/>
<circle cx="546.04" cy="71.34" r="2.3" fill="#ee9273" stroke="#ee9273" stroke-width="0.7"/>
<circle cx="547.67" cy="71.48" r="2.3" fill="#ee9273" stroke="#ee9273" stroke-width="0.7"/>
<circle cx="549.31" cy="71.73" r="2.3" fill="#ee9273" stroke="#ee9273" stroke-width="0.7"/>
<circle cx="550.95" cy="71.93" r="2.3" fill="#ee9273" stroke="#ee9273" stroke-width="0.7"/>
<circle cx="552.58" cy="71.62" r="2.3" fill="#ee9273" stroke="#ee9273" stroke-width="0.7"/>
<circle cx="554.22" cy="72.02" r="2.3" fill="#ee9273" stroke="#ee9273" stroke-width="0.7"/>
<circle cx="555.85" cy="72" r="2.3" fill="#ee9273" stroke="#ee9273" stroke-width="0.7"/>
<circle cx="557.49" cy="71.56" r="2.3" fill="#ee9273" stroke="#ee9273" stroke-width="0.7"/>
<circle cx="559.12" cy="71.94" r="2.3" fill="#ee9273" stroke="#ee9273" stroke-width="0.7"/>
<circle cx="560.75" cy="71.77" r="2.3" fill="#ee9273" stroke="#ee9273" stroke-width="0.7"/>
<circle cx="562.39" cy="71.66" r="2.3" fill="#ee9273" stroke="#ee9273" stroke-width="0.7"/>
<circle cx="564.02" cy="71.76" r="2.3" fill="#ee9273" stroke="#ee9273" stroke-width="0.7"/>
<circle cx="565.66" cy="71.93" r="2.3" fill="#ee9273" stroke="#ee9273" stroke-width="0.7"/>
<circle cx="567.29" cy="71.86" r="2.3" fill="#ee9273" stroke="#ee9273" stroke-width="0.7"/>
<circle cx="568.93" cy="71.89" r="2.3" fill="#ee9273" stroke="#ee9273" stroke-width="0.7"/>
<circle cx="570.57" cy="71.8" r="2.3" fill="#ee9273" stroke="#ee9273" stroke-width="0.7"/>
<circle cx="572.2" cy="72.17" r="2.3" fill="#ee9273" stroke="#ee9273" stroke-width="0.7"/>
<circle cx="573.84" cy="72.13" r="2.3" fill="#ee9273" stroke="#ee9273" stroke-width="0.7"/>
<circle cx="575.47" cy="72.35" r="2.3" fill="#ee9273" stroke="#ee9273" stroke-width="0.7"/>
<circle cx="577.11" cy="72.36" r="2.3" fill="#ee9273" stroke="#ee9273" stroke-width="0.7"/>
<circle cx="578.74" cy="72.11" r="2.3" fill="#ee9273" stroke="#ee9273" stroke-width="0.7"/>
<circle cx="580.38" cy="72.67" r="2.3" fill="#ee9273" stroke="#ee9273" stroke-width="0.7"/>
<circle cx="582.01" cy="71.98" r="2.3" fill="#ee9273" stroke="#ee9273" stroke-width="0.7"/>
<circle cx="583.64" cy="72.33" r="2.3" fill="#ee9273" stroke="#ee9273" stroke-width="0.7"/>
<circle cx="585.28" cy="72.26" r="2.3" fill="#ee9273" stroke="#ee9273" stroke-width="0.7"/>
<circle cx="586.91" cy="72.4" r="2.3" fill="#ee9273" stroke="#ee9273" stroke-width="0.7"/>
<circle cx="588.55" cy="72.19" r="2.3" fill="#ee9273" stroke="#ee9273" stroke-width="0.7"/>
<circle cx="590.18" cy="72.8" r="2.3" fill="#ee9273" stroke="#ee9273" stroke-width="0.7"/>
<circle cx="591.82" cy="72.46" r="2.3" fill="#ee9273" stroke="#ee9273" stroke-width="0.7"/>
<circle cx="593.46" cy="72.22" r="2.3" fill="#ee9273" stroke="#ee9273" stroke-width="0.7"/>
<circle cx="595.09" cy="72.71" r="2.3" fill="#ee9273" stroke="#ee9273" stroke-width="0.7"/>
<circle cx="596.73" cy="72.33" r="2.3" fill="#ee9273" stroke="#ee9273" stroke-width="0.7"/>
<circle cx="598.36" cy="72.72" r="2.3" fill="#ee9273" stroke="#ee9273" stroke-width="0.7"/>
<circle cx="600" cy="72.58" r="2.3" fill="#ee9273" stroke="#ee9273" stroke-width="0.7"/>
<circle cx="601.63" cy="72.8" r="2.3" fill="#ee9273" stroke="#ee9273" stroke-width="0.7"/>
<circle cx="603.26" cy="73.14" r="2.3" fill="#ee9273" stroke="#ee9273" stroke-width="0.7"/>
<circle cx="604.9" cy="73.05" r="2.3" fill="#ee9273" stroke="#ee9273" stroke-width="0.7"/>
<circle cx="606.53" cy="72.77" r="2.3" fill="#ee9273" stroke="#ee9273" stroke-width="0.7"/>
<circle cx="608.17" cy="73.11" r="2.3" fill="#ee9273" stroke="#ee9273" stroke-width="0.7"/>
<circle cx="609.81" cy="75.52" r="2.3" fill="#ee9273" stroke="#ee9273" stroke-width="0.7"/>
<circle cx="610.81" cy="76.32" r="2.5" fill="#ee9273" stroke="#ee9273" stroke-width="0.7"/>
<circle cx="611.44" cy="77.99" r="2.3" fill="#ee9273" stroke="#ee9273" stroke-width="0.7"/>
<circle cx="612.44" cy="78.79" r="2.5" fill="#ee9273" stroke="#ee9273" stroke-width="0.7"/>
<circle cx="613.08" cy="80.52" r="2.3" fill="#ee9273" stroke="#ee9273" stroke-width="0.7"/>
<circle cx="614.08" cy="81.32" r="2.5" fill="#ee9273" stroke="#ee9273" stroke-width="0.7"/>
<circle cx="614.71" cy="83.72" r="2.3" fill="#ee9273" stroke="#ee9273" stroke-width="0.7"/>
<circle cx="615.71" cy="84.52" r="2.5" fill="#ee9273" stroke="#ee9273" stroke-width="0.7"/>
<circle cx="616.35" cy="86.44" r="2.3" fill="#ee9273" stroke="#ee9273" stroke-width="0.7"/>
<circle cx="617.35" cy="87.24" r="2.5" fill="#ee9273" stroke="#ee9273" stroke-width="0.7"/>
<circle cx="617.98" cy="89.58" r="2.3" fill="#ee9273" stroke="#ee9273" stroke-width="0.7"/>
<circle cx="618.98" cy="90.38" r="2.5" fill="#ee9273" stroke="#ee9273" stroke-width="0.7"/>
<circle cx="541.13" cy="61" r="2.5" fill="#4a0a9e" stroke="#4a0a9e" stroke-width="0.7"/>
<circle cx="541.13" cy="65" r="2.5" fill="#4a0a9e" stroke="#4a0a9e" stroke-width="0.7"/>
<circle cx="542.77" cy="61" r="2.5" fill="#4a0a9e" stroke="#4a0a9e" stroke-width="0.7"/>
<circle cx="542.77" cy="65" r="2.5" fill="#4a0a9e" stroke="#4a0a9e" stroke-width="0.7"/>
<circle cx="544.4" cy="61" r="2.5" fill="#4a0a9e" stroke="#4a0a9e" stroke-width="0.7"/>
<circle cx="544.4" cy="65" r="2.5" fill="#4a0a9e" stroke="#4a0a9e" stroke-width="0.7"/>
<circle cx="546.04" cy="65.95" r="2.4" fill="#4a0a9e" stroke="#4a0a9e" stroke-width="0.7"/>
<circle cx="546.04" cy="68.53" r="2.4" fill="#4a0a9e" stroke="#4a0a9e" stroke-width="0.7"/>
<circle cx="547.67" cy="65.38" r="2.4" fill="#4a0a9e" stroke="#4a0a9e" stroke-width="0.7"/>
<circle cx="547.67" cy="68.84" r="2.4" fill="#4a0a9e" stroke="#4a0a9e" stroke-width="0.7"/>
<circle cx="549.31" cy="65.07" r="2.4" fill="#4a0a9e" stroke="#4a0a9e" stroke-width="0.7"/>
<circle cx="549.31" cy="68.09" r="2.4" fill="#4a0a9e" stroke="#4a0a9e" stroke-width="0.7"/>
<circle cx="550.95" cy="65.68" r="2.4" fill="#4a0a9e" stroke="#4a0a9e" stroke-width="0.7"/>
<circle cx="550.95" cy="68.63" r="2.4" fill="#4a0a9e" stroke="#4a0a9e" stroke-width="0.7"/>
<circle cx="552.58" cy="65.3" r="2.4" fill="#4a0a9e" stroke="#4a0a9e" stroke-width="0.7"/>
<circle cx="552.58" cy="68.67" r="2.4" fill="#4a0a9e" stroke="#4a0a9e" stroke-width="0.7"/>
<circle cx="554.22" cy="66.1" r="2.4" fill="#4a0a9e" stroke="#4a0a9e" stroke-width="0.7"/>
<circle cx="554.22" cy="68.45" r="2.4" fill="#4a0a9e" stroke="#4a0a9e" stroke-width="0.7"/>
<circle cx="555.85" cy="65.68" r="2.4" fill="#4a0a9e" stroke="#4a0a9e" stroke-width="0.7"/>
<circle cx="555.85" cy="68.33" r="2.4" fill="#4a0a9e" stroke="#4a0a9e" stroke-width="0.7"/>
<circle cx="557.49" cy="65.59" r="2.4" fill="#4a0a9e" stroke="#4a0a9e" stroke-width="0.7"/>
<circle cx="557.49" cy="69.1" r="2.4" fill="#4a0a9e" stroke="#4a0a9e" stroke-width="0.7"/>
<circle cx="559.12" cy="65.72" r="2.4" fill="#4a0a9e" stroke="#4a0a9e" stroke-width="0.7"/>
<circle cx="559.12" cy="69.12" r="2.4" fill="#4a0a9e" stroke="#4a0a9e" stroke-width="0.7"/>
<circle cx="560.75" cy="66.3" r="2.4" fill="#4a0a9e" stroke="#4a0a9e" stroke-width="0.7"/>
<circle cx="560.75" cy="68.79" r="2.4" fill="#4a0a9e" stroke="#4a0a9e" stroke-width="0.7"/>
<circle cx="562.39" cy="65.69" r="2.4" fill="#4a0a9e" stroke="#4a0a9e" stroke-width="0.7"/>
<circle cx="562.39" cy="69.2" r="2.4" fill="#4a0a9e" stroke="#4a0a9e" stroke-width="0.7"/>
<circle cx="564.02" cy="65.97" r="2.4" fill="#4a0a9e" stroke="#4a0a9e" stroke-width="0.7"/>
<circle cx="564.02" cy="68.67" r="2.4" fill="#4a0a9e" stroke="#4a0a9e" stroke-width="0.7"/>
<circle cx="565.66" cy="65.84" r="2.4" fill="#4a0a9e" stroke="#4a0a9e" stroke-width="0.7"/>
<circle cx="565.66" cy="69.26" r="2.4" fill="#4a0a9e" stroke="#4a0a9e" stroke-width="0.7"/>
<circle cx="567.29" cy="66.06" r="2.4" fill="#4a0a9e" stroke="#4a0a9e" stroke-width="0.7"/>
<circle cx="567.29" cy="68.6" r="2.4" fill="#4a0a9e" stroke="#4a0a9e" stroke-width="0.7"/>
<circle cx="568.93" cy="66.09" r="2.4" fill="#4a0a9e" stroke="#4a0a9e" stroke-width="0.7"/>
<circle cx="568.93" cy="68.46" r="2.4" fill="#4a0a9e" stroke="#4a0a9e" stroke-width="0.7"/>
<circle cx="570.57" cy="66.28" r="2.4" fill="#4a0a9e" stroke="#4a0a9e" stroke-width="0.7"/>
<circle cx="570.57" cy="68.81" r="2.4" fill="#4a0a9e" stroke="#4a0a9e" stroke-width="0.7"/>
<circle cx="572.2" cy="65.99" r="2.4" fill="#4a0a9e" stroke="#4a0a9e" stroke-width="0.7"/>
<circle cx="572.2" cy="69.18" r="2.4" fill="#4a0a9e" stroke="#4a0a9e" stroke-width="0.7"/>
<circle cx="573.84" cy="66.57" r="2.4" fill="#4a0a9e" stroke="#4a0a9e" stroke-width="0.7"/>
<circle cx="573.84" cy="68.44" r="2.4" fill="#4a0a9e" stroke="#4a0a9e" stroke-width="0.7"/>
<circle cx="575.47" cy="66.32" r="2.4" fill="#4a0a9e" stroke="#4a0a9e" stroke-width="0.7"/>
<circle cx="575.47" cy="68.73" r="2.4" fill="#4a0a9e" stroke="#4a0a9e" stroke-width="0.7"/>
<circle cx="577.11" cy="66.77" r="2.4" fill="#4a0a9e" stroke="#4a0a9e" stroke-width="0.7"/>
<circle cx="577.11" cy="69.27" r="2.4" fill="#4a0a9e" stroke="#4a0a9e" stroke-width="0.7"/>
<circle cx="578.74" cy="66.13" r="2.4" fill="#4a0a9e" stroke="#4a0a9e" stroke-width="0.7"/>
<circle cx="578.74" cy="68.79" r="2.4" fill="#4a0a9e" stroke="#4a0a9e" stroke-width="0.7"/>
<circle cx="580.38" cy="66.08" r="2.4" fill="#4a0a9e" stroke="#4a0a9e" stroke-width="0.7"/>
<circle cx="580.38" cy="69.54" r="2.4" fill="#4a0a9e" stroke="#4a0a9e" stroke-width="0.7"/>
<circle cx="582.01" cy="66.26" r="2.4" fill="#4a0a9e" stroke="#4a0a9e" stroke-width="0.7"/>
<circle cx="582.01" cy="69.19" r="2.4" fill="#4a0a9e" stroke="#4a0a9e" stroke-width="0.7"/>
<circle cx="583.64" cy="66.49" r="2.4" fill="#4a0a9e" stroke="#4a0a9e" stroke-width="0.7"/>
<circle cx="583.64" cy="69.25" r="2.4" fill="#4a0a9e" stroke="#4a0a9e" stroke-width="0.7"/>
<circle cx="585.28" cy="66.66" r="2.4" fill="#4a0a9e" stroke="#4a0a9e" stroke-width="0.7"/>
<circle cx="585.28" cy="69.38" r="2.4" fill="#4a0a9e" stroke="#4a0a9e" stroke-width="0.7"/>
<circle cx="586.91" cy="66.22" r="2.4" fill="#4a0a9e" stroke="#4a0a9e" stroke-width="0.7"/>
<circle cx="586.91" cy="69.43" r="2.4" fill="#4a0a9e" stroke="#4a0a9e" stroke-width="0.7"/>
<circle cx="588.55" cy="66.45" r="2.4" fill="#4a0a9e" stroke="#4a0a9e" stroke-width="0.7"/>
<circle cx="588.55" cy="69.23" r="2.4" fill="#4a0a9e" stroke="#4a0a9e" stroke-width="0.7"/>
<circle cx="590.18" cy="66.53" r="2.4" fill="#4a0a9e" stroke="#4a0a9e" stroke-width="0.7"/>
<circle cx="590.18" cy="69.03" r="2.4" fill="#4a0a9e" stroke="#4a0a9e" stroke-width="0.7"/>
<circle cx="591.82" cy="66.77" r="2.4" fill="#4a0a9e" stroke="#4a0a9e" stroke-width="0.7"/>
<circle cx="591.82" cy="69.22" r="2.4" fill="#4a0a9e" stroke="#4a0a9e" stroke-width="0.7"/>
<circle cx="593.46" cy="66.65" r="2.4" fill="#4a0a9e" stroke="#4a0a9e" stroke-width="0.7"/>
<circle cx="593.46" cy="69.54" r="2.4" fill="#4a0a9e" stroke="#4a0a9e" stroke-width="0.7"/>
<circle cx="595.09" cy="66.92" r="2.4" fill="#4a0a9e" stroke="#4a0a9e" stroke-width="0.7"/>
<circle cx="595.09" cy="68.86" r="2.4" fill="#4a0a9e" stroke="#4a0a9e" stroke-width="0.7"/>
<circle cx="596.73" cy="66.63" r="2.4" fill="#4a0a9e" stroke="#4a0a9e" stroke-width="0.7"/>
<circle cx="596.73" cy="69.31" r="2.4" fill="#4a0a9e" stroke="#4a0a9e" stroke-width="0.7"/>
<circle cx="598.36" cy="67.34" r="2.4" fill="#4a0a9e" stroke="#4a0a9e" stroke-width="0.7"/>
<circle cx="598.36" cy="69.77" r="2.4" fill="#4a0a9e" stroke="#4a0a9e" stroke-width="0.7"/>
<circle cx="600" cy="67.01" r="2.4" fill="#4a0a9e" stroke="#4a0a9e" stroke-width="0.7"/>
<circle cx="600" cy="68.92" r="2.4" fill="#4a0a9e" stroke="#4a0a9e" stroke-width="0.7"/>
<circle cx="601.63" cy="67.29" r="2.4" fill="#4a0a9e" stroke="#4a0a9e" stroke-width="0.7"/>
<circle cx="601.63" cy="69.37" r="2.4" fill="#4a0a9e" stroke="#4a0a9e" stroke-width="0.7"/>
<circle cx="603.26" cy="67.13" r="2.4" fill="#4a0a9e" stroke="#4a0a9e" stroke-width="0.7"/>
<circle cx="603.26" cy="69.68" r="2.4" fill="#4a0a9e" stroke="#4a0a9e" stroke-width="0.7"/>
<circle cx="604.9" cy="67.23" r="2.4" fill="#4a0a9e" stroke="#4a0a9e" stroke-width="0.7"/>
<circle cx="604.9" cy="69.48" r="2.4" fill="#4a0a9e" stroke="#4a0a9e" stroke-width="0.7"/>
<circle cx="606.53" cy="67.51" r="2.4" fill="#4a0a9e" stroke="#4a0a9e" stroke-width="0.7"/>
<circle cx="606.53" cy="69.39" r="2.4" fill="#4a0a9e" stroke="#4a0a9e" stroke-width="0.7"/>
<circle cx="608.17" cy="66.99" r="2.4" fill="#4a0a9e" stroke="#4a0a9e" stroke-width="0.7"/>
<circle cx="608.17" cy="69.85" r="2.4" fill="#4a0a9e" stroke="#4a0a9e" stroke-width="0.7"/>
<circle cx="609.81" cy="66.8" r="2.4" fill="#4a0a9e" stroke="#4a0a9e" stroke-width="0.7"/>
<circle cx="609.81" cy="69.3" r="2.4" fill="#4a0a9e" stroke="#4a0a9e" stroke-width="0.7"/>
<circle cx="611.44" cy="67.43" r="2.4" fill="#4a0a9e" stroke="#4a0a9e" stroke-width="0.7"/>
<circle cx="611.44" cy="69.07" r="2.4" fill="#4a0a9e" stroke="#4a0a9e" stroke-width="0.7"/>
<circle cx="613.08" cy="67.44" r="2.4" fill="#4a0a9e" stroke="#4a0a9e" stroke-width="0.7"/>
<circle cx="613.08" cy="69.69" r="2.4" fill="#4a0a9e" stroke="#4a0a9e" stroke-width="0.7"/>
<circle cx="614.71" cy="67.03" r="2.4" fill="#4a0a9e" stroke="#4a0a9e" stroke-width="0.7"/>
<circle cx="614.71" cy="69.29" r="2.4" fill="#4a0a9e" stroke="#4a0a9e" stroke-width="0.7"/>
<circle cx="616.35" cy="67.38" r="2.4" fill="#4a0a9e" stroke="#4a0a9e" stroke-width="0.7"/>
<circle cx="616.35" cy="69.91" r="2.4" fill="#4a0a9e" stroke="#4a0a9e" stroke-width="0.7"/>
<circle cx="617.98" cy="66.74" r="2.4" fill="#4a0a9e" stroke="#4a0a9e" stroke-width="0.7"/>
<circle cx="617.98" cy="69.48" r="2.4" fill="#4a0a9e" stroke="#4a0a9e" stroke-width="0.7"/>
<circle cx="619.62" cy="67.15" r="2.4" fill="#4a0a9e" stroke="#4a0a9e" stroke-width="0.7"/>
<circle cx="619.62" cy="69.5" r="2.4" fill="#4a0a9e" stroke="#4a0a9e" stroke-width="0.7"/>
<circle cx="621.25" cy="66.93" r="2.4" fill="#4a0a9e" stroke="#4a0a9e" stroke-width="0.7"/>
<circle cx="621.25" cy="69.15" r="2.4" fill="#4a0a9e" stroke="#4a0a9e" stroke-width="0.7"/>
<circle cx="622.88" cy="67.19" r="2.4" fill="#4a0a9e" stroke="#4a0a9e" stroke-width="0.7"/>
<circle cx="622.88" cy="69.81" r="2.4" fill="#4a0a9e" stroke="#4a0a9e" stroke-width="0.7"/>
<circle cx="624.52" cy="66.67" r="2.4" fill="#4a0a9e" stroke="#4a0a9e" stroke-width="0.7"/>
<circle cx="624.52" cy="69.23" r="2.4" fill="#4a0a9e" stroke="#4a0a9e" stroke-width="0.7"/>
<circle cx="626.15" cy="67.42" r="2.4" fill="#4a0a9e" stroke="#4a0a9e" stroke-width="0.7"/>
<circle cx="626.15" cy="69.79" r="2.4" fill="#4a0a9e" stroke="#4a0a9e" stroke-width="0.7"/>
<circle cx="627.79" cy="67.26" r="2.4" fill="#4a0a9e" stroke="#4a0a9e" stroke-width="0.7"/>
<circle cx="627.79" cy="69.03" r="2.4" fill="#4a0a9e" stroke="#4a0a9e" stroke-width="0.7"/>
<circle cx="629.42" cy="67.32" r="2.4" fill="#4a0a9e" stroke="#4a0a9e" stroke-width="0.7"/>
<circle cx="629.42" cy="69.98" r="2.4" fill="#4a0a9e" stroke="#4a0a9e" stroke-width="0.7"/>
<circle cx="631.06" cy="67.6" r="2.4" fill="#4a0a9e" stroke="#4a0a9e" stroke-width="0.7"/>
<circle cx="631.06" cy="69.7" r="2.4" fill="#4a0a9e" stroke="#4a0a9e" stroke-width="0.7"/>
<circle cx="632.7" cy="66.65" r="2.4" fill="#4a0a9e" stroke="#4a0a9e" stroke-width="0.7"/>
<circle cx="632.7" cy="69.84" r="2.4" fill="#4a0a9e" stroke="#4a0a9e" stroke-width="0.7"/>
<circle cx="634.33" cy="66.82" r="2.4" fill="#4a0a9e" stroke="#4a0a9e" stroke-width="0.7"/>
<circle cx="634.33" cy="69.65" r="2.4" fill="#4a0a9e" stroke="#4a0a9e" stroke-width="0.7"/>
<circle cx="635.97" cy="67.55" r="2.4" fill="#4a0a9e" stroke="#4a0a9e" stroke-width="0.7"/>
<circle cx="635.97" cy="69.71" r="2.4" fill="#4a0a9e" stroke="#4a0a9e" stroke-width="0.7"/>
<circle cx="637.6" cy="66.73" r="2.4" fill="#4a0a9e" stroke="#4a0a9e" stroke-width="0.7"/>
<circle cx="637.6" cy="69.29" r="2.4" fill="#4a0a9e" stroke="#4a0a9e" stroke-width="0.7"/>
<circle cx="639.24" cy="67.52" r="2.4" fill="#4a0a9e" stroke="#4a0a9e" stroke-width="0.7"/>
<circle cx="639.24" cy="69.15" r="2.4" fill="#4a0a9e" stroke="#4a0a9e" stroke-width="0.7"/>
<circle cx="640.87" cy="67.21" r="2.4" fill="#4a0a9e" stroke="#4a0a9e" stroke-width="0.7"/>
<circle cx="640.87" cy="69.41" r="2.4" fill="#4a0a9e" stroke="#4a0a9e" stroke-width="0.7"/>
<circle cx="642.5" cy="66.76" r="2.4" fill="#4a0a9e" stroke="#4a0a9e" stroke-width="0.7"/>
<circle cx="642.5" cy="69.62" r="2.4" fill="#4a0a9e" stroke="#4a0a9e" stroke-width="0.7"/>
<circle cx="644.14" cy="66.64" r="2.4" fill="#4a0a9e" stroke="#4a0a9e" stroke-width="0.7"/>
<circle cx="644.14" cy="69.11" r="2.4" fill="#4a0a9e" stroke="#4a0a9e" stroke-width="0.7"/>
<circle cx="645.77" cy="66.98" r="2.4" fill="#4a0a9e" stroke="#4a0a9e" stroke-width="0.7"/>
<circle cx="645.77" cy="69.07" r="2.4" fill="#4a0a9e" stroke="#4a0a9e" stroke-width="0.7"/>
<circle cx="647.41" cy="66.66" r="2.4" fill="#4a0a9e" stroke="#4a0a9e" stroke-width="0.7"/>
<circle cx="647.41" cy="69.58" r="2.4" fill="#4a0a9e" stroke="#4a0a9e" stroke-width="0.7"/>
<circle cx="649.04" cy="67.34" r="2.4" fill="#4a0a9e" stroke="#4a0a9e" stroke-width="0.7"/>
<circle cx="649.04" cy="69.88" r="2.4" fill="#4a0a9e" stroke="#4a0a9e" stroke-width="0.7"/>
<circle cx="650.68" cy="66.73" r="2.4" fill="#4a0a9e" stroke="#4a0a9e" stroke-width="0.7"/>
<circle cx="650.68" cy="69.43" r="2.4" fill="#4a0a9e" stroke="#4a0a9e" stroke-width="0.7"/>
<circle cx="652.32" cy="66.91" r="2.4" fill="#4a0a9e" stroke="#4a0a9e" stroke-width="0.7"/>
<circle cx="652.32" cy="69.6" r="2.4" fill="#4a0a9e" stroke="#4a0a9e" stroke-width="0.7"/>
<circle cx="653.95" cy="67.09" r="2.4" fill="#4a0a9e" stroke="#4a0a9e" stroke-width="0.7"/>
<circle cx="653.95" cy="69.94" r="2.4" fill="#4a0a9e" stroke="#4a0a9e" stroke-width="0.7"/>
<circle cx="653.95" cy="74" r="2.1" fill="#4a0a9e" stroke="#4a0a9e" stroke-width="0.7"/>
<rect x="539.3" y="84.5" width="4" height="4" fill="#fff" stroke="#ee9273" stroke-width="0.7"/>
<rect x="539.05" y="92.75" width="4.5" height="4.5" fill="#4a0a9e" stroke="#4a0a9e" stroke-width="0.7"/>
<rect x="539.3" y="97.4" width="4" height="4" fill="#fff" stroke="#4a0a9e" stroke-width="0.7"/>
<circle cx="541" cy="109.4" r="2.1" fill="#fff" stroke="#ee9273" stroke-width="0.7"/>
<circle cx="540.8" cy="116.4" r="2.5" fill="#4a0a9e" stroke="#4a0a9e" stroke-width="0.7"/>
<circle cx="540.8" cy="119.9" r="2.1" fill="#fff" stroke="#4a0a9e" stroke-width="0.7"/>
</g>
<path d="M636.3,42.2 Q641,47.5 651.2,47.9" fill="none" stroke="#000" stroke-width="1.1"/>
<polygon points="651.2,47.9 645.61,49.98 645.79,45.39" fill="#000"/>
<polyline points="563,80.2 546.4,86.7" fill="none" stroke="#000" stroke-width="1.1" stroke-linejoin="round" stroke-linecap="round"/>
<polygon points="546.4,86.7 550.68,82.55 552.36,86.84" fill="#000"/>
<line x1="543.2" y1="114.6" x2="558.2" y2="114.6" stroke="#ee9273" stroke-width="1.1"/>
<circle cx="550.7" cy="114.6" r="3" fill="#fff" stroke="#ee9273" stroke-width="1.0"/>
<line x1="595.7" y1="114.6" x2="610.7" y2="114.6" stroke="#ee9273" stroke-width="1.1"/>
<circle cx="603.2" cy="114.6" r="3" fill="#ee9273" stroke="#ee9273" stroke-width="1.0"/>
<line x1="543.2" y1="127.4" x2="558.2" y2="127.4" stroke="#4a0a9e" stroke-width="1.1"/>
<circle cx="550.7" cy="127.4" r="3" fill="#fff" stroke="#4a0a9e" stroke-width="1.0"/>
<line x1="595.7" y1="127.4" x2="610.7" y2="127.4" stroke="#4a0a9e" stroke-width="1.1"/>
<circle cx="603.2" cy="127.4" r="3" fill="#4a0a9e" stroke="#4a0a9e" stroke-width="1.0"/>
<text x="560.6" y="116.9" font-size="10" text-anchor="start" font-weight="normal" fill="#000" color="#000" textLength="28.6" lengthAdjust="spacing">CC #1</text>
<text x="613.5" y="116.9" font-size="10" text-anchor="start" font-weight="normal" fill="#000" color="#000" textLength="28.5" lengthAdjust="spacing">CC #2</text>
<text x="559.4" y="129.9" font-size="10" text-anchor="start" font-weight="normal" fill="#000" color="#000" textLength="36.9" lengthAdjust="spacing">MPC #1</text>
<text x="612.8" y="129.9" font-size="10" text-anchor="start" font-weight="normal" fill="#000" color="#000" textLength="36.3" lengthAdjust="spacing">MPC #2</text>
<path d="M32.2,242.4 C32.5,242.67 32.7,243.4 34,244 C35.3,244.6 35.67,245.08 40,246 C44.33,246.92 52,248.33 60,249.5 C68,250.67 79.67,252 88,253 C96.33,254 104.5,254.75 110,255.5 C115.5,256.25 118.5,256.83 121,257.5 C123.5,258.17 123.97,258.42 125,259.5 C126.03,260.58 126.7,261.42 127.2,264 C127.7,266.58 127.82,270.5 128,275 C128.18,279.5 128.25,288.33 128.3,291" fill="none" stroke="#f6e423" stroke-width="1.25" stroke-linejoin="round" stroke-linecap="round"/>
<path d="M32.2,242 C32.5,242.25 29.37,242.33 34,243.5 C38.63,244.67 51,247.58 60,249 C69,250.42 79.67,251.08 88,252 C96.33,252.92 104.5,253.75 110,254.5 C115.5,255.25 118.58,255.75 121,256.5 C123.42,257.25 123.58,257.75 124.5,259 C125.42,260.25 126.03,261.33 126.5,264 C126.97,266.67 127.12,270.5 127.3,275 C127.48,279.5 127.55,288.33 127.6,291" fill="none" stroke="#fcba2e" stroke-width="1.25" stroke-linejoin="round" stroke-linecap="round"/>
<path d="M32.2,241 C32.5,241.25 29.37,241.33 34,242.5 C38.63,243.67 51,246.58 60,248 C69,249.42 79.67,250.08 88,251 C96.33,251.92 104.5,252.75 110,253.5 C115.5,254.25 118.67,254.75 121,255.5 C123.33,256.25 123.17,256.58 124,258 C124.83,259.42 125.55,261.17 126,264 C126.45,266.83 126.53,270.5 126.7,275 C126.87,279.5 126.95,288.33 127,291" fill="none" stroke="#f79540" stroke-width="1.25" stroke-linejoin="round" stroke-linecap="round"/>
<path d="M32.2,234 C32.5,234.25 31.03,234.42 34,235.5 C36.97,236.58 44,238.83 50,240.5 C56,242.17 63.67,244.02 70,245.5 C76.33,246.98 81.33,248.23 88,249.4 C94.67,250.57 104.5,251.57 110,252.5 C115.5,253.43 118.67,254.08 121,255 C123.33,255.92 123.25,256.5 124,258 C124.75,259.5 125.17,258.5 125.5,264 C125.83,269.5 125.92,286.5 126,291" fill="none" stroke="#e16462" stroke-width="1.25" stroke-linejoin="round" stroke-linecap="round"/>
<path d="M32.2,227.4 C32.5,227.67 31.03,227.57 34,229 C36.97,230.43 44,233.67 50,236 C56,238.33 63.67,241 70,243 C76.33,245 81.33,246.5 88,248 C94.67,249.5 104.5,250.92 110,252 C115.5,253.08 118.75,253.5 121,254.5 C123.25,255.5 122.83,256.42 123.5,258 C124.17,259.58 124.67,258.5 125,264 C125.33,269.5 125.42,286.5 125.5,291" fill="none" stroke="#b6308b" stroke-width="1.25" stroke-linejoin="round" stroke-linecap="round"/>
<path d="M32.2,218.1 C32.5,218.42 31.03,218.35 34,220 C36.97,221.65 44,225.42 50,228 C56,230.58 63.67,233.33 70,235.5 C76.33,237.67 82.57,239.22 88,241 C93.43,242.78 98.1,244.62 102.6,246.2 C107.1,247.78 111.97,249.27 115,250.5 C118.03,251.73 119.38,252.43 120.8,253.6 C122.22,254.77 122.93,255.77 123.5,257.5 C124.07,259.23 124.03,258.42 124.2,264 C124.37,269.58 124.45,286.5 124.5,291" fill="none" stroke="#7103a7" stroke-width="1.25" stroke-linejoin="round" stroke-linecap="round"/>
<path d="M32.2,221.8 C32.5,222 31.03,221.8 34,223 C36.97,224.2 44,226.92 50,229 C56,231.08 63.67,233.57 70,235.5 C76.33,237.43 83,238.77 88,240.6 C93,242.43 96.45,244.22 100,246.5 C103.55,248.78 107.07,252.1 109.3,254.3 C111.53,256.5 112.37,257.42 113.4,259.7 C114.43,261.98 114.93,262.78 115.5,268 C116.07,273.22 116.58,287.17 116.8,291" fill="none" stroke="#270692" stroke-width="1.25" stroke-linejoin="round" stroke-linecap="round"/>
<path d="M32.2,255 C32.33,254.58 31.7,253.08 33,252.5 C34.3,251.92 35.5,252.08 40,251.5 C44.5,250.92 52,249.83 60,249 C68,248.17 79.67,247.33 88,246.5 C96.33,245.67 103.2,244.88 110,244 C116.8,243.12 125.67,241.67 128.8,241.2" fill="none" stroke="#f6e423" stroke-width="1.25" stroke-linejoin="round" stroke-linecap="round"/>
<path d="M32.2,253.5 C32.5,253.17 29.37,252.42 34,251.5 C38.63,250.58 51,249 60,248 C69,247 79.67,246.33 88,245.5 C96.33,244.67 103.2,243.9 110,243 C116.8,242.1 125.67,240.58 128.8,240.1" fill="none" stroke="#fcba2e" stroke-width="1.25" stroke-linejoin="round" stroke-linecap="round"/>
<path d="M32.2,252 C32.5,251.75 29.37,251.33 34,250.5 C38.63,249.67 51,248 60,247 C69,246 79.67,245.33 88,244.5 C96.33,243.67 103.2,242.92 110,242 C116.8,241.08 125.67,239.5 128.8,239" fill="none" stroke="#f79540" stroke-width="1.25" stroke-linejoin="round" stroke-linecap="round"/>
<path d="M32.2,249.4 C32.5,249.17 29.37,248.73 34,248 C38.63,247.27 51,246.17 60,245 C69,243.83 79.67,242.33 88,241 C96.33,239.67 103.2,238.55 110,237 C116.8,235.45 125.67,232.58 128.8,231.7" fill="none" stroke="#e16462" stroke-width="1.25" stroke-linejoin="round" stroke-linecap="round"/>
<path d="M32.2,248.5 C32.5,248.33 29.37,248.58 34,247.5 C38.63,246.42 51,243.92 60,242 C69,240.08 79.67,237.92 88,236 C96.33,234.08 103.2,232.45 110,230.5 C116.8,228.55 125.67,225.33 128.8,224.3" fill="none" stroke="#b6308b" stroke-width="1.25" stroke-linejoin="round" stroke-linecap="round"/>
<path d="M32.2,247 C32.5,246.83 29.37,247.42 34,246 C38.63,244.58 51,241.17 60,238.5 C69,235.83 81.33,232.17 88,230 C94.67,227.83 96.33,227.08 100,225.5 C103.67,223.92 106.83,222.13 110,220.5 C113.17,218.87 116.67,216.95 119,215.7 C121.33,214.45 122.92,213.53 124,213 C125.08,212.47 125.25,212.58 125.5,212.5" fill="none" stroke="#7103a7" stroke-width="1.25" stroke-linejoin="round" stroke-linecap="round"/>
<path d="M32.2,244.7 C32.5,244.53 29.37,245.57 34,243.7 C38.63,241.83 51,237.03 60,233.5 C69,229.97 82.17,225.08 88,222.5 C93.83,219.92 92.57,219.83 95,218 C97.43,216.17 100.43,214 102.6,211.5 C104.77,209 106.2,206.15 108,203 C109.8,199.85 112.5,194.33 113.4,192.6" fill="none" stroke="#270692" stroke-width="1.25" stroke-linejoin="round" stroke-linecap="round"/>
<polyline points="125.5,212.5 126.3,206 127.1,204.3 127.6,210 128,208" fill="none" stroke="#7103a7" stroke-width="1.25" stroke-linejoin="round" stroke-linecap="round"/>
<polyline points="113.4,192.6 115,196.4 122.2,192.3 123.5,212.8 124.8,207 125.8,210.5 126.9,204 128.2,206.8" fill="none" stroke="#270692" stroke-width="1.25" stroke-linejoin="round" stroke-linecap="round"/>
<ellipse cx="115.4" cy="202.8" rx="20.7" ry="12.7" fill="none" stroke="#000" stroke-width="1"/>
<polyline points="136.1,238.8 136.1,206" fill="none" stroke="#000" stroke-width="1.1" stroke-linejoin="round" stroke-linecap="round"/>
<polygon points="136.1,206 138.3,211.5 133.9,211.5" fill="#000"/>
<text x="31.6" y="188.7" font-size="10.4" text-anchor="start" font-weight="normal" fill="#000" color="#000">Micro short circuit</text>
<text x="124.9" y="188.5" font-size="10.4" text-anchor="start" font-weight="normal" fill="#000" color="#000">50th</text>
<text x="129.6" y="249.6" font-size="10.4" text-anchor="start" font-weight="normal" fill="#000" color="#000">5th</text>
<text x="33.3" y="286.1" font-size="10.4" text-anchor="start" font-weight="normal" fill="#000" color="#000">CC charge</text>
<path d="M204.1,245.4 C204.58,245.57 205.82,246.13 207,246.4 C208.18,246.67 207.7,246.63 211.2,247 C214.7,247.37 222.07,248.03 228,248.6 C233.93,249.17 240.55,249.73 246.8,250.4 C253.05,251.07 259.27,251.73 265.5,252.6 C271.73,253.47 279.52,254.53 284.2,255.6 C288.88,256.67 291.5,257.85 293.6,259 C295.7,260.15 295.93,261 296.8,262.5 C297.67,264 298.28,265.42 298.8,268 C299.32,270.58 299.63,274.17 299.9,278 C300.17,281.83 300.32,288.83 300.4,291" fill="none" stroke="#f6e423" stroke-width="1.1" stroke-linejoin="round" stroke-linecap="round"/>
<path d="M204.1,244.28 C204.58,244.45 205.82,245.06 207,245.35 C208.18,245.64 207.7,245.61 211.2,246 C214.7,246.38 222.07,247.06 228,247.66 C233.93,248.25 240.55,248.88 246.8,249.59 C253.05,250.3 259.27,251.01 265.5,251.91 C271.73,252.81 279.52,253.92 284.2,255 C288.88,256.08 291.5,257.26 293.6,258.42 C295.7,259.57 295.93,260.42 296.79,261.94 C297.64,263.46 298.23,264.91 298.73,267.55 C299.23,270.19 299.53,273.87 299.78,277.77 C300.03,281.68 300.17,288.8 300.25,291" fill="none" stroke="#fa9f3a" stroke-width="1.1" stroke-linejoin="round" stroke-linecap="round"/>
<path d="M204.1,239.1 C204.58,239.34 205.82,240.14 207,240.52 C208.18,240.9 207.7,240.91 211.2,241.37 C214.7,241.84 222.07,242.56 228,243.31 C233.93,244.06 240.55,244.96 246.8,245.86 C253.05,246.77 259.27,247.67 265.5,248.74 C271.73,249.8 279.52,251.08 284.2,252.24 C288.88,253.4 291.51,254.54 293.6,255.72 C295.69,256.91 295.91,257.72 296.72,259.35 C297.52,260.98 298,262.58 298.42,265.48 C298.84,268.38 299.04,272.49 299.23,276.74 C299.42,280.99 299.5,288.62 299.56,291" fill="none" stroke="#e16462" stroke-width="1.1" stroke-linejoin="round" stroke-linecap="round"/>
<path d="M204.1,235.2 C204.58,235.48 205.82,236.43 207,236.88 C208.18,237.33 207.7,237.36 211.2,237.89 C214.7,238.41 222.07,239.17 228,240.03 C233.93,240.89 240.55,242 246.8,243.06 C253.05,244.11 259.27,245.16 265.5,246.34 C271.73,247.53 279.52,248.93 284.2,250.16 C288.88,251.39 291.52,252.49 293.6,253.7 C295.68,254.9 295.9,255.7 296.66,257.4 C297.43,259.1 297.83,260.83 298.19,263.92 C298.55,267.01 298.67,271.45 298.81,275.96 C298.95,280.47 299,288.49 299.04,291" fill="none" stroke="#b6308b" stroke-width="1.1" stroke-linejoin="round" stroke-linecap="round"/>
<path d="M204.1,231.9 C204.58,232.22 205.82,233.29 207,233.8 C208.18,234.31 207.7,234.36 211.2,234.94 C214.7,235.52 222.07,236.3 228,237.26 C233.93,238.22 240.55,239.5 246.8,240.68 C253.05,241.86 259.27,243.03 265.5,244.32 C271.73,245.61 279.52,247.12 284.2,248.4 C288.88,249.68 291.53,250.75 293.6,251.98 C295.67,253.2 295.89,253.98 296.62,255.75 C297.35,257.52 297.68,259.34 297.99,262.6 C298.3,265.86 298.36,270.57 298.46,275.3 C298.56,280.03 298.58,288.38 298.6,291" fill="none" stroke="#880aa5" stroke-width="1.1" stroke-linejoin="round" stroke-linecap="round"/>
<path d="M204.1,230.4 C204.58,230.73 205.82,231.87 207,232.4 C208.18,232.93 207.7,233 211.2,233.6 C214.7,234.2 222.07,235 228,236 C233.93,237 240.55,238.37 246.8,239.6 C253.05,240.83 259.27,242.07 265.5,243.4 C271.73,244.73 279.52,246.3 284.2,247.6 C288.88,248.9 291.53,249.97 293.6,251.2 C295.67,252.43 295.88,253.2 296.6,255 C297.32,256.8 297.62,258.67 297.9,262 C298.18,265.33 298.22,270.17 298.3,275 C298.38,279.83 298.38,288.33 298.4,291" fill="none" stroke="#6a00a8" stroke-width="1.1" stroke-linejoin="round" stroke-linecap="round"/>
<path d="M204.1,223.8 C204.58,224.27 205.82,225.83 207,226.6 C208.18,227.37 207.7,227.48 211.2,228.4 C214.7,229.32 222.07,231 228,232.1 C233.93,233.2 240.55,233.9 246.8,235 C253.05,236.1 259.27,237.3 265.5,238.7 C271.73,240.1 279.52,241.68 284.2,243.4 C288.88,245.12 291.42,247.13 293.6,249 C295.78,250.87 296.48,252.43 297.3,254.6 C298.12,256.77 298.25,255.93 298.5,262 C298.75,268.07 298.75,286.17 298.8,291" fill="none" stroke="#270692" stroke-width="1.2" stroke-linejoin="round" stroke-linecap="round"/>
<polyline points="204.1,257.6 211.5,254.6 212.2,253.2 228.5,251.4 229.2,249.6 245,248.6 260.3,247.6 261,248.4 284.5,246.2 285.2,247.2 301.5,244.4" fill="none" stroke="#f6e423" stroke-width="1.1" stroke-linejoin="round" stroke-linecap="round"/>
<polyline points="204.1,256.84 211.5,253.89 212.2,252.5 228.5,250.62 229.2,248.81 245,247.62 260.3,246.45 261,247.28 284.5,244.97 285.2,246.02 301.5,243.13" fill="none" stroke="#fa9f3a" stroke-width="1.1" stroke-linejoin="round" stroke-linecap="round"/>
<polyline points="204.1,253.36 211.5,250.65 212.2,249.25 228.5,247.03 229.2,245.15 245,243.1 260.3,241.17 261,242.14 284.5,239.31 285.2,240.61 301.5,237.3" fill="none" stroke="#e16462" stroke-width="1.1" stroke-linejoin="round" stroke-linecap="round"/>
<polyline points="204.1,250.73 211.5,248.21 212.2,246.81 228.5,244.33 229.2,242.39 245,239.69 260.3,237.2 261,238.27 284.5,235.05 285.2,236.52 301.5,232.91" fill="none" stroke="#b6308b" stroke-width="1.1" stroke-linejoin="round" stroke-linecap="round"/>
<polyline points="204.1,248.51 211.5,246.14 212.2,244.74 228.5,242.04 229.2,240.06 245,236.81 260.3,233.83 261,234.99 284.5,231.44 285.2,233.07 301.5,229.19" fill="none" stroke="#880aa5" stroke-width="1.1" stroke-linejoin="round" stroke-linecap="round"/>
<polyline points="204.1,247.5 211.5,245.2 212.2,243.8 228.5,241 229.2,239 245,235.5 260.3,232.3 261,233.5 284.5,229.8 285.2,231.5 301.5,227.5" fill="none" stroke="#6a00a8" stroke-width="1.1" stroke-linejoin="round" stroke-linecap="round"/>
<polyline points="204.1,245.2 211.5,243 212.2,241.5 228.5,238.9 229.2,236.8 245,233.2 260.3,229.8 261,231.2 270,229.8 284.5,228 285.2,230 290,228.6 296,225.5 301.5,219.4" fill="none" stroke="#270692" stroke-width="1.2" stroke-linejoin="round" stroke-linecap="round"/>
<polyline points="308.3,243 308.3,220.5" fill="none" stroke="#000" stroke-width="1.1" stroke-linejoin="round" stroke-linecap="round"/>
<polygon points="308.3,220.5 310.5,226 306.1,226" fill="#000"/>
<text x="297" y="215.4" font-size="10.4" text-anchor="start" font-weight="normal" fill="#000" color="#000">60th</text>
<text x="302.8" y="253.9" font-size="10.4" text-anchor="start" font-weight="normal" fill="#000" color="#000">5th</text>
<text x="205.3" y="285.5" font-size="10.4" text-anchor="start" font-weight="normal" fill="#000" color="#000">MPC charge</text>
<path d="M369.3,240 C369.75,240.17 370.22,240.5 372,241 C373.78,241.5 375.33,242.13 380,243 C384.67,243.87 390.83,244.77 400,246.2 C409.17,247.63 426.02,249.63 435,251.6 C443.98,253.57 449.85,256.23 453.9,258 C457.95,259.77 457.85,260.7 459.3,262.2 C460.75,263.7 461.93,264.7 462.6,267 C463.27,269.3 463.17,272 463.3,276 C463.43,280 463.38,288.5 463.4,291" fill="none" stroke="#f8db24" stroke-width="1.2" stroke-linejoin="round" stroke-linecap="round"/>
<path d="M369.3,238.69 C369.75,238.88 370.22,239.29 372,239.81 C373.78,240.33 375.33,240.93 380,241.81 C384.67,242.7 390.83,243.56 400,245.11 C409.17,246.67 426.02,249.13 435,251.15 C443.98,253.17 449.85,255.53 453.9,257.23 C457.95,258.92 457.9,259.82 459.32,261.3 C460.75,262.78 461.8,263.8 462.43,266.12 C463.05,268.45 462.96,271.1 463.09,275.25 C463.21,279.4 463.17,288.38 463.19,291" fill="none" stroke="#f99a3d" stroke-width="1.2" stroke-linejoin="round" stroke-linecap="round"/>
<path d="M369.3,237.38 C369.75,237.58 370.22,238.08 372,238.62 C373.78,239.17 375.33,239.72 380,240.62 C384.67,241.53 390.83,242.35 400,244.02 C409.17,245.7 426.02,248.63 435,250.7 C443.98,252.77 449.84,254.83 453.9,256.45 C457.96,258.07 457.96,258.93 459.35,260.4 C460.74,261.87 461.66,262.9 462.25,265.25 C462.84,267.6 462.75,270.21 462.88,274.5 C463,278.79 462.96,288.25 462.97,291" fill="none" stroke="#ea7556" stroke-width="1.2" stroke-linejoin="round" stroke-linecap="round"/>
<path d="M369.3,236.06 C369.75,236.29 370.22,236.88 372,237.44 C373.78,238 375.33,238.52 380,239.44 C384.67,240.35 390.83,241.14 400,242.94 C409.17,244.74 426.02,248.13 435,250.25 C443.98,252.37 449.84,254.13 453.9,255.68 C457.96,257.22 458.01,258.05 459.38,259.5 C460.74,260.95 461.53,262 462.07,264.38 C462.62,266.75 462.55,269.31 462.66,273.75 C462.78,278.19 462.75,288.12 462.76,291" fill="none" stroke="#d8576c" stroke-width="1.2" stroke-linejoin="round" stroke-linecap="round"/>
<path d="M369.3,234.75 C369.75,235 370.22,235.67 372,236.25 C373.78,236.83 375.33,237.32 380,238.25 C384.67,239.18 390.83,239.92 400,241.85 C409.17,243.78 426.02,247.62 435,249.8 C443.98,251.98 449.83,253.43 453.9,254.9 C457.97,256.37 458.07,257.17 459.4,258.6 C460.73,260.03 461.39,261.1 461.9,263.5 C462.41,265.9 462.34,268.42 462.45,273 C462.56,277.58 462.53,288 462.55,291" fill="none" stroke="#c33d80" stroke-width="1.2" stroke-linejoin="round" stroke-linecap="round"/>
<path d="M369.3,233.44 C369.75,233.71 370.22,234.46 372,235.06 C373.78,235.67 375.33,236.11 380,237.06 C384.67,238.01 390.83,238.71 400,240.76 C409.17,242.81 426.02,247.12 435,249.35 C443.98,251.58 449.83,252.73 453.9,254.12 C457.97,255.52 458.12,256.28 459.43,257.7 C460.73,259.12 461.26,260.2 461.73,262.62 C462.19,265.05 462.14,267.52 462.24,272.25 C462.34,276.98 462.32,287.88 462.34,291" fill="none" stroke="#ab2594" stroke-width="1.2" stroke-linejoin="round" stroke-linecap="round"/>
<path d="M369.3,232.12 C369.75,232.42 370.22,233.25 372,233.88 C373.78,234.5 375.33,234.91 380,235.88 C384.67,236.84 390.83,237.5 400,239.68 C409.17,241.85 426.02,246.62 435,248.9 C443.98,251.18 449.82,252.03 453.9,253.35 C457.97,254.67 458.17,255.4 459.45,256.8 C460.73,258.2 461.12,259.3 461.55,261.75 C461.98,264.2 461.93,266.62 462.03,271.5 C462.12,276.38 462.11,287.75 462.12,291" fill="none" stroke="#8f0da4" stroke-width="1.2" stroke-linejoin="round" stroke-linecap="round"/>
<path d="M369.3,230.81 C369.75,231.12 370.22,232.04 372,232.69 C373.78,233.33 375.33,233.7 380,234.69 C384.67,235.67 390.83,236.29 400,238.59 C409.17,240.88 426.02,246.12 435,248.45 C443.98,250.78 449.82,251.33 453.9,252.58 C457.98,253.82 458.23,254.52 459.48,255.9 C460.72,257.28 460.99,258.4 461.38,260.88 C461.76,263.35 461.72,265.73 461.81,270.75 C461.9,275.77 461.9,287.62 461.91,291" fill="none" stroke="#7303a7" stroke-width="1.2" stroke-linejoin="round" stroke-linecap="round"/>
<path d="M369.3,229.5 C369.75,229.83 370.22,230.83 372,231.5 C373.78,232.17 375.33,232.5 380,233.5 C384.67,234.5 390.83,235.08 400,237.5 C409.17,239.92 426.02,245.62 435,248 C443.98,250.38 449.82,250.63 453.9,251.8 C457.98,252.97 458.28,253.63 459.5,255 C460.72,256.37 460.85,257.5 461.2,260 C461.55,262.5 461.52,264.83 461.6,270 C461.68,275.17 461.68,287.5 461.7,291" fill="none" stroke="#5602a2" stroke-width="1.2" stroke-linejoin="round" stroke-linecap="round"/>
<path d="M369.3,228.5 C369.75,228.75 366.88,228.83 372,230 C377.12,231.17 389.5,232.8 400,235.5 C410.5,238.2 426.33,243.42 435,246.2 C443.67,248.98 448.58,250.65 452,252.2 C455.42,253.75 454.68,254.2 455.5,255.5 C456.32,256.8 456.62,257.58 456.9,260 C457.18,262.42 457.13,264.83 457.2,270 C457.27,275.17 457.28,287.5 457.3,291" fill="none" stroke="#270692" stroke-width="1.2" stroke-linejoin="round" stroke-linecap="round"/>
<path d="M369.3,253.5 C369.75,253.25 366.88,252.5 372,252 C377.12,251.5 390.83,251.17 400,250.5 C409.17,249.83 419.5,249.25 427,248 C434.5,246.75 438.63,244.75 445,243 C451.37,241.25 461.83,238.42 465.2,237.5" fill="none" stroke="#f8db24" stroke-width="1.2" stroke-linejoin="round" stroke-linecap="round"/>
<path d="M369.3,252.69 C369.75,252.45 366.88,251.81 372,251.25 C377.12,250.69 390.83,250.12 400,249.31 C409.17,248.5 419.5,247.68 427,246.38 C434.5,245.07 438.63,243.21 445,241.5 C451.37,239.79 461.83,237 465.2,236.1" fill="none" stroke="#f99a3d" stroke-width="1.2" stroke-linejoin="round" stroke-linecap="round"/>
<path d="M369.3,251.88 C369.75,251.65 366.88,251.12 372,250.5 C377.12,249.88 390.83,249.08 400,248.12 C409.17,247.17 419.5,246.1 427,244.75 C434.5,243.4 438.63,241.68 445,240 C451.37,238.32 461.83,235.58 465.2,234.7" fill="none" stroke="#ea7556" stroke-width="1.2" stroke-linejoin="round" stroke-linecap="round"/>
<path d="M369.3,251.06 C369.75,250.84 366.88,250.44 372,249.75 C377.12,249.06 390.83,248.04 400,246.94 C409.17,245.83 419.5,244.53 427,243.12 C434.5,241.72 438.63,240.14 445,238.5 C451.37,236.86 461.83,234.17 465.2,233.3" fill="none" stroke="#d8576c" stroke-width="1.2" stroke-linejoin="round" stroke-linecap="round"/>
<path d="M369.3,250.25 C369.75,250.04 366.88,249.75 372,249 C377.12,248.25 390.83,247 400,245.75 C409.17,244.5 419.5,242.96 427,241.5 C434.5,240.04 438.63,238.6 445,237 C451.37,235.4 461.83,232.75 465.2,231.9" fill="none" stroke="#c33d80" stroke-width="1.2" stroke-linejoin="round" stroke-linecap="round"/>
<path d="M369.3,249.44 C369.75,249.24 366.88,249.06 372,248.25 C377.12,247.44 390.83,245.96 400,244.56 C409.17,243.17 419.5,241.39 427,239.88 C434.5,238.36 438.63,237.06 445,235.5 C451.37,233.94 461.83,231.33 465.2,230.5" fill="none" stroke="#ab2594" stroke-width="1.2" stroke-linejoin="round" stroke-linecap="round"/>
<path d="M369.3,248.62 C369.75,248.44 366.88,248.38 372,247.5 C377.12,246.62 390.83,244.92 400,243.38 C409.17,241.83 419.5,239.81 427,238.25 C434.5,236.69 438.63,235.53 445,234 C451.37,232.47 461.83,229.92 465.2,229.1" fill="none" stroke="#8f0da4" stroke-width="1.2" stroke-linejoin="round" stroke-linecap="round"/>
<path d="M369.3,247.81 C369.75,247.64 366.88,247.69 372,246.75 C377.12,245.81 390.83,243.88 400,242.19 C409.17,240.5 419.5,238.24 427,236.62 C434.5,235.01 438.63,233.99 445,232.5 C451.37,231.01 461.83,228.5 465.2,227.7" fill="none" stroke="#7303a7" stroke-width="1.2" stroke-linejoin="round" stroke-linecap="round"/>
<path d="M369.3,247 C369.75,246.83 366.88,247 372,246 C377.12,245 390.83,242.83 400,241 C409.17,239.17 419.5,236.67 427,235 C434.5,233.33 438.63,232.45 445,231 C451.37,229.55 461.83,227.08 465.2,226.3" fill="none" stroke="#5602a2" stroke-width="1.2" stroke-linejoin="round" stroke-linecap="round"/>
<path d="M369.3,245.5 C369.75,245.3 366.88,245.45 372,244.3 C377.12,243.15 390.83,240.65 400,238.6 C409.17,236.55 420.33,233.6 427,232 C433.67,230.4 436.5,229.97 440,229 C443.5,228.03 446,226.95 448,226.2 C450,225.45 450.83,225.1 452,224.5 C453.17,223.9 454.08,223.42 455,222.6 C455.92,221.78 456.75,220.77 457.5,219.6 C458.25,218.43 458.92,217 459.5,215.6 C460.08,214.2 460.57,212.55 461,211.2 C461.43,209.85 461.8,208.55 462.1,207.5 C462.4,206.45 462.68,205.33 462.8,204.9" fill="none" stroke="#270692" stroke-width="1.2" stroke-linejoin="round" stroke-linecap="round"/>
<polyline points="462.8,204.9 463.6,212 464.3,219.1 465,222.7 465.5,225" fill="none" stroke="#270692" stroke-width="1.3" stroke-linejoin="round" stroke-linecap="round"/>
<polygon points="464.6,221 465.6,221.5 465.6,225.5 464.6,225" fill="#270692" stroke="none"/>
<ellipse cx="453.4" cy="211.5" rx="17.2" ry="12.3" fill="none" stroke="#000" stroke-width="1"/>
<polyline points="473.4,236.3 473.4,207" fill="none" stroke="#000" stroke-width="1.1" stroke-linejoin="round" stroke-linecap="round"/>
<polygon points="473.4,207 475.6,212.5 471.2,212.5" fill="#000"/>
<text x="372.5" y="197" font-size="10.4" text-anchor="start" font-weight="normal" fill="#000" color="#000">Micro short circuit</text>
<text x="461" y="188.7" font-size="10.4" text-anchor="start" font-weight="normal" fill="#000" color="#000">45th</text>
<text x="467.5" y="247.5" font-size="10.4" text-anchor="start" font-weight="normal" fill="#000" color="#000">5th</text>
<text x="369.5" y="287" font-size="10.4" text-anchor="start" font-weight="normal" fill="#000" color="#000">CC charge</text>
<path d="M541.6,242.1 C542,242.33 537.93,242.18 544,243.5 C550.07,244.82 568.67,248.33 578,250 C587.33,251.67 593.83,252.42 600,253.5 C606.17,254.58 610.67,255.5 615,256.5 C619.33,257.5 623.23,258.22 626,259.5 C628.77,260.78 629.85,262.78 631.6,264.2 C633.35,265.62 635.5,266.03 636.5,268 C637.5,269.97 637.37,272.17 637.6,276 C637.83,279.83 637.85,288.5 637.9,291" fill="none" stroke="#fad724" stroke-width="1.15" stroke-linejoin="round" stroke-linecap="round"/>
<path d="M541.6,240.8 C542,241.02 537.93,240.9 544,242.14 C550.07,243.39 568.67,246.64 578,248.28 C587.33,249.92 593.83,250.85 600,252 C606.17,253.15 610.67,254.12 615,255.17 C619.33,256.21 623.23,256.99 626,258.28 C628.77,259.57 629.92,261.5 631.64,262.9 C633.37,264.3 635.37,264.69 636.33,266.67 C637.3,268.65 637.19,270.72 637.42,274.78 C637.65,278.83 637.66,288.3 637.71,291" fill="none" stroke="#f99a3d" stroke-width="1.15" stroke-linejoin="round" stroke-linecap="round"/>
<path d="M541.6,239.5 C542,239.71 537.93,239.61 544,240.79 C550.07,241.96 568.67,244.94 578,246.56 C587.33,248.17 593.83,249.29 600,250.5 C606.17,251.71 610.67,252.74 615,253.83 C619.33,254.93 623.22,255.76 626,257.06 C628.78,258.35 629.99,260.22 631.69,261.6 C633.38,262.98 635.24,263.34 636.17,265.33 C637.09,267.33 637.02,269.28 637.24,273.56 C637.47,277.83 637.48,288.09 637.52,291" fill="none" stroke="#eb7854" stroke-width="1.15" stroke-linejoin="round" stroke-linecap="round"/>
<path d="M541.6,238.2 C542,238.41 537.93,238.33 544,239.43 C550.07,240.54 568.67,243.24 578,244.83 C587.33,246.43 593.83,247.72 600,249 C606.17,250.28 610.67,251.36 615,252.5 C619.33,253.64 623.21,254.53 626,255.83 C628.79,257.13 630.07,258.94 631.73,260.3 C633.4,261.66 635.11,261.99 636,264 C636.89,266.01 636.84,267.83 637.07,272.33 C637.29,276.83 637.29,287.89 637.33,291" fill="none" stroke="#da5b69" stroke-width="1.15" stroke-linejoin="round" stroke-linecap="round"/>
<path d="M541.6,236.9 C542,237.1 537.93,237.04 544,238.08 C550.07,239.11 568.67,241.54 578,243.11 C587.33,244.68 593.83,246.16 600,247.5 C606.17,248.84 610.67,249.98 615,251.17 C619.33,252.35 623.2,253.31 626,254.61 C628.8,255.92 630.14,257.66 631.78,259 C633.42,260.34 634.98,260.65 635.83,262.67 C636.69,264.69 636.67,266.39 636.89,271.11 C637.11,275.83 637.1,287.69 637.14,291" fill="none" stroke="#c8437c" stroke-width="1.15" stroke-linejoin="round" stroke-linecap="round"/>
<path d="M541.6,235.6 C542,235.79 537.93,235.76 544,236.72 C550.07,237.69 568.67,239.84 578,241.39 C587.33,242.94 593.83,244.59 600,246 C606.17,247.41 610.67,248.6 615,249.83 C619.33,251.06 623.2,252.08 626,253.39 C628.8,254.7 630.21,256.38 631.82,257.7 C633.43,259.02 634.85,259.3 635.67,261.33 C636.48,263.36 636.5,264.94 636.71,269.89 C636.93,274.83 636.91,287.48 636.96,291" fill="none" stroke="#b22c8f" stroke-width="1.15" stroke-linejoin="round" stroke-linecap="round"/>
<path d="M541.6,234.3 C542,234.48 537.93,234.47 544,235.37 C550.07,236.26 568.67,238.14 578,239.67 C587.33,241.19 593.83,243.03 600,244.5 C606.17,245.97 610.67,247.22 615,248.5 C619.33,249.78 623.19,250.85 626,252.17 C628.81,253.48 630.28,255.09 631.87,256.4 C633.45,257.71 634.72,257.96 635.5,260 C636.28,262.04 636.32,263.5 636.53,268.67 C636.74,273.83 636.73,287.28 636.77,291" fill="none" stroke="#99169e" stroke-width="1.15" stroke-linejoin="round" stroke-linecap="round"/>
<path d="M541.6,233 C542,233.17 537.93,233.19 544,234.01 C550.07,234.84 568.67,236.45 578,237.94 C587.33,239.44 593.83,241.46 600,243 C606.17,244.54 610.67,245.84 615,247.17 C619.33,248.49 623.18,249.62 626,250.94 C628.82,252.27 630.36,253.81 631.91,255.1 C633.47,256.39 634.59,256.61 635.33,258.67 C636.07,260.72 636.15,262.06 636.36,267.44 C636.56,272.83 636.54,287.07 636.58,291" fill="none" stroke="#7f07a6" stroke-width="1.15" stroke-linejoin="round" stroke-linecap="round"/>
<path d="M541.6,231.7 C542,231.86 537.93,231.9 544,232.66 C550.07,233.41 568.67,234.75 578,236.22 C587.33,237.7 593.83,239.9 600,241.5 C606.17,243.1 610.67,244.46 615,245.83 C619.33,247.2 623.17,248.39 626,249.72 C628.83,251.05 630.43,252.53 631.96,253.8 C633.48,255.07 634.46,255.26 635.17,257.33 C635.87,259.4 635.97,260.61 636.18,266.22 C636.38,271.83 636.35,286.87 636.39,291" fill="none" stroke="#6500a7" stroke-width="1.15" stroke-linejoin="round" stroke-linecap="round"/>
<path d="M541.6,230.4 C542,230.55 537.93,230.62 544,231.3 C550.07,231.98 568.67,233.05 578,234.5 C587.33,235.95 593.83,238.33 600,240 C606.17,241.67 610.67,243.08 615,244.5 C619.33,245.92 623.17,247.17 626,248.5 C628.83,249.83 630.5,251.25 632,252.5 C633.5,253.75 634.33,253.92 635,256 C635.67,258.08 635.8,259.17 636,265 C636.2,270.83 636.17,286.67 636.2,291" fill="none" stroke="#49039f" stroke-width="1.15" stroke-linejoin="round" stroke-linecap="round"/>
<path d="M541.6,228.6 C542,228.75 537.93,228.88 544,229.5 C550.07,230.12 568.67,230.88 578,232.3 C587.33,233.72 593.83,236.22 600,238 C606.17,239.78 610.67,241.42 615,243 C619.33,244.58 622.95,246.07 626,247.5 C629.05,248.93 631.88,250.18 633.3,251.6 C634.72,253.02 634.22,253.77 634.5,256 C634.78,258.23 634.9,259.17 635,265 C635.1,270.83 635.08,286.67 635.1,291" fill="none" stroke="#270692" stroke-width="1.2" stroke-linejoin="round" stroke-linecap="round"/>
<polyline points="541.6,255.2 549.3,253 549.9,251.5 565.6,250.3 566.3,248.8 578,247.7 597.5,245.5 598.2,246.3 621.5,243.5 622.2,244.3 638.2,241.6" fill="none" stroke="#fad724" stroke-width="1.15" stroke-linejoin="round" stroke-linecap="round"/>
<polyline points="541.6,254.12 549.3,251.94 549.9,250.44 565.6,249.02 566.3,247.49 578,246.27 597.5,243.83 598.2,244.66 621.5,241.69 622.2,242.57 638.2,239.84" fill="none" stroke="#f99a3d" stroke-width="1.15" stroke-linejoin="round" stroke-linecap="round"/>
<polyline points="541.6,253.04 549.3,250.89 549.9,249.39 565.6,247.74 566.3,246.18 578,244.83 597.5,242.17 598.2,243.01 621.5,239.88 622.2,240.83 638.2,238.09" fill="none" stroke="#eb7854" stroke-width="1.15" stroke-linejoin="round" stroke-linecap="round"/>
<polyline points="541.6,251.97 549.3,249.83 549.9,248.33 565.6,246.47 566.3,244.87 578,243.4 597.5,240.5 598.2,241.37 621.5,238.07 622.2,239.1 638.2,236.33" fill="none" stroke="#da5b69" stroke-width="1.15" stroke-linejoin="round" stroke-linecap="round"/>
<polyline points="541.6,250.89 549.3,248.78 549.9,247.28 565.6,245.19 566.3,243.56 578,241.97 597.5,238.83 598.2,239.72 621.5,236.26 622.2,237.37 638.2,234.58" fill="none" stroke="#c8437c" stroke-width="1.15" stroke-linejoin="round" stroke-linecap="round"/>
<polyline points="541.6,249.81 549.3,247.72 549.9,246.22 565.6,243.91 566.3,242.24 578,240.53 597.5,237.17 598.2,238.08 621.5,234.44 622.2,235.63 638.2,232.82" fill="none" stroke="#b22c8f" stroke-width="1.15" stroke-linejoin="round" stroke-linecap="round"/>
<polyline points="541.6,248.73 549.3,246.67 549.9,245.17 565.6,242.63 566.3,240.93 578,239.1 597.5,235.5 598.2,236.43 621.5,232.63 622.2,233.9 638.2,231.07" fill="none" stroke="#99169e" stroke-width="1.15" stroke-linejoin="round" stroke-linecap="round"/>
<polyline points="541.6,247.66 549.3,245.61 549.9,244.11 565.6,241.36 566.3,239.62 578,237.67 597.5,233.83 598.2,234.79 621.5,230.82 622.2,232.17 638.2,229.31" fill="none" stroke="#7f07a6" stroke-width="1.15" stroke-linejoin="round" stroke-linecap="round"/>
<polyline points="541.6,246.58 549.3,244.56 549.9,243.06 565.6,240.08 566.3,238.31 578,236.23 597.5,232.17 598.2,233.14 621.5,229.01 622.2,230.43 638.2,227.56" fill="none" stroke="#6500a7" stroke-width="1.15" stroke-linejoin="round" stroke-linecap="round"/>
<polyline points="541.6,245.5 549.3,243.5 549.9,242 565.6,238.8 566.3,237 578,234.8 597.5,230.5 598.2,231.5 621.5,227.2 622.2,228.7 638.2,225.8" fill="none" stroke="#49039f" stroke-width="1.15" stroke-linejoin="round" stroke-linecap="round"/>
<polyline points="541.6,244 549.3,242 549.9,240.5 565.6,237 566.3,235 578,232.3 597.5,227.5 598.2,228.5 610,225.5 621.5,222.5 622,225.8" fill="none" stroke="#270692" stroke-width="1.2" stroke-linejoin="round" stroke-linecap="round"/>
<path d="M622,225.8 C622.83,225.1 625.33,223.13 627,221.6 C628.67,220.07 630.78,218.82 632,216.6 C633.22,214.38 633.58,211.07 634.3,208.3 C635.02,205.53 635.55,202.22 636.3,200 C637.05,197.78 638.38,195.83 638.8,195" fill="none" stroke="#270692" stroke-width="1.2" stroke-linejoin="round" stroke-linecap="round"/>
<line x1="541.3" y1="216" x2="541.3" y2="229" stroke="#270692" stroke-width="1.2"/>
<polyline points="645.5,228.8 645.5,195.5" fill="none" stroke="#000" stroke-width="1.1" stroke-linejoin="round" stroke-linecap="round"/>
<polygon points="645.5,195.5 647.7,201 643.3,201" fill="#000"/>
<text x="633.7" y="192" font-size="10.4" text-anchor="start" font-weight="normal" fill="#000" color="#000">80th</text>
<text x="640" y="246.3" font-size="10.4" text-anchor="start" font-weight="normal" fill="#000" color="#000">5th</text>
<text x="542" y="288" font-size="10.4" text-anchor="start" font-weight="normal" fill="#000" color="#000">MPC charge</text>
<polygon points="30.1,385.3 34,385.4 38.4,385.5 44,384.6 50,383.2 54,381.8 54,426 30.1,426" fill="#ef9b7c" stroke="none"/>
<polygon points="62.6,384.5 64,383.6 70,381.4 76,378.6 82,375 85.7,372.5 85.7,426.5 62.6,426.5" fill="#ef9b7c" stroke="none"/>
<polygon points="94.4,372.2 98,370.5 102,367.5 105.7,363.3 107.5,359.5 109.5,353.2 110.4,348 110.9,345.3 112,344.3 116.4,344.3 116.4,426.8 94.4,426.8" fill="#ef9b7c" stroke="none"/>
<polygon points="125.4,370.6 126.5,369.6 127.5,369.2 128.5,367.8 129.5,367.5 130.5,366 131.5,365.2 132.3,363.5 132.9,362.2 133.5,364 134,362.5 134.5,364.5 135,364.2 135,387 134.5,387 134.5,425.4 125.4,425.4" fill="#ef9b7c" stroke="none"/>
<line x1="38.4" y1="386" x2="38.4" y2="425.5" stroke="#f6c7b4" stroke-width="0.6"/>
<polyline points="62.6,384.5 62.2,400 61.8,430 61.5,449" fill="none" stroke="#ee9274" stroke-width="0.8" stroke-linejoin="round" stroke-linecap="round"/>
<polyline points="30.1,452.5 30.1,426" fill="none" stroke="#ee9274" stroke-width="0.9" stroke-linejoin="round" stroke-linecap="round"/>
<polyline points="54,395.2 56.5,395.4 57.2,397 57.6,410 58.5,425 60,438 61.3,449.5" fill="none" stroke="#ee9274" stroke-width="0.8" stroke-linejoin="round" stroke-linecap="round"/>
<polyline points="54,396.5 55.5,398 56.3,412 57.5,425" fill="none" stroke="#ee9274" stroke-width="0.6" stroke-linejoin="round" stroke-linecap="round"/>
<polyline points="85.7,391.2 87,391.5 88,401.5 89,406.5 90.5,410 92.5,412.6 94.4,413.6" fill="none" stroke="#ee9274" stroke-width="0.9" stroke-linejoin="round" stroke-linecap="round"/>
<polyline points="116.4,381 118.5,381.5 119.5,391.2 120.6,405 121.8,420 123.2,436 124.5,447.5" fill="none" stroke="#ee9274" stroke-width="0.9" stroke-linejoin="round" stroke-linecap="round"/>
<polyline points="118.8,384 119.8,398 121,412" fill="none" stroke="#ee9274" stroke-width="0.6" stroke-linejoin="round" stroke-linecap="round"/>
<line x1="53.2" y1="403.4" x2="63.9" y2="403.4" stroke="#000" stroke-width="0.9"/>
<polygon points="55.35,403.4 58.25,401.7 58.25,405.1" fill="#000"/>
<polygon points="61.75,403.4 58.85,401.7 58.85,405.1" fill="#000"/>
<line x1="85.1" y1="401.5" x2="95.5" y2="401.5" stroke="#000" stroke-width="0.9"/>
<polygon points="87.1,401.5 90,399.8 90,403.2" fill="#000"/>
<polygon points="93.5,401.5 90.6,399.8 90.6,403.2" fill="#000"/>
<line x1="117.1" y1="400" x2="127.3" y2="400" stroke="#000" stroke-width="0.9"/>
<polygon points="119,400 121.9,398.3 121.9,401.7" fill="#000"/>
<polygon points="125.4,400 122.5,398.3 122.5,401.7" fill="#000"/>
<line x1="43.6" y1="442.7" x2="54" y2="442.7" stroke="#000" stroke-width="0.9"/>
<polygon points="45.6,442.7 48.5,441 48.5,444.4" fill="#000"/>
<polygon points="52,442.7 49.1,441 49.1,444.4" fill="#000"/>
<polyline points="83,432.4 57.8,418.4" fill="none" stroke="#000" stroke-width="1.0" stroke-linejoin="round" stroke-linecap="round"/>
<polygon points="57.8,418.4 63.19,418.99 61.15,422.66" fill="#000"/>
<polyline points="90.5,431.5 89.6,413.9" fill="none" stroke="#000" stroke-width="1.0" stroke-linejoin="round" stroke-linecap="round"/>
<polygon points="89.6,413.9 91.95,418.79 87.76,419" fill="#000"/>
<polyline points="104.6,432.4 120.5,415.5" fill="none" stroke="#000" stroke-width="1.0" stroke-linejoin="round" stroke-linecap="round"/>
<polygon points="120.5,415.5 118.6,420.58 115.54,417.7" fill="#000"/>
<text x="64.4" y="441.8" font-size="10.4" text-anchor="start" font-weight="normal" fill="#000" color="#000">Over discharge</text>
<text x="34" y="451.8" font-size="10.4" text-anchor="start" font-weight="normal" fill="#000" color="#000" textLength="70" lengthAdjust="spacing">Aging 48 hours</text>
<line x1="33.3" y1="351.3" x2="50.8" y2="351.3" stroke="#ee9274" stroke-width="1.3"/>
<text x="54" y="355" font-size="10.4" text-anchor="start" font-weight="normal" fill="#000" color="#000">CC charge</text>
<polygon points="202.6,387.9 205,386.1 208,386.3 211.4,386.6 216,385.3 222,383.6 227.1,381.5 227.1,425.5 202.6,425.5" fill="#460098" stroke="none"/>
<polygon points="235.6,383 238,381.5 244,379.8 250,377.8 255,376.2 259.2,374.7 259.2,425.7 235.6,425.7" fill="#460098" stroke="none"/>
<polygon points="268.1,375 272,374 278,372.2 284,369.5 288,366.5 290.8,363.3 290.8,425.9 268.1,425.9" fill="#460098" stroke="none"/>
<polygon points="300.1,362.9 301.5,362.3 302.5,361.5 303,357.5 303.5,361 304.2,355.2 304.8,351 305.2,355 305.6,347.6 306.1,352 306.5,345.7 307,349 307.4,344.3 308.2,343.7 309,346 309.4,343.7 310.3,347 310.8,343.7 311.8,345.5 312.4,343.7 313.2,344 313.6,351 314.1,355 314.6,351.5 315.1,357 315.6,355.5 316,360 316.5,357.5 316.9,364.8 316.9,425.5 300.1,425.5" fill="#460098" stroke="none"/>
<line x1="211.4" y1="388" x2="211.4" y2="425" stroke="#8a66c4" stroke-width="0.6"/>
<line x1="202.8" y1="425" x2="202.8" y2="452.5" stroke="#5a12a8" stroke-width="1.0"/>
<line x1="227.1" y1="394.2" x2="235.6" y2="394.2" stroke="#5a12a8" stroke-width="1.2"/>
<line x1="259.2" y1="391.3" x2="268.1" y2="391.3" stroke="#5a12a8" stroke-width="1.2"/>
<line x1="290.8" y1="387.2" x2="300.1" y2="387.2" stroke="#5a12a8" stroke-width="1.2"/>
<line x1="227.3" y1="389.9" x2="235.6" y2="389.9" stroke="#000" stroke-width="0.9"/>
<polygon points="228.65,389.9 231.15,388.4 231.15,391.4" fill="#000"/>
<polygon points="234.25,389.9 231.75,388.4 231.75,391.4" fill="#000"/>
<line x1="258.6" y1="387.5" x2="268.2" y2="387.5" stroke="#000" stroke-width="0.9"/>
<polygon points="260.6,387.5 263.1,386 263.1,389" fill="#000"/>
<polygon points="266.2,387.5 263.7,386 263.7,389" fill="#000"/>
<line x1="290.6" y1="383.3" x2="300.1" y2="383.3" stroke="#000" stroke-width="0.9"/>
<polygon points="292.55,383.3 295.05,381.8 295.05,384.8" fill="#000"/>
<polygon points="298.15,383.3 295.65,381.8 295.65,384.8" fill="#000"/>
<line x1="240.3" y1="440.5" x2="250.5" y2="440.5" stroke="#000" stroke-width="0.9"/>
<polygon points="242.6,440.5 245.1,439 245.1,442" fill="#000"/>
<polygon points="248.2,440.5 245.7,439 245.7,442" fill="#000"/>
<line x1="209.6" y1="351.9" x2="224" y2="351.9" stroke="#5a12a8" stroke-width="1.3"/>
<text x="227.5" y="355.4" font-size="10.4" text-anchor="start" font-weight="normal" fill="#000" color="#000">MPC charge</text>
<text x="209.6" y="451.7" font-size="10.4" text-anchor="start" font-weight="normal" fill="#000" color="#000">Aging 48 hours</text>
<polyline points="369.45,442.06 371.21,368.59 372.96,371.13 374.72,372.81 376.47,373.94 378.23,375.07 379.99,376.19 381.74,377.04 383.5,377.88 385.25,378.44 387,379.01 388.76,379.29 390.51,379.85 392.27,380.13 394.02,380.42 395.78,380.7 397.53,380.98 399.29,381.26 401.04,381.26 402.8,381.54 404.56,381.54 406.31,386.33 408.06,381.82 409.82,381.26 411.57,382.1 413.33,381.82 415.08,381.26 416.84,381.54 418.59,382.39 420.35,382.1 422.1,381.54 423.86,381.26 425.62,382.1 427.37,381.82 429.12,381.26 430.88,381.54 432.63,382.39 434.39,381.82 436.14,381.26 437.9,380.7 439.65,377.04 441.41,368.31 443.16,378.44 444.92,379.85 446.67,380.7 448.43,381.26 450.19,381.82 451.94,381.26 453.69,381.54 455.45,382.1 457.2,381.54 458.96,381.26 460.71,381.82 462.47,382.39 464.22,388.86 465.98,413.91 467.74,436.15 469.49,444.6 471.25,429.12 473,440.94 474.75,451.07" fill="none" stroke="#ee9273" stroke-width="0.9" stroke-linejoin="round" stroke-linecap="round"/>
<rect x="367" y="439.61" width="4.9" height="4.9" fill="#fff" stroke="#ee9273" stroke-width="0.85"/>
<rect x="368.76" y="366.14" width="4.9" height="4.9" fill="#fff" stroke="#ee9273" stroke-width="0.85"/>
<rect x="370.51" y="368.68" width="4.9" height="4.9" fill="#fff" stroke="#ee9273" stroke-width="0.85"/>
<rect x="372.27" y="370.37" width="4.9" height="4.9" fill="#fff" stroke="#ee9273" stroke-width="0.85"/>
<rect x="374.02" y="371.49" width="4.9" height="4.9" fill="#fff" stroke="#ee9273" stroke-width="0.85"/>
<rect x="375.78" y="372.62" width="4.9" height="4.9" fill="#fff" stroke="#ee9273" stroke-width="0.85"/>
<rect x="377.54" y="373.74" width="4.9" height="4.9" fill="#fff" stroke="#ee9273" stroke-width="0.85"/>
<rect x="379.29" y="374.59" width="4.9" height="4.9" fill="#fff" stroke="#ee9273" stroke-width="0.85"/>
<rect x="381.05" y="375.43" width="4.9" height="4.9" fill="#fff" stroke="#ee9273" stroke-width="0.85"/>
<rect x="382.8" y="376" width="4.9" height="4.9" fill="#fff" stroke="#ee9273" stroke-width="0.85"/>
<rect x="384.56" y="376.56" width="4.9" height="4.9" fill="#fff" stroke="#ee9273" stroke-width="0.85"/>
<rect x="386.31" y="376.84" width="4.9" height="4.9" fill="#fff" stroke="#ee9273" stroke-width="0.85"/>
<rect x="388.06" y="377.4" width="4.9" height="4.9" fill="#fff" stroke="#ee9273" stroke-width="0.85"/>
<rect x="389.82" y="377.68" width="4.9" height="4.9" fill="#fff" stroke="#ee9273" stroke-width="0.85"/>
<rect x="391.57" y="377.97" width="4.9" height="4.9" fill="#fff" stroke="#ee9273" stroke-width="0.85"/>
<rect x="393.33" y="378.25" width="4.9" height="4.9" fill="#fff" stroke="#ee9273" stroke-width="0.85"/>
<rect x="395.08" y="378.53" width="4.9" height="4.9" fill="#fff" stroke="#ee9273" stroke-width="0.85"/>
<rect x="396.84" y="378.81" width="4.9" height="4.9" fill="#fff" stroke="#ee9273" stroke-width="0.85"/>
<rect x="398.59" y="378.81" width="4.9" height="4.9" fill="#fff" stroke="#ee9273" stroke-width="0.85"/>
<rect x="400.35" y="379.09" width="4.9" height="4.9" fill="#fff" stroke="#ee9273" stroke-width="0.85"/>
<rect x="402.11" y="379.09" width="4.9" height="4.9" fill="#fff" stroke="#ee9273" stroke-width="0.85"/>
<rect x="403.86" y="383.88" width="4.9" height="4.9" fill="#fff" stroke="#ee9273" stroke-width="0.85"/>
<rect x="405.62" y="379.37" width="4.9" height="4.9" fill="#fff" stroke="#ee9273" stroke-width="0.85"/>
<rect x="407.37" y="378.81" width="4.9" height="4.9" fill="#fff" stroke="#ee9273" stroke-width="0.85"/>
<rect x="409.12" y="379.65" width="4.9" height="4.9" fill="#fff" stroke="#ee9273" stroke-width="0.85"/>
<rect x="410.88" y="379.37" width="4.9" height="4.9" fill="#fff" stroke="#ee9273" stroke-width="0.85"/>
<rect x="412.63" y="378.81" width="4.9" height="4.9" fill="#fff" stroke="#ee9273" stroke-width="0.85"/>
<rect x="414.39" y="379.09" width="4.9" height="4.9" fill="#fff" stroke="#ee9273" stroke-width="0.85"/>
<rect x="416.14" y="379.94" width="4.9" height="4.9" fill="#fff" stroke="#ee9273" stroke-width="0.85"/>
<rect x="417.9" y="379.65" width="4.9" height="4.9" fill="#fff" stroke="#ee9273" stroke-width="0.85"/>
<rect x="419.65" y="379.09" width="4.9" height="4.9" fill="#fff" stroke="#ee9273" stroke-width="0.85"/>
<rect x="421.41" y="378.81" width="4.9" height="4.9" fill="#fff" stroke="#ee9273" stroke-width="0.85"/>
<rect x="423.17" y="379.65" width="4.9" height="4.9" fill="#fff" stroke="#ee9273" stroke-width="0.85"/>
<rect x="424.92" y="379.37" width="4.9" height="4.9" fill="#fff" stroke="#ee9273" stroke-width="0.85"/>
<rect x="426.68" y="378.81" width="4.9" height="4.9" fill="#fff" stroke="#ee9273" stroke-width="0.85"/>
<rect x="428.43" y="379.09" width="4.9" height="4.9" fill="#fff" stroke="#ee9273" stroke-width="0.85"/>
<rect x="430.19" y="379.94" width="4.9" height="4.9" fill="#fff" stroke="#ee9273" stroke-width="0.85"/>
<rect x="431.94" y="379.37" width="4.9" height="4.9" fill="#fff" stroke="#ee9273" stroke-width="0.85"/>
<rect x="433.69" y="378.81" width="4.9" height="4.9" fill="#fff" stroke="#ee9273" stroke-width="0.85"/>
<rect x="435.45" y="378.25" width="4.9" height="4.9" fill="#fff" stroke="#ee9273" stroke-width="0.85"/>
<rect x="437.2" y="374.59" width="4.9" height="4.9" fill="#fff" stroke="#ee9273" stroke-width="0.85"/>
<rect x="438.96" y="365.86" width="4.9" height="4.9" fill="#fff" stroke="#ee9273" stroke-width="0.85"/>
<rect x="440.71" y="376" width="4.9" height="4.9" fill="#fff" stroke="#ee9273" stroke-width="0.85"/>
<rect x="442.47" y="377.4" width="4.9" height="4.9" fill="#fff" stroke="#ee9273" stroke-width="0.85"/>
<rect x="444.22" y="378.25" width="4.9" height="4.9" fill="#fff" stroke="#ee9273" stroke-width="0.85"/>
<rect x="445.98" y="378.81" width="4.9" height="4.9" fill="#fff" stroke="#ee9273" stroke-width="0.85"/>
<rect x="447.74" y="379.37" width="4.9" height="4.9" fill="#fff" stroke="#ee9273" stroke-width="0.85"/>
<rect x="449.49" y="378.81" width="4.9" height="4.9" fill="#fff" stroke="#ee9273" stroke-width="0.85"/>
<rect x="451.25" y="379.09" width="4.9" height="4.9" fill="#fff" stroke="#ee9273" stroke-width="0.85"/>
<rect x="453" y="379.65" width="4.9" height="4.9" fill="#fff" stroke="#ee9273" stroke-width="0.85"/>
<rect x="454.75" y="379.09" width="4.9" height="4.9" fill="#fff" stroke="#ee9273" stroke-width="0.85"/>
<rect x="456.51" y="378.81" width="4.9" height="4.9" fill="#fff" stroke="#ee9273" stroke-width="0.85"/>
<rect x="458.26" y="379.37" width="4.9" height="4.9" fill="#fff" stroke="#ee9273" stroke-width="0.85"/>
<rect x="460.02" y="379.94" width="4.9" height="4.9" fill="#fff" stroke="#ee9273" stroke-width="0.85"/>
<rect x="461.77" y="386.41" width="4.9" height="4.9" fill="#fff" stroke="#ee9273" stroke-width="0.85"/>
<rect x="463.53" y="411.46" width="4.9" height="4.9" fill="#fff" stroke="#ee9273" stroke-width="0.85"/>
<rect x="465.29" y="433.7" width="4.9" height="4.9" fill="#fff" stroke="#ee9273" stroke-width="0.85"/>
<rect x="467.04" y="442.15" width="4.9" height="4.9" fill="#fff" stroke="#ee9273" stroke-width="0.85"/>
<rect x="468.8" y="426.67" width="4.9" height="4.9" fill="#fff" stroke="#ee9273" stroke-width="0.85"/>
<rect x="470.55" y="438.49" width="4.9" height="4.9" fill="#fff" stroke="#ee9273" stroke-width="0.85"/>
<rect x="472.31" y="448.62" width="4.9" height="4.9" fill="#fff" stroke="#ee9273" stroke-width="0.85"/>
<polyline points="369.45,447.41 371.21,363.81 372.96,370 374.72,370.84 376.47,372.25 378.23,374.22 379.99,375.63 381.74,376.19 383.5,377.04 385.25,377.6 387,377.04 388.76,376.19 390.51,377.88 392.27,379.57 394.02,376.47 395.78,375.63 397.53,377.6 399.29,378.44 401.04,377.04 402.8,377.88 404.56,377.6 406.31,366.62 408.06,373.94 409.82,375.63 411.57,376.76 413.33,377.6 415.08,378.44 416.84,377.32 418.59,377.88 420.35,378.44 422.1,377.6 423.86,377.04 425.62,378.16 427.37,378.44 429.12,377.32 430.88,377.88 432.63,378.73 434.39,377.6 436.14,377.04 437.9,377.32 439.65,376.19 441.41,362.68 443.16,371.41 444.92,373.94 446.67,375.63 448.43,376.76 450.19,377.6 451.94,377.04 453.69,377.88 455.45,378.44 457.2,377.6 458.96,377.32 460.71,377.88 462.47,377.6 464.22,377.04 465.98,377.88 467.74,377.32 469.49,376.19 471.25,376.76 473,375.63 474.75,371.97 476.51,366.06 478.26,373.1 480.02,378.73" fill="none" stroke="#4a0a9e" stroke-width="0.9" stroke-linejoin="round" stroke-linecap="round"/>
<rect x="367" y="444.96" width="4.9" height="4.9" fill="#fff" stroke="#4a0a9e" stroke-width="0.85"/>
<rect x="368.76" y="361.36" width="4.9" height="4.9" fill="#fff" stroke="#4a0a9e" stroke-width="0.85"/>
<rect x="370.51" y="367.55" width="4.9" height="4.9" fill="#fff" stroke="#4a0a9e" stroke-width="0.85"/>
<rect x="372.27" y="368.39" width="4.9" height="4.9" fill="#fff" stroke="#4a0a9e" stroke-width="0.85"/>
<rect x="374.02" y="369.8" width="4.9" height="4.9" fill="#fff" stroke="#4a0a9e" stroke-width="0.85"/>
<rect x="375.78" y="371.77" width="4.9" height="4.9" fill="#fff" stroke="#4a0a9e" stroke-width="0.85"/>
<rect x="377.54" y="373.18" width="4.9" height="4.9" fill="#fff" stroke="#4a0a9e" stroke-width="0.85"/>
<rect x="379.29" y="373.74" width="4.9" height="4.9" fill="#fff" stroke="#4a0a9e" stroke-width="0.85"/>
<rect x="381.05" y="374.59" width="4.9" height="4.9" fill="#fff" stroke="#4a0a9e" stroke-width="0.85"/>
<rect x="382.8" y="375.15" width="4.9" height="4.9" fill="#fff" stroke="#4a0a9e" stroke-width="0.85"/>
<rect x="384.56" y="374.59" width="4.9" height="4.9" fill="#fff" stroke="#4a0a9e" stroke-width="0.85"/>
<rect x="386.31" y="373.74" width="4.9" height="4.9" fill="#fff" stroke="#4a0a9e" stroke-width="0.85"/>
<rect x="388.06" y="375.43" width="4.9" height="4.9" fill="#fff" stroke="#4a0a9e" stroke-width="0.85"/>
<rect x="389.82" y="377.12" width="4.9" height="4.9" fill="#fff" stroke="#4a0a9e" stroke-width="0.85"/>
<rect x="391.57" y="374.02" width="4.9" height="4.9" fill="#fff" stroke="#4a0a9e" stroke-width="0.85"/>
<rect x="393.33" y="373.18" width="4.9" height="4.9" fill="#fff" stroke="#4a0a9e" stroke-width="0.85"/>
<rect x="395.08" y="375.15" width="4.9" height="4.9" fill="#fff" stroke="#4a0a9e" stroke-width="0.85"/>
<rect x="396.84" y="376" width="4.9" height="4.9" fill="#fff" stroke="#4a0a9e" stroke-width="0.85"/>
<rect x="398.59" y="374.59" width="4.9" height="4.9" fill="#fff" stroke="#4a0a9e" stroke-width="0.85"/>
<rect x="400.35" y="375.43" width="4.9" height="4.9" fill="#fff" stroke="#4a0a9e" stroke-width="0.85"/>
<rect x="402.11" y="375.15" width="4.9" height="4.9" fill="#fff" stroke="#4a0a9e" stroke-width="0.85"/>
<rect x="403.86" y="364.17" width="4.9" height="4.9" fill="#fff" stroke="#4a0a9e" stroke-width="0.85"/>
<rect x="405.62" y="371.49" width="4.9" height="4.9" fill="#fff" stroke="#4a0a9e" stroke-width="0.85"/>
<rect x="407.37" y="373.18" width="4.9" height="4.9" fill="#fff" stroke="#4a0a9e" stroke-width="0.85"/>
<rect x="409.12" y="374.31" width="4.9" height="4.9" fill="#fff" stroke="#4a0a9e" stroke-width="0.85"/>
<rect x="410.88" y="375.15" width="4.9" height="4.9" fill="#fff" stroke="#4a0a9e" stroke-width="0.85"/>
<rect x="412.63" y="376" width="4.9" height="4.9" fill="#fff" stroke="#4a0a9e" stroke-width="0.85"/>
<rect x="414.39" y="374.87" width="4.9" height="4.9" fill="#fff" stroke="#4a0a9e" stroke-width="0.85"/>
<rect x="416.14" y="375.43" width="4.9" height="4.9" fill="#fff" stroke="#4a0a9e" stroke-width="0.85"/>
<rect x="417.9" y="376" width="4.9" height="4.9" fill="#fff" stroke="#4a0a9e" stroke-width="0.85"/>
<rect x="419.65" y="375.15" width="4.9" height="4.9" fill="#fff" stroke="#4a0a9e" stroke-width="0.85"/>
<rect x="421.41" y="374.59" width="4.9" height="4.9" fill="#fff" stroke="#4a0a9e" stroke-width="0.85"/>
<rect x="423.17" y="375.71" width="4.9" height="4.9" fill="#fff" stroke="#4a0a9e" stroke-width="0.85"/>
<rect x="424.92" y="376" width="4.9" height="4.9" fill="#fff" stroke="#4a0a9e" stroke-width="0.85"/>
<rect x="426.68" y="374.87" width="4.9" height="4.9" fill="#fff" stroke="#4a0a9e" stroke-width="0.85"/>
<rect x="428.43" y="375.43" width="4.9" height="4.9" fill="#fff" stroke="#4a0a9e" stroke-width="0.85"/>
<rect x="430.19" y="376.28" width="4.9" height="4.9" fill="#fff" stroke="#4a0a9e" stroke-width="0.85"/>
<rect x="431.94" y="375.15" width="4.9" height="4.9" fill="#fff" stroke="#4a0a9e" stroke-width="0.85"/>
<rect x="433.69" y="374.59" width="4.9" height="4.9" fill="#fff" stroke="#4a0a9e" stroke-width="0.85"/>
<rect x="435.45" y="374.87" width="4.9" height="4.9" fill="#fff" stroke="#4a0a9e" stroke-width="0.85"/>
<rect x="437.2" y="373.74" width="4.9" height="4.9" fill="#fff" stroke="#4a0a9e" stroke-width="0.85"/>
<rect x="438.96" y="360.23" width="4.9" height="4.9" fill="#fff" stroke="#4a0a9e" stroke-width="0.85"/>
<rect x="440.71" y="368.96" width="4.9" height="4.9" fill="#fff" stroke="#4a0a9e" stroke-width="0.85"/>
<rect x="442.47" y="371.49" width="4.9" height="4.9" fill="#fff" stroke="#4a0a9e" stroke-width="0.85"/>
<rect x="444.22" y="373.18" width="4.9" height="4.9" fill="#fff" stroke="#4a0a9e" stroke-width="0.85"/>
<rect x="445.98" y="374.31" width="4.9" height="4.9" fill="#fff" stroke="#4a0a9e" stroke-width="0.85"/>
<rect x="447.74" y="375.15" width="4.9" height="4.9" fill="#fff" stroke="#4a0a9e" stroke-width="0.85"/>
<rect x="449.49" y="374.59" width="4.9" height="4.9" fill="#fff" stroke="#4a0a9e" stroke-width="0.85"/>
<rect x="451.25" y="375.43" width="4.9" height="4.9" fill="#fff" stroke="#4a0a9e" stroke-width="0.85"/>
<rect x="453" y="376" width="4.9" height="4.9" fill="#fff" stroke="#4a0a9e" stroke-width="0.85"/>
<rect x="454.75" y="375.15" width="4.9" height="4.9" fill="#fff" stroke="#4a0a9e" stroke-width="0.85"/>
<rect x="456.51" y="374.87" width="4.9" height="4.9" fill="#fff" stroke="#4a0a9e" stroke-width="0.85"/>
<rect x="458.26" y="375.43" width="4.9" height="4.9" fill="#fff" stroke="#4a0a9e" stroke-width="0.85"/>
<rect x="460.02" y="375.15" width="4.9" height="4.9" fill="#fff" stroke="#4a0a9e" stroke-width="0.85"/>
<rect x="461.77" y="374.59" width="4.9" height="4.9" fill="#fff" stroke="#4a0a9e" stroke-width="0.85"/>
<rect x="463.53" y="375.43" width="4.9" height="4.9" fill="#fff" stroke="#4a0a9e" stroke-width="0.85"/>
<rect x="465.29" y="374.87" width="4.9" height="4.9" fill="#fff" stroke="#4a0a9e" stroke-width="0.85"/>
<rect x="467.04" y="373.74" width="4.9" height="4.9" fill="#fff" stroke="#4a0a9e" stroke-width="0.85"/>
<rect x="468.8" y="374.31" width="4.9" height="4.9" fill="#fff" stroke="#4a0a9e" stroke-width="0.85"/>
<rect x="470.55" y="373.18" width="4.9" height="4.9" fill="#fff" stroke="#4a0a9e" stroke-width="0.85"/>
<rect x="472.31" y="369.52" width="4.9" height="4.9" fill="#fff" stroke="#4a0a9e" stroke-width="0.85"/>
<rect x="474.06" y="363.61" width="4.9" height="4.9" fill="#fff" stroke="#4a0a9e" stroke-width="0.85"/>
<rect x="475.81" y="370.65" width="4.9" height="4.9" fill="#fff" stroke="#4a0a9e" stroke-width="0.85"/>
<rect x="477.57" y="376.28" width="4.9" height="4.9" fill="#fff" stroke="#4a0a9e" stroke-width="0.85"/>
<polyline points="395.3,358.5 402.8,374.9" fill="none" stroke="#000" stroke-width="1.25" stroke-linejoin="round" stroke-linecap="round"/>
<polygon points="402.8,374.9 397.73,370.07 402.46,367.91" fill="#000"/>
<polyline points="418.5,355.4 408,364.2" fill="none" stroke="#000" stroke-width="1.25" stroke-linejoin="round" stroke-linecap="round"/>
<polygon points="408,364.2 411.31,358.03 414.65,362.02" fill="#000"/>
<polyline points="390.5,391.3 403.2,382.6" fill="none" stroke="#000" stroke-width="1.25" stroke-linejoin="round" stroke-linecap="round"/>
<polygon points="403.2,382.6 399.31,388.42 396.37,384.13" fill="#000"/>
<polyline points="418.5,398.5 407.2,388.3" fill="none" stroke="#000" stroke-width="1.25" stroke-linejoin="round" stroke-linecap="round"/>
<polygon points="407.2,388.3 413.77,390.73 410.28,394.59" fill="#000"/>
<text x="381.7" y="355.8" font-size="10.4" text-anchor="start" font-weight="normal" fill="#5a1aa8" color="#5a1aa8">97.3%</text>
<text x="413.3" y="355.8" font-size="10.4" text-anchor="start" font-weight="normal" fill="#5a1aa8" color="#5a1aa8">101.2%</text>
<text x="378.4" y="403.7" font-size="10.4" text-anchor="start" font-weight="normal" fill="#f0967a" color="#f0967a">95.9%</text>
<text x="410.2" y="407.5" font-size="10.4" text-anchor="start" font-weight="normal" fill="#f0967a" color="#f0967a">94.2%</text>
<line x1="382.1" y1="431.4" x2="385.6" y2="431.4" stroke="#ee9273" stroke-width="1.0"/>
<line x1="392.4" y1="431.4" x2="396.1" y2="431.4" stroke="#ee9273" stroke-width="1.0"/>
<rect x="386.85" y="429.25" width="4.3" height="4.3" fill="#fff" stroke="#ee9273" stroke-width="0.85"/>
<line x1="382.1" y1="444.5" x2="385.6" y2="444.5" stroke="#4a0a9e" stroke-width="1.0"/>
<line x1="392.4" y1="444.5" x2="396.1" y2="444.5" stroke="#4a0a9e" stroke-width="1.0"/>
<rect x="386.85" y="442.35" width="4.3" height="4.3" fill="#fff" stroke="#4a0a9e" stroke-width="0.85"/>
<text x="399.5" y="434.6" font-size="10.4" text-anchor="start" font-weight="normal" fill="#000" color="#000">CC charge</text>
<text x="399.5" y="447.6" font-size="10.4" text-anchor="start" font-weight="normal" fill="#000" color="#000">MPC charge</text>
<clipPath id="cl"><rect x="539.5" y="330" width="115" height="124"/></clipPath><g clip-path="url(#cl)">
<polyline points="540.98,450.22 542.75,363.08 544.53,364.49 546.3,365.28 548.08,366.86 549.85,367.05 551.62,367.74 553.4,368.24 555.18,367.34 556.95,368.88 558.73,368.62 560.5,369.24 562.28,370.13 564.05,369.59 565.83,371.09 567.6,370.6 569.38,371.97 571.15,371.85 572.93,372.64 574.7,372.94 576.48,372.94 578.25,376.97 580.03,372.17 581.8,371.13 583.58,372.33 585.35,372.01 587.12,371.18 588.9,371.56 590.68,372.53 592.45,370.94 594.23,372.33 596,372.25 597.78,371.33 599.55,372.12 601.33,372.18 603.1,372.58 604.88,372.55 606.65,371.67 608.43,372.28 610.2,371.63 611.98,372.05 613.75,371.9 615.53,370.99 617.3,371.85 619.08,371.68 620.85,371.16 622.62,372.38 624.4,372.44 626.18,371.08 627.95,371.25 629.73,372.26 631.5,372.37 633.28,371.39 635.05,382.12 636.83,374.95 638.6,389.74 640.38,394.89 642.15,409 643.93,415.05 645.7,411.02 647.48,448.65 649.25,433.64 651.03,429.16 652.8,431.85 654.58,449.54" fill="none" stroke="#ee9273" stroke-width="0.9" stroke-linejoin="round" stroke-linecap="round"/>
<rect x="538.83" y="448.07" width="4.3" height="4.3" fill="#fff" stroke="#ee9273" stroke-width="0.85"/>
<rect x="540.6" y="360.93" width="4.3" height="4.3" fill="#fff" stroke="#ee9273" stroke-width="0.85"/>
<rect x="542.38" y="362.34" width="4.3" height="4.3" fill="#fff" stroke="#ee9273" stroke-width="0.85"/>
<rect x="544.15" y="363.13" width="4.3" height="4.3" fill="#fff" stroke="#ee9273" stroke-width="0.85"/>
<rect x="545.93" y="364.71" width="4.3" height="4.3" fill="#fff" stroke="#ee9273" stroke-width="0.85"/>
<rect x="547.7" y="364.9" width="4.3" height="4.3" fill="#fff" stroke="#ee9273" stroke-width="0.85"/>
<rect x="549.48" y="365.59" width="4.3" height="4.3" fill="#fff" stroke="#ee9273" stroke-width="0.85"/>
<rect x="551.25" y="366.09" width="4.3" height="4.3" fill="#fff" stroke="#ee9273" stroke-width="0.85"/>
<rect x="553.03" y="365.19" width="4.3" height="4.3" fill="#fff" stroke="#ee9273" stroke-width="0.85"/>
<rect x="554.8" y="366.73" width="4.3" height="4.3" fill="#fff" stroke="#ee9273" stroke-width="0.85"/>
<rect x="556.58" y="366.47" width="4.3" height="4.3" fill="#fff" stroke="#ee9273" stroke-width="0.85"/>
<rect x="558.35" y="367.09" width="4.3" height="4.3" fill="#fff" stroke="#ee9273" stroke-width="0.85"/>
<rect x="560.13" y="367.98" width="4.3" height="4.3" fill="#fff" stroke="#ee9273" stroke-width="0.85"/>
<rect x="561.9" y="367.44" width="4.3" height="4.3" fill="#fff" stroke="#ee9273" stroke-width="0.85"/>
<rect x="563.68" y="368.94" width="4.3" height="4.3" fill="#fff" stroke="#ee9273" stroke-width="0.85"/>
<rect x="565.45" y="368.45" width="4.3" height="4.3" fill="#fff" stroke="#ee9273" stroke-width="0.85"/>
<rect x="567.23" y="369.82" width="4.3" height="4.3" fill="#fff" stroke="#ee9273" stroke-width="0.85"/>
<rect x="569" y="369.7" width="4.3" height="4.3" fill="#fff" stroke="#ee9273" stroke-width="0.85"/>
<rect x="570.78" y="370.49" width="4.3" height="4.3" fill="#fff" stroke="#ee9273" stroke-width="0.85"/>
<rect x="572.55" y="370.79" width="4.3" height="4.3" fill="#fff" stroke="#ee9273" stroke-width="0.85"/>
<rect x="574.33" y="370.79" width="4.3" height="4.3" fill="#fff" stroke="#ee9273" stroke-width="0.85"/>
<rect x="576.1" y="374.82" width="4.3" height="4.3" fill="#fff" stroke="#ee9273" stroke-width="0.85"/>
<rect x="577.88" y="370.02" width="4.3" height="4.3" fill="#fff" stroke="#ee9273" stroke-width="0.85"/>
<rect x="579.65" y="368.98" width="4.3" height="4.3" fill="#fff" stroke="#ee9273" stroke-width="0.85"/>
<rect x="581.43" y="370.18" width="4.3" height="4.3" fill="#fff" stroke="#ee9273" stroke-width="0.85"/>
<rect x="583.2" y="369.86" width="4.3" height="4.3" fill="#fff" stroke="#ee9273" stroke-width="0.85"/>
<rect x="584.98" y="369.03" width="4.3" height="4.3" fill="#fff" stroke="#ee9273" stroke-width="0.85"/>
<rect x="586.75" y="369.41" width="4.3" height="4.3" fill="#fff" stroke="#ee9273" stroke-width="0.85"/>
<rect x="588.53" y="370.38" width="4.3" height="4.3" fill="#fff" stroke="#ee9273" stroke-width="0.85"/>
<rect x="590.3" y="368.79" width="4.3" height="4.3" fill="#fff" stroke="#ee9273" stroke-width="0.85"/>
<rect x="592.08" y="370.18" width="4.3" height="4.3" fill="#fff" stroke="#ee9273" stroke-width="0.85"/>
<rect x="593.85" y="370.1" width="4.3" height="4.3" fill="#fff" stroke="#ee9273" stroke-width="0.85"/>
<rect x="595.63" y="369.18" width="4.3" height="4.3" fill="#fff" stroke="#ee9273" stroke-width="0.85"/>
<rect x="597.4" y="369.97" width="4.3" height="4.3" fill="#fff" stroke="#ee9273" stroke-width="0.85"/>
<rect x="599.18" y="370.03" width="4.3" height="4.3" fill="#fff" stroke="#ee9273" stroke-width="0.85"/>
<rect x="600.95" y="370.43" width="4.3" height="4.3" fill="#fff" stroke="#ee9273" stroke-width="0.85"/>
<rect x="602.73" y="370.4" width="4.3" height="4.3" fill="#fff" stroke="#ee9273" stroke-width="0.85"/>
<rect x="604.5" y="369.52" width="4.3" height="4.3" fill="#fff" stroke="#ee9273" stroke-width="0.85"/>
<rect x="606.28" y="370.13" width="4.3" height="4.3" fill="#fff" stroke="#ee9273" stroke-width="0.85"/>
<rect x="608.05" y="369.48" width="4.3" height="4.3" fill="#fff" stroke="#ee9273" stroke-width="0.85"/>
<rect x="609.83" y="369.9" width="4.3" height="4.3" fill="#fff" stroke="#ee9273" stroke-width="0.85"/>
<rect x="611.6" y="369.75" width="4.3" height="4.3" fill="#fff" stroke="#ee9273" stroke-width="0.85"/>
<rect x="613.38" y="368.84" width="4.3" height="4.3" fill="#fff" stroke="#ee9273" stroke-width="0.85"/>
<rect x="615.15" y="369.7" width="4.3" height="4.3" fill="#fff" stroke="#ee9273" stroke-width="0.85"/>
<rect x="616.93" y="369.53" width="4.3" height="4.3" fill="#fff" stroke="#ee9273" stroke-width="0.85"/>
<rect x="618.7" y="369.01" width="4.3" height="4.3" fill="#fff" stroke="#ee9273" stroke-width="0.85"/>
<rect x="620.48" y="370.23" width="4.3" height="4.3" fill="#fff" stroke="#ee9273" stroke-width="0.85"/>
<rect x="622.25" y="370.29" width="4.3" height="4.3" fill="#fff" stroke="#ee9273" stroke-width="0.85"/>
<rect x="624.03" y="368.93" width="4.3" height="4.3" fill="#fff" stroke="#ee9273" stroke-width="0.85"/>
<rect x="625.8" y="369.1" width="4.3" height="4.3" fill="#fff" stroke="#ee9273" stroke-width="0.85"/>
<rect x="627.58" y="370.11" width="4.3" height="4.3" fill="#fff" stroke="#ee9273" stroke-width="0.85"/>
<rect x="629.35" y="370.22" width="4.3" height="4.3" fill="#fff" stroke="#ee9273" stroke-width="0.85"/>
<rect x="631.13" y="369.24" width="4.3" height="4.3" fill="#fff" stroke="#ee9273" stroke-width="0.85"/>
<rect x="632.9" y="379.97" width="4.3" height="4.3" fill="#fff" stroke="#ee9273" stroke-width="0.85"/>
<rect x="634.68" y="372.8" width="4.3" height="4.3" fill="#fff" stroke="#ee9273" stroke-width="0.85"/>
<rect x="636.45" y="387.59" width="4.3" height="4.3" fill="#fff" stroke="#ee9273" stroke-width="0.85"/>
<rect x="638.23" y="392.74" width="4.3" height="4.3" fill="#fff" stroke="#ee9273" stroke-width="0.85"/>
<rect x="640" y="406.85" width="4.3" height="4.3" fill="#fff" stroke="#ee9273" stroke-width="0.85"/>
<rect x="641.78" y="412.9" width="4.3" height="4.3" fill="#fff" stroke="#ee9273" stroke-width="0.85"/>
<rect x="643.55" y="408.87" width="4.3" height="4.3" fill="#fff" stroke="#ee9273" stroke-width="0.85"/>
<rect x="645.33" y="446.5" width="4.3" height="4.3" fill="#fff" stroke="#ee9273" stroke-width="0.85"/>
<rect x="647.1" y="431.49" width="4.3" height="4.3" fill="#fff" stroke="#ee9273" stroke-width="0.85"/>
<rect x="648.88" y="427.01" width="4.3" height="4.3" fill="#fff" stroke="#ee9273" stroke-width="0.85"/>
<rect x="650.65" y="429.7" width="4.3" height="4.3" fill="#fff" stroke="#ee9273" stroke-width="0.85"/>
<rect x="652.43" y="447.39" width="4.3" height="4.3" fill="#fff" stroke="#ee9273" stroke-width="0.85"/>
<polyline points="540.98,447.75 542.75,357.48 544.53,364.2 546.3,365.2 548.08,365.16 549.85,364.55 551.62,365.78 553.4,365.88 555.18,365.91 556.95,367.01 558.73,366.48 560.5,366.42 562.28,366.25 564.05,362.86 565.83,367.75 567.6,368.43 569.38,367.02 571.15,367.49 572.93,369.15 574.7,367.6 576.48,368.68 578.25,364.65 580.03,368.42 581.8,369.45 583.58,369.77 585.35,368.62 587.12,369.67 588.9,369.37 590.68,369.26 592.45,369.73 594.23,368.76 596,368.81 597.78,367.91 599.55,368.64 601.33,368.37 603.1,368.68 604.88,368.32 606.65,368.78 608.43,369.18 610.2,367.57 611.98,367.57 613.75,364.2 615.53,368.21 617.3,369.09 619.08,369.29 620.85,369.15 622.62,369.64 624.4,368.08 626.18,368.9 627.95,367.9 629.73,368.93 631.5,367.65 633.28,367.9 635.05,369.8 636.83,369.33 638.6,367.76 640.38,368.75 642.15,367.6 643.93,368.91 645.7,369.64 647.48,368.39 649.25,361.96 651.03,365.32 652.8,369.6 654.58,369.06" fill="none" stroke="#4a0a9e" stroke-width="0.9" stroke-linejoin="round" stroke-linecap="round"/>
<rect x="538.83" y="445.6" width="4.3" height="4.3" fill="#fff" stroke="#4a0a9e" stroke-width="0.85"/>
<rect x="540.6" y="355.33" width="4.3" height="4.3" fill="#fff" stroke="#4a0a9e" stroke-width="0.85"/>
<rect x="542.38" y="362.05" width="4.3" height="4.3" fill="#fff" stroke="#4a0a9e" stroke-width="0.85"/>
<rect x="544.15" y="363.05" width="4.3" height="4.3" fill="#fff" stroke="#4a0a9e" stroke-width="0.85"/>
<rect x="545.93" y="363.01" width="4.3" height="4.3" fill="#fff" stroke="#4a0a9e" stroke-width="0.85"/>
<rect x="547.7" y="362.4" width="4.3" height="4.3" fill="#fff" stroke="#4a0a9e" stroke-width="0.85"/>
<rect x="549.48" y="363.63" width="4.3" height="4.3" fill="#fff" stroke="#4a0a9e" stroke-width="0.85"/>
<rect x="551.25" y="363.73" width="4.3" height="4.3" fill="#fff" stroke="#4a0a9e" stroke-width="0.85"/>
<rect x="553.03" y="363.76" width="4.3" height="4.3" fill="#fff" stroke="#4a0a9e" stroke-width="0.85"/>
<rect x="554.8" y="364.86" width="4.3" height="4.3" fill="#fff" stroke="#4a0a9e" stroke-width="0.85"/>
<rect x="556.58" y="364.33" width="4.3" height="4.3" fill="#fff" stroke="#4a0a9e" stroke-width="0.85"/>
<rect x="558.35" y="364.27" width="4.3" height="4.3" fill="#fff" stroke="#4a0a9e" stroke-width="0.85"/>
<rect x="560.13" y="364.1" width="4.3" height="4.3" fill="#fff" stroke="#4a0a9e" stroke-width="0.85"/>
<rect x="561.9" y="360.71" width="4.3" height="4.3" fill="#fff" stroke="#4a0a9e" stroke-width="0.85"/>
<rect x="563.68" y="365.6" width="4.3" height="4.3" fill="#fff" stroke="#4a0a9e" stroke-width="0.85"/>
<rect x="565.45" y="366.28" width="4.3" height="4.3" fill="#fff" stroke="#4a0a9e" stroke-width="0.85"/>
<rect x="567.23" y="364.87" width="4.3" height="4.3" fill="#fff" stroke="#4a0a9e" stroke-width="0.85"/>
<rect x="569" y="365.34" width="4.3" height="4.3" fill="#fff" stroke="#4a0a9e" stroke-width="0.85"/>
<rect x="570.78" y="367" width="4.3" height="4.3" fill="#fff" stroke="#4a0a9e" stroke-width="0.85"/>
<rect x="572.55" y="365.45" width="4.3" height="4.3" fill="#fff" stroke="#4a0a9e" stroke-width="0.85"/>
<rect x="574.33" y="366.53" width="4.3" height="4.3" fill="#fff" stroke="#4a0a9e" stroke-width="0.85"/>
<rect x="576.1" y="362.5" width="4.3" height="4.3" fill="#fff" stroke="#4a0a9e" stroke-width="0.85"/>
<rect x="577.88" y="366.27" width="4.3" height="4.3" fill="#fff" stroke="#4a0a9e" stroke-width="0.85"/>
<rect x="579.65" y="367.3" width="4.3" height="4.3" fill="#fff" stroke="#4a0a9e" stroke-width="0.85"/>
<rect x="581.43" y="367.62" width="4.3" height="4.3" fill="#fff" stroke="#4a0a9e" stroke-width="0.85"/>
<rect x="583.2" y="366.47" width="4.3" height="4.3" fill="#fff" stroke="#4a0a9e" stroke-width="0.85"/>
<rect x="584.98" y="367.52" width="4.3" height="4.3" fill="#fff" stroke="#4a0a9e" stroke-width="0.85"/>
<rect x="586.75" y="367.22" width="4.3" height="4.3" fill="#fff" stroke="#4a0a9e" stroke-width="0.85"/>
<rect x="588.53" y="367.11" width="4.3" height="4.3" fill="#fff" stroke="#4a0a9e" stroke-width="0.85"/>
<rect x="590.3" y="367.58" width="4.3" height="4.3" fill="#fff" stroke="#4a0a9e" stroke-width="0.85"/>
<rect x="592.08" y="366.61" width="4.3" height="4.3" fill="#fff" stroke="#4a0a9e" stroke-width="0.85"/>
<rect x="593.85" y="366.66" width="4.3" height="4.3" fill="#fff" stroke="#4a0a9e" stroke-width="0.85"/>
<rect x="595.63" y="365.76" width="4.3" height="4.3" fill="#fff" stroke="#4a0a9e" stroke-width="0.85"/>
<rect x="597.4" y="366.49" width="4.3" height="4.3" fill="#fff" stroke="#4a0a9e" stroke-width="0.85"/>
<rect x="599.18" y="366.22" width="4.3" height="4.3" fill="#fff" stroke="#4a0a9e" stroke-width="0.85"/>
<rect x="600.95" y="366.53" width="4.3" height="4.3" fill="#fff" stroke="#4a0a9e" stroke-width="0.85"/>
<rect x="602.73" y="366.17" width="4.3" height="4.3" fill="#fff" stroke="#4a0a9e" stroke-width="0.85"/>
<rect x="604.5" y="366.63" width="4.3" height="4.3" fill="#fff" stroke="#4a0a9e" stroke-width="0.85"/>
<rect x="606.28" y="367.03" width="4.3" height="4.3" fill="#fff" stroke="#4a0a9e" stroke-width="0.85"/>
<rect x="608.05" y="365.42" width="4.3" height="4.3" fill="#fff" stroke="#4a0a9e" stroke-width="0.85"/>
<rect x="609.83" y="365.42" width="4.3" height="4.3" fill="#fff" stroke="#4a0a9e" stroke-width="0.85"/>
<rect x="611.6" y="362.05" width="4.3" height="4.3" fill="#fff" stroke="#4a0a9e" stroke-width="0.85"/>
<rect x="613.38" y="366.06" width="4.3" height="4.3" fill="#fff" stroke="#4a0a9e" stroke-width="0.85"/>
<rect x="615.15" y="366.94" width="4.3" height="4.3" fill="#fff" stroke="#4a0a9e" stroke-width="0.85"/>
<rect x="616.93" y="367.14" width="4.3" height="4.3" fill="#fff" stroke="#4a0a9e" stroke-width="0.85"/>
<rect x="618.7" y="367" width="4.3" height="4.3" fill="#fff" stroke="#4a0a9e" stroke-width="0.85"/>
<rect x="620.48" y="367.49" width="4.3" height="4.3" fill="#fff" stroke="#4a0a9e" stroke-width="0.85"/>
<rect x="622.25" y="365.93" width="4.3" height="4.3" fill="#fff" stroke="#4a0a9e" stroke-width="0.85"/>
<rect x="624.03" y="366.75" width="4.3" height="4.3" fill="#fff" stroke="#4a0a9e" stroke-width="0.85"/>
<rect x="625.8" y="365.75" width="4.3" height="4.3" fill="#fff" stroke="#4a0a9e" stroke-width="0.85"/>
<rect x="627.58" y="366.78" width="4.3" height="4.3" fill="#fff" stroke="#4a0a9e" stroke-width="0.85"/>
<rect x="629.35" y="365.5" width="4.3" height="4.3" fill="#fff" stroke="#4a0a9e" stroke-width="0.85"/>
<rect x="631.13" y="365.75" width="4.3" height="4.3" fill="#fff" stroke="#4a0a9e" stroke-width="0.85"/>
<rect x="632.9" y="367.65" width="4.3" height="4.3" fill="#fff" stroke="#4a0a9e" stroke-width="0.85"/>
<rect x="634.68" y="367.18" width="4.3" height="4.3" fill="#fff" stroke="#4a0a9e" stroke-width="0.85"/>
<rect x="636.45" y="365.61" width="4.3" height="4.3" fill="#fff" stroke="#4a0a9e" stroke-width="0.85"/>
<rect x="638.23" y="366.6" width="4.3" height="4.3" fill="#fff" stroke="#4a0a9e" stroke-width="0.85"/>
<rect x="640" y="365.45" width="4.3" height="4.3" fill="#fff" stroke="#4a0a9e" stroke-width="0.85"/>
<rect x="641.78" y="366.76" width="4.3" height="4.3" fill="#fff" stroke="#4a0a9e" stroke-width="0.85"/>
<rect x="643.55" y="367.49" width="4.3" height="4.3" fill="#fff" stroke="#4a0a9e" stroke-width="0.85"/>
<rect x="645.33" y="366.24" width="4.3" height="4.3" fill="#fff" stroke="#4a0a9e" stroke-width="0.85"/>
<rect x="647.1" y="359.81" width="4.3" height="4.3" fill="#fff" stroke="#4a0a9e" stroke-width="0.85"/>
<rect x="648.88" y="363.17" width="4.3" height="4.3" fill="#fff" stroke="#4a0a9e" stroke-width="0.85"/>
<rect x="650.65" y="367.45" width="4.3" height="4.3" fill="#fff" stroke="#4a0a9e" stroke-width="0.85"/>
<rect x="652.43" y="366.91" width="4.3" height="4.3" fill="#fff" stroke="#4a0a9e" stroke-width="0.85"/>
</g>
<polyline points="570.8,353.3 575,367.5" fill="none" stroke="#000" stroke-width="1.25" stroke-linejoin="round" stroke-linecap="round"/>
<polygon points="575,367.5 570.66,362 575.65,360.53" fill="#000"/>
<polyline points="590,352.5 580,362.5" fill="none" stroke="#000" stroke-width="1.25" stroke-linejoin="round" stroke-linecap="round"/>
<polygon points="580,362.5 582.76,356.07 586.43,359.74" fill="#000"/>
<polyline points="569.2,384.2 574.2,375" fill="none" stroke="#000" stroke-width="1.25" stroke-linejoin="round" stroke-linecap="round"/>
<polygon points="574.2,375 573.38,381.95 568.81,379.47" fill="#000"/>
<polyline points="586.7,388.3 579.2,380" fill="none" stroke="#000" stroke-width="1.25" stroke-linejoin="round" stroke-linecap="round"/>
<polygon points="579.2,380 585.49,383.08 581.63,386.57" fill="#000"/>
<text x="559.2" y="351.7" font-size="10.4" text-anchor="start" font-weight="normal" fill="#5a1aa8" color="#5a1aa8">98%</text>
<text x="582" y="351.7" font-size="10.4" text-anchor="start" font-weight="normal" fill="#5a1aa8" color="#5a1aa8">99.8%</text>
<text x="549.2" y="395" font-size="10.4" text-anchor="start" font-weight="normal" fill="#f0967a" color="#f0967a">96.1%</text>
<text x="583.3" y="397" font-size="10.4" text-anchor="start" font-weight="normal" fill="#f0967a" color="#f0967a">94.3%</text>
<line x1="551.2" y1="430.5" x2="554.9" y2="430.5" stroke="#ee9273" stroke-width="1.0"/>
<line x1="561.3" y1="430.5" x2="565.9" y2="430.5" stroke="#ee9273" stroke-width="1.0"/>
<rect x="556.05" y="428.35" width="4.3" height="4.3" fill="#fff" stroke="#ee9273" stroke-width="0.85"/>
<line x1="551.2" y1="443.3" x2="554.9" y2="443.3" stroke="#4a0a9e" stroke-width="1.0"/>
<line x1="561.3" y1="443.3" x2="565.9" y2="443.3" stroke="#4a0a9e" stroke-width="1.0"/>
<rect x="556.05" y="441.15" width="4.3" height="4.3" fill="#fff" stroke="#4a0a9e" stroke-width="0.85"/>
<text x="568.3" y="433.4" font-size="10.4" text-anchor="start" font-weight="normal" fill="#000" color="#000">CC charge</text>
<text x="568.3" y="446.3" font-size="10.4" text-anchor="start" font-weight="normal" fill="#000" color="#000">MPC charge</text>
</svg></body></html>
